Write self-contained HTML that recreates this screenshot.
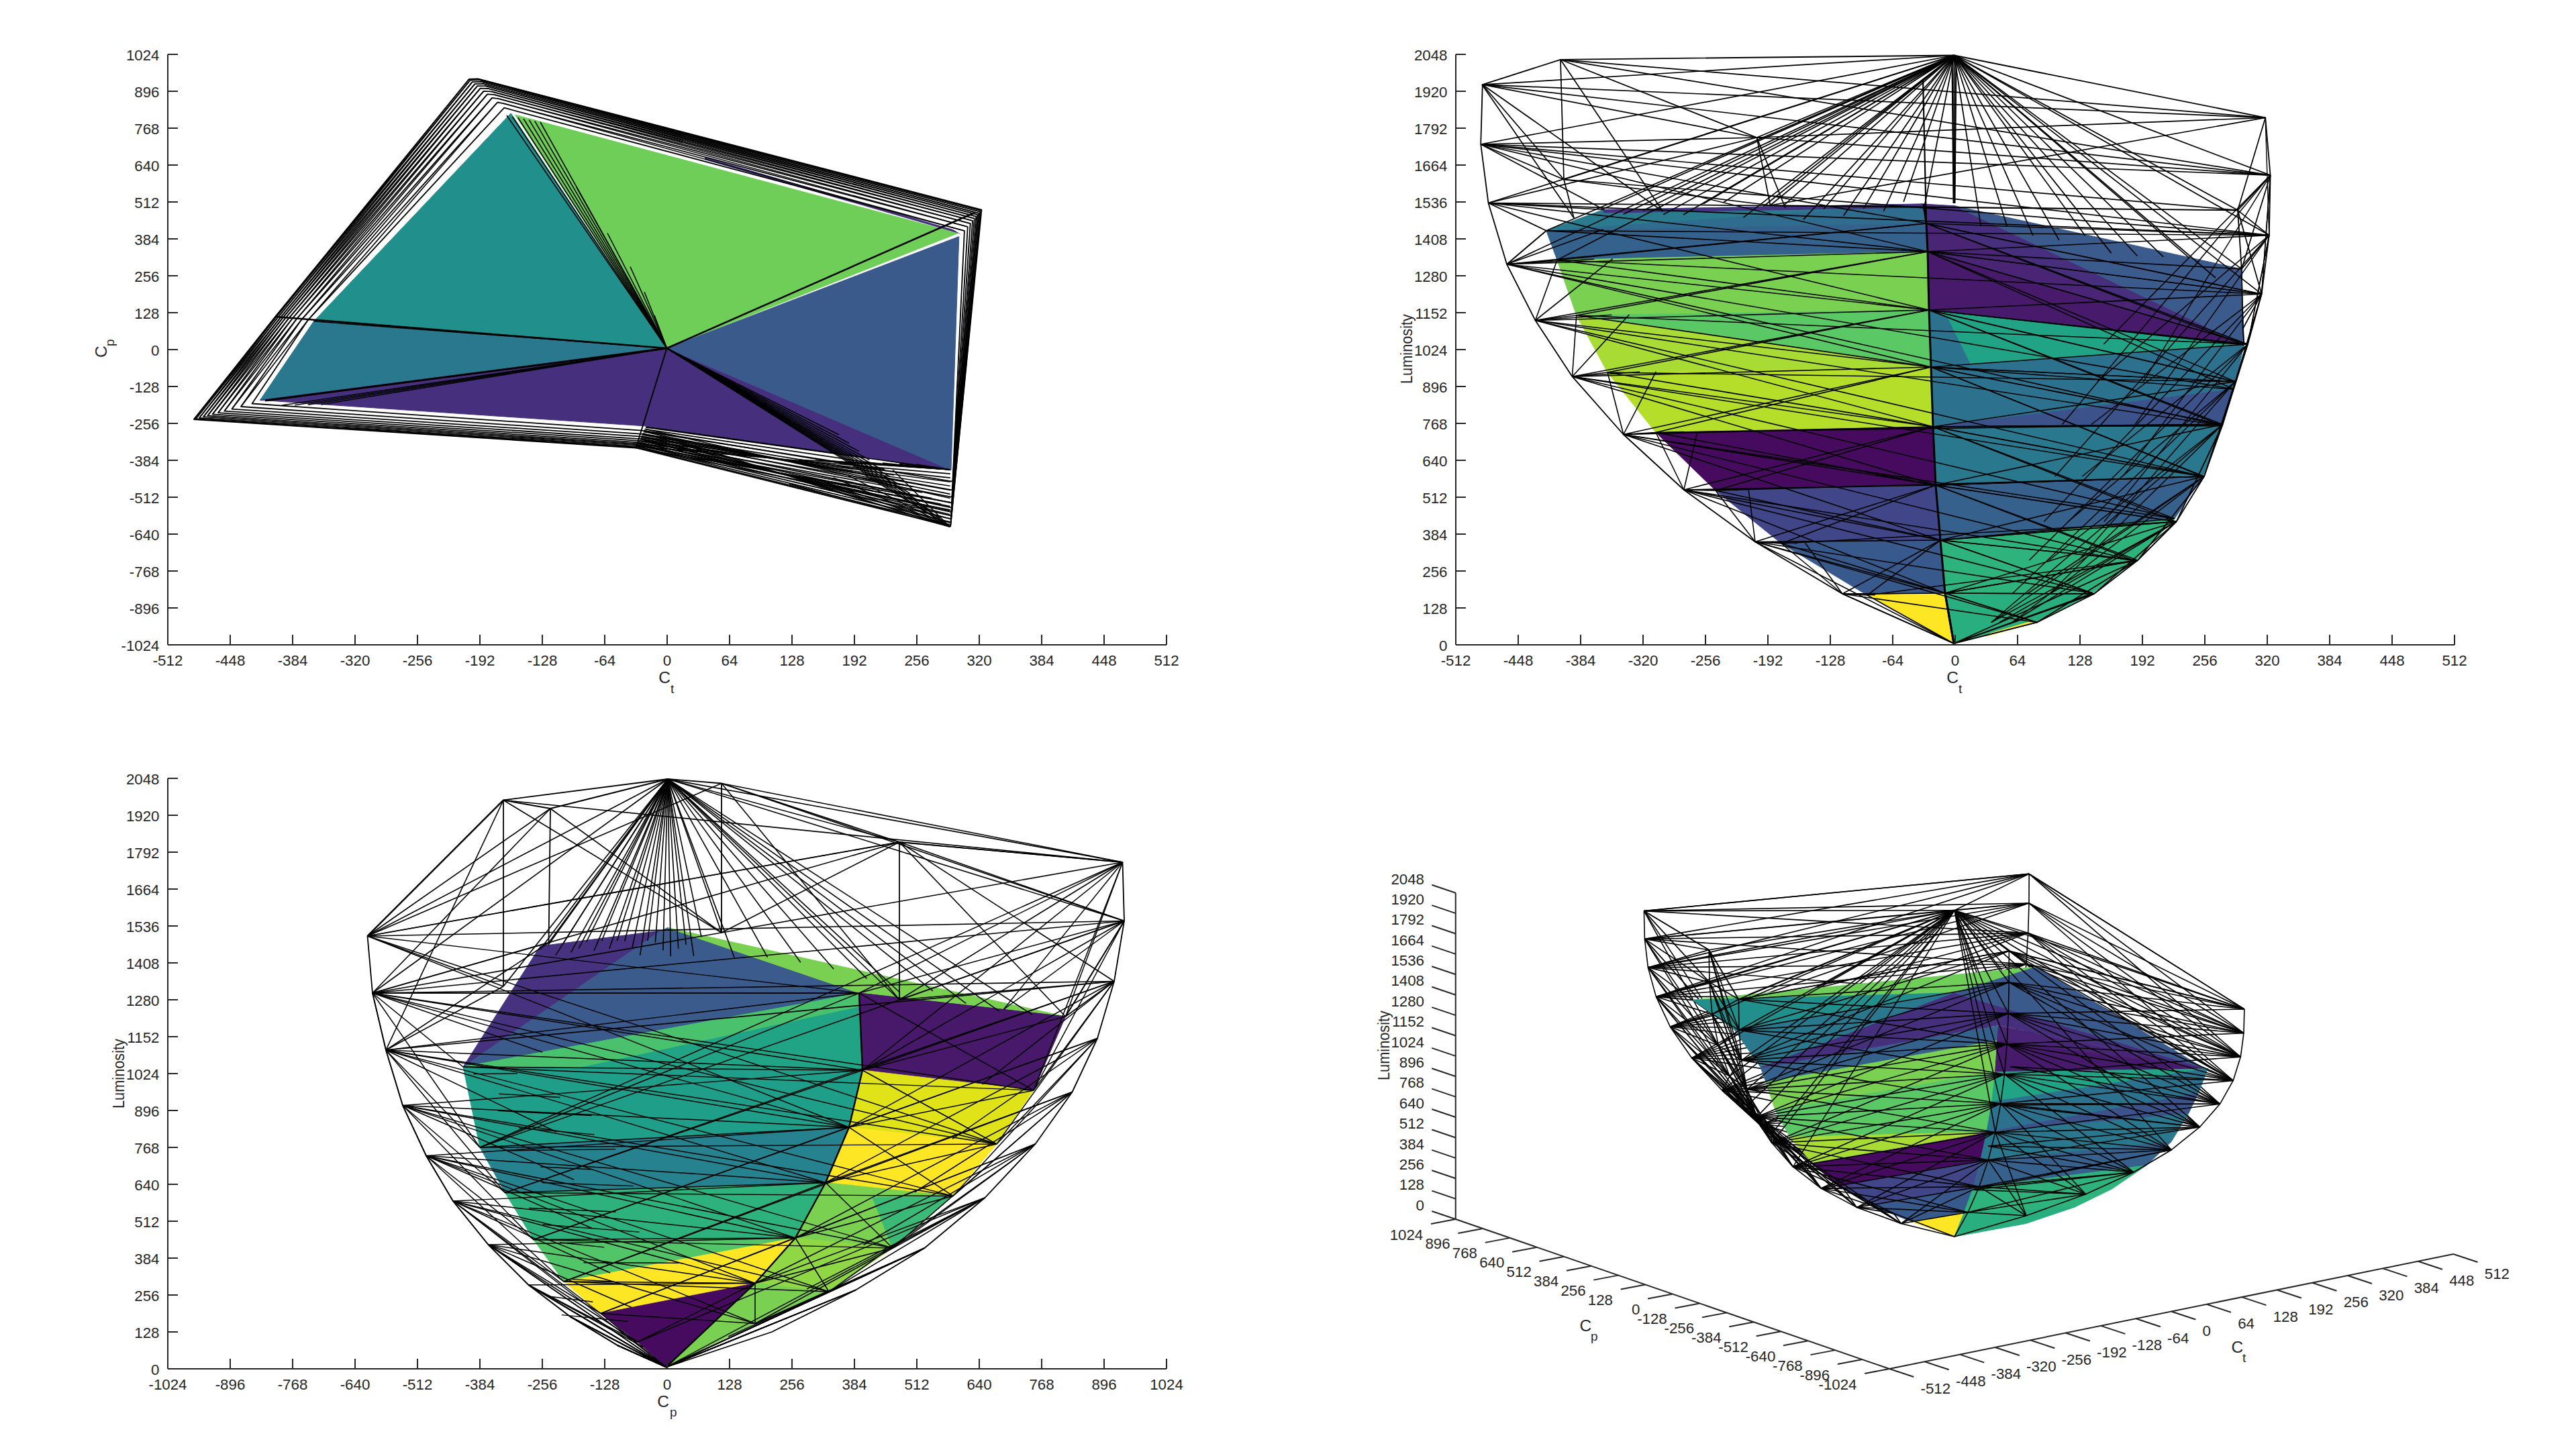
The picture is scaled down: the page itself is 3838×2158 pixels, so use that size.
<!DOCTYPE html><html><head><meta charset="utf-8"><style>html,body{margin:0;padding:0;background:#fff;overflow:hidden}svg{display:block}</style></head><body><svg xmlns="http://www.w3.org/2000/svg" width="3838" height="2158" viewBox="0 0 3838 2158" font-family="Liberation Sans, sans-serif">
<rect width="3838" height="2158" fill="#fff"/>
<polygon points="767.5,171.2 993.5,519.0 1427.5,347.5" fill="#6ece58" stroke="#6ece58" stroke-width="1" stroke-linejoin="round"/>
<polygon points="761.2,168.8 467.5,478.8 993.5,519.0" fill="#21908d" stroke="#21908d" stroke-width="1" stroke-linejoin="round"/>
<polygon points="467.5,478.8 387.5,596.2 993.5,519.0" fill="#2a788e" stroke="#2a788e" stroke-width="1" stroke-linejoin="round"/>
<polygon points="387.5,596.2 993.5,519.0 1417.0,700.5 1365.5,694.0 1288.0,681.5 1150.0,662.8 962.5,635.0 477.5,602.5" fill="#46307e" stroke="#46307e" stroke-width="1" stroke-linejoin="round"/>
<polygon points="993.5,519.0 1428.8,352.5 1417.0,700.5" fill="#3a5a8c" stroke="#3a5a8c" stroke-width="1" stroke-linejoin="round"/>
<polygon points="1050.0,238.0 1427.5,347.5 1433.0,350.0 1420.0,342.0 1050.0,234.0" fill="#46307e"/>
<polygon points="288.8,625.0 410.0,472.0 698.8,118.0 712.5,117.5 1462.5,312.5 1416.2,784.5 947.5,667.5" fill="none" stroke="#000" stroke-width="1.8" stroke-linejoin="round"/>
<polygon points="291.8,624.2 411.7,472.2 700.6,119.5 714.1,119.1 1461.6,313.6 1416.4,782.1 948.0,666.6" fill="none" stroke="#000" stroke-width="1.8" stroke-linejoin="round"/>
<polygon points="297.0,622.8 414.6,472.5 703.8,122.1 716.9,121.8 1460.1,315.5 1416.5,778.1 948.7,665.1" fill="none" stroke="#000" stroke-width="1.8" stroke-linejoin="round"/>
<polygon points="303.2,621.1 418.1,472.9 707.5,125.1 720.2,125.0 1458.2,317.8 1416.8,773.4 949.6,663.2" fill="none" stroke="#000" stroke-width="1.8" stroke-linejoin="round"/>
<polygon points="309.4,619.4 421.5,473.4 711.2,128.2 723.5,128.2 1456.4,320.0 1417.0,768.6 950.5,661.4" fill="none" stroke="#000" stroke-width="1.8" stroke-linejoin="round"/>
<polygon points="316.6,617.4 425.5,473.8 715.6,131.7 727.4,132.0 1454.3,322.6 1417.3,763.0 951.5,659.3" fill="none" stroke="#000" stroke-width="1.8" stroke-linejoin="round"/>
<polygon points="324.9,615.2 430.1,474.4 720.6,135.8 731.8,136.3 1451.8,325.6 1417.6,756.7 952.8,656.8" fill="none" stroke="#000" stroke-width="1.8" stroke-linejoin="round"/>
<polygon points="334.2,612.7 435.3,475.0 726.2,140.3 736.7,141.2 1449.1,329.0 1417.9,749.5 954.1,654.1" fill="none" stroke="#000" stroke-width="1.8" stroke-linejoin="round"/>
<polygon points="345.5,609.6 441.6,475.7 733.1,145.9 742.8,147.1 1445.7,333.1 1418.3,740.8 955.8,650.7" fill="none" stroke="#000" stroke-width="1.8" stroke-linejoin="round"/>
<polygon points="359.0,606.0 449.1,476.6 741.2,152.5 749.9,154.1 1441.8,338.0 1418.8,730.4 957.7,646.8" fill="none" stroke="#000" stroke-width="1.8" stroke-linejoin="round"/>
<polygon points="375.5,601.5 458.3,477.7 751.2,160.6 758.7,162.7 1436.9,344.0 1419.4,717.7 960.1,641.9" fill="none" stroke="#000" stroke-width="1.8" stroke-linejoin="round"/>
<line x1="698.8" y1="118.0" x2="411.7" y2="472.2" stroke="#000" stroke-width="1.6"/>
<line x1="288.8" y1="625.0" x2="411.7" y2="472.2" stroke="#000" stroke-width="1.6"/>
<line x1="712.5" y1="117.5" x2="1461.6" y2="313.6" stroke="#000" stroke-width="1.4"/>
<line x1="700.6" y1="119.5" x2="414.6" y2="472.5" stroke="#000" stroke-width="1.6"/>
<line x1="291.8" y1="624.2" x2="414.6" y2="472.5" stroke="#000" stroke-width="1.6"/>
<line x1="714.1" y1="119.1" x2="1460.1" y2="315.5" stroke="#000" stroke-width="1.4"/>
<line x1="703.8" y1="122.1" x2="418.1" y2="472.9" stroke="#000" stroke-width="1.6"/>
<line x1="297.0" y1="622.8" x2="418.1" y2="472.9" stroke="#000" stroke-width="1.6"/>
<line x1="716.9" y1="121.8" x2="1458.2" y2="317.8" stroke="#000" stroke-width="1.4"/>
<line x1="707.5" y1="125.1" x2="421.5" y2="473.4" stroke="#000" stroke-width="1.6"/>
<line x1="303.2" y1="621.1" x2="421.5" y2="473.4" stroke="#000" stroke-width="1.6"/>
<line x1="720.2" y1="125.0" x2="1456.4" y2="320.0" stroke="#000" stroke-width="1.4"/>
<line x1="711.2" y1="128.2" x2="425.5" y2="473.8" stroke="#000" stroke-width="1.6"/>
<line x1="309.4" y1="619.4" x2="425.5" y2="473.8" stroke="#000" stroke-width="1.6"/>
<line x1="723.5" y1="128.2" x2="1454.3" y2="322.6" stroke="#000" stroke-width="1.4"/>
<line x1="715.6" y1="131.7" x2="430.1" y2="474.4" stroke="#000" stroke-width="1.6"/>
<line x1="316.6" y1="617.4" x2="430.1" y2="474.4" stroke="#000" stroke-width="1.6"/>
<line x1="727.4" y1="132.0" x2="1451.8" y2="325.6" stroke="#000" stroke-width="1.4"/>
<line x1="720.6" y1="135.8" x2="435.3" y2="475.0" stroke="#000" stroke-width="1.6"/>
<line x1="324.9" y1="615.2" x2="435.3" y2="475.0" stroke="#000" stroke-width="1.6"/>
<line x1="731.8" y1="136.3" x2="1449.1" y2="329.0" stroke="#000" stroke-width="1.4"/>
<line x1="726.2" y1="140.3" x2="441.6" y2="475.7" stroke="#000" stroke-width="1.6"/>
<line x1="334.2" y1="612.7" x2="441.6" y2="475.7" stroke="#000" stroke-width="1.6"/>
<line x1="736.7" y1="141.2" x2="1445.7" y2="333.1" stroke="#000" stroke-width="1.4"/>
<line x1="733.1" y1="145.9" x2="449.1" y2="476.6" stroke="#000" stroke-width="1.6"/>
<line x1="345.5" y1="609.6" x2="449.1" y2="476.6" stroke="#000" stroke-width="1.6"/>
<line x1="742.8" y1="147.1" x2="1441.8" y2="338.0" stroke="#000" stroke-width="1.4"/>
<line x1="741.2" y1="152.5" x2="458.3" y2="477.7" stroke="#000" stroke-width="1.6"/>
<line x1="359.0" y1="606.0" x2="458.3" y2="477.7" stroke="#000" stroke-width="1.6"/>
<line x1="749.9" y1="154.1" x2="1436.9" y2="344.0" stroke="#000" stroke-width="1.4"/>
<line x1="962.0" y1="637.0" x2="1416.0" y2="700.0" stroke="#000" stroke-width="1.6"/>
<line x1="961.0" y1="639.2" x2="1415.5" y2="742.5" stroke="#000" stroke-width="1.6"/>
<line x1="959.9" y1="641.4" x2="1415.0" y2="785.0" stroke="#000" stroke-width="1.6"/>
<line x1="958.9" y1="643.5" x2="1415.6" y2="736.4" stroke="#000" stroke-width="1.6"/>
<line x1="957.9" y1="645.7" x2="1415.1" y2="778.9" stroke="#000" stroke-width="1.6"/>
<line x1="956.8" y1="647.9" x2="1415.6" y2="730.4" stroke="#000" stroke-width="1.6"/>
<line x1="955.8" y1="650.1" x2="1415.1" y2="772.9" stroke="#000" stroke-width="1.6"/>
<line x1="954.8" y1="652.2" x2="1415.7" y2="724.3" stroke="#000" stroke-width="1.6"/>
<line x1="953.7" y1="654.4" x2="1415.2" y2="766.8" stroke="#000" stroke-width="1.6"/>
<line x1="952.7" y1="656.6" x2="1415.8" y2="718.2" stroke="#000" stroke-width="1.6"/>
<line x1="951.6" y1="658.8" x2="1415.3" y2="760.7" stroke="#000" stroke-width="1.6"/>
<line x1="950.6" y1="661.0" x2="1415.9" y2="712.1" stroke="#000" stroke-width="1.6"/>
<line x1="949.6" y1="663.1" x2="1415.4" y2="754.6" stroke="#000" stroke-width="1.6"/>
<line x1="948.5" y1="665.3" x2="1415.9" y2="706.1" stroke="#000" stroke-width="1.6"/>
<line x1="947.5" y1="667.5" x2="1415.4" y2="748.6" stroke="#000" stroke-width="1.6"/>
<line x1="962.0" y1="636.0" x2="1290.0" y2="682.0" stroke="#000" stroke-width="1.7"/>
<line x1="960.4" y1="639.5" x2="1304.0" y2="690.7" stroke="#000" stroke-width="1.7"/>
<line x1="958.8" y1="643.0" x2="1318.0" y2="699.3" stroke="#000" stroke-width="1.7"/>
<line x1="957.2" y1="646.5" x2="1332.0" y2="708.0" stroke="#000" stroke-width="1.7"/>
<line x1="955.6" y1="650.0" x2="1346.0" y2="716.7" stroke="#000" stroke-width="1.7"/>
<line x1="953.9" y1="653.5" x2="1360.0" y2="725.3" stroke="#000" stroke-width="1.7"/>
<line x1="952.3" y1="657.0" x2="1374.0" y2="734.0" stroke="#000" stroke-width="1.7"/>
<line x1="950.7" y1="660.5" x2="1388.0" y2="742.7" stroke="#000" stroke-width="1.7"/>
<line x1="949.1" y1="664.0" x2="1402.0" y2="751.3" stroke="#000" stroke-width="1.7"/>
<line x1="947.5" y1="667.5" x2="1416.0" y2="760.0" stroke="#000" stroke-width="1.7"/>
<line x1="1416.0" y1="700.0" x2="1365.0" y2="692.0" stroke="#000" stroke-width="1.5"/>
<line x1="1415.0" y1="785.0" x2="1330.0" y2="700.0" stroke="#000" stroke-width="1.5"/>
<line x1="1416.0" y1="700.0" x2="1340.0" y2="691.0" stroke="#000" stroke-width="1.5"/>
<line x1="1415.0" y1="785.0" x2="1308.0" y2="703.0" stroke="#000" stroke-width="1.5"/>
<line x1="1416.0" y1="700.0" x2="1315.0" y2="690.0" stroke="#000" stroke-width="1.5"/>
<line x1="1415.0" y1="785.0" x2="1286.0" y2="706.0" stroke="#000" stroke-width="1.5"/>
<line x1="1416.0" y1="700.0" x2="1290.0" y2="689.0" stroke="#000" stroke-width="1.5"/>
<line x1="1415.0" y1="785.0" x2="1264.0" y2="709.0" stroke="#000" stroke-width="1.5"/>
<line x1="1416.0" y1="700.0" x2="1265.0" y2="688.0" stroke="#000" stroke-width="1.5"/>
<line x1="1415.0" y1="785.0" x2="1242.0" y2="712.0" stroke="#000" stroke-width="1.5"/>
<line x1="1416.0" y1="700.0" x2="1240.0" y2="687.0" stroke="#000" stroke-width="1.5"/>
<line x1="1415.0" y1="785.0" x2="1220.0" y2="715.0" stroke="#000" stroke-width="1.5"/>
<line x1="1416.0" y1="700.0" x2="1215.0" y2="686.0" stroke="#000" stroke-width="1.5"/>
<line x1="1415.0" y1="785.0" x2="1198.0" y2="718.0" stroke="#000" stroke-width="1.5"/>
<line x1="1416.0" y1="700.0" x2="1190.0" y2="685.0" stroke="#000" stroke-width="1.5"/>
<line x1="1415.0" y1="785.0" x2="1176.0" y2="721.0" stroke="#000" stroke-width="1.5"/>
<line x1="993.5" y1="519.0" x2="755.0" y2="172.0" stroke="#000" stroke-width="1.6"/>
<line x1="993.5" y1="519.0" x2="763.3" y2="173.7" stroke="#000" stroke-width="1.6"/>
<line x1="993.5" y1="519.0" x2="771.7" y2="175.3" stroke="#000" stroke-width="1.6"/>
<line x1="993.5" y1="519.0" x2="780.0" y2="177.0" stroke="#000" stroke-width="1.6"/>
<line x1="993.5" y1="519.0" x2="788.3" y2="178.7" stroke="#000" stroke-width="1.6"/>
<line x1="993.5" y1="519.0" x2="796.7" y2="180.3" stroke="#000" stroke-width="1.6"/>
<line x1="993.5" y1="519.0" x2="805.0" y2="182.0" stroke="#000" stroke-width="1.6"/>
<line x1="993.5" y1="519.0" x2="1452.0" y2="317.0" stroke="#000" stroke-width="2.6"/>
<line x1="993.5" y1="519.0" x2="395.0" y2="597.0" stroke="#000" stroke-width="3"/>
<line x1="993.5" y1="519.0" x2="410.0" y2="472.0" stroke="#000" stroke-width="2.6"/>
<line x1="993.5" y1="519.0" x2="947.5" y2="667.5" stroke="#000" stroke-width="2"/>
<line x1="993.5" y1="519.0" x2="467.5" y2="478.8" stroke="#000" stroke-width="1.5"/>
<line x1="993.5" y1="519.0" x2="1250.0" y2="648.0" stroke="#000" stroke-width="1.6"/>
<line x1="993.5" y1="519.0" x2="1265.1" y2="660.5" stroke="#000" stroke-width="1.6"/>
<line x1="993.5" y1="519.0" x2="1280.2" y2="672.9" stroke="#000" stroke-width="1.6"/>
<line x1="993.5" y1="519.0" x2="1295.3" y2="685.4" stroke="#000" stroke-width="1.6"/>
<line x1="993.5" y1="519.0" x2="1310.4" y2="697.8" stroke="#000" stroke-width="1.6"/>
<line x1="993.5" y1="519.0" x2="1325.5" y2="710.3" stroke="#000" stroke-width="1.6"/>
<line x1="993.5" y1="519.0" x2="1340.5" y2="722.7" stroke="#000" stroke-width="1.6"/>
<line x1="993.5" y1="519.0" x2="1355.6" y2="735.2" stroke="#000" stroke-width="1.6"/>
<line x1="993.5" y1="519.0" x2="1370.7" y2="747.6" stroke="#000" stroke-width="1.6"/>
<line x1="993.5" y1="519.0" x2="1385.8" y2="760.1" stroke="#000" stroke-width="1.6"/>
<line x1="993.5" y1="519.0" x2="1400.9" y2="772.5" stroke="#000" stroke-width="1.6"/>
<line x1="993.5" y1="519.0" x2="1416.0" y2="785.0" stroke="#000" stroke-width="1.6"/>
<line x1="993.5" y1="519.0" x2="478.0" y2="603.0" stroke="#000" stroke-width="1.5"/>
<line x1="993.5" y1="519.0" x2="458.7" y2="603.3" stroke="#000" stroke-width="1.5"/>
<line x1="993.5" y1="519.0" x2="439.3" y2="603.7" stroke="#000" stroke-width="1.5"/>
<line x1="993.5" y1="519.0" x2="420.0" y2="604.0" stroke="#000" stroke-width="1.5"/>
<line x1="993.5" y1="519.0" x2="859.0" y2="279.0" stroke="#000" stroke-width="1.6"/>
<line x1="993.5" y1="519.0" x2="905.0" y2="347.5" stroke="#000" stroke-width="1.6"/>
<line x1="993.5" y1="519.0" x2="939.0" y2="397.5" stroke="#000" stroke-width="1.6"/>
<line x1="993.5" y1="519.0" x2="960.0" y2="435.0" stroke="#000" stroke-width="1.6"/>
<line x1="993.5" y1="519.0" x2="975.0" y2="470.0" stroke="#000" stroke-width="1.6"/>
<text x="990.00" y="1017.50" font-size="24.5" text-anchor="middle" fill="#262626">C</text>
<text x="999.00" y="1032.60" font-size="19" text-anchor="start" fill="#262626">t</text>
<g transform="translate(158.5,521) rotate(-90)"><text x="-12" y="0" font-size="24.5" fill="#262626">C</text><text x="5" y="11" font-size="19" fill="#262626">p</text></g>
<line x1="250.00" y1="961.00" x2="1738.00" y2="961.00" stroke="#262626" stroke-width="2"/>
<line x1="250.00" y1="81.00" x2="250.00" y2="961.00" stroke="#262626" stroke-width="2"/>
<line x1="250.00" y1="961.00" x2="250.00" y2="946.00" stroke="#262626" stroke-width="2"/>
<text x="250.00" y="992.00" font-size="22.3" text-anchor="middle" fill="#262626">-512</text>
<line x1="343.00" y1="961.00" x2="343.00" y2="946.00" stroke="#262626" stroke-width="2"/>
<text x="343.00" y="992.00" font-size="22.3" text-anchor="middle" fill="#262626">-448</text>
<line x1="436.00" y1="961.00" x2="436.00" y2="946.00" stroke="#262626" stroke-width="2"/>
<text x="436.00" y="992.00" font-size="22.3" text-anchor="middle" fill="#262626">-384</text>
<line x1="529.00" y1="961.00" x2="529.00" y2="946.00" stroke="#262626" stroke-width="2"/>
<text x="529.00" y="992.00" font-size="22.3" text-anchor="middle" fill="#262626">-320</text>
<line x1="622.00" y1="961.00" x2="622.00" y2="946.00" stroke="#262626" stroke-width="2"/>
<text x="622.00" y="992.00" font-size="22.3" text-anchor="middle" fill="#262626">-256</text>
<line x1="715.00" y1="961.00" x2="715.00" y2="946.00" stroke="#262626" stroke-width="2"/>
<text x="715.00" y="992.00" font-size="22.3" text-anchor="middle" fill="#262626">-192</text>
<line x1="808.00" y1="961.00" x2="808.00" y2="946.00" stroke="#262626" stroke-width="2"/>
<text x="808.00" y="992.00" font-size="22.3" text-anchor="middle" fill="#262626">-128</text>
<line x1="901.00" y1="961.00" x2="901.00" y2="946.00" stroke="#262626" stroke-width="2"/>
<text x="901.00" y="992.00" font-size="22.3" text-anchor="middle" fill="#262626">-64</text>
<line x1="994.00" y1="961.00" x2="994.00" y2="946.00" stroke="#262626" stroke-width="2"/>
<text x="994.00" y="992.00" font-size="22.3" text-anchor="middle" fill="#262626">0</text>
<line x1="1087.00" y1="961.00" x2="1087.00" y2="946.00" stroke="#262626" stroke-width="2"/>
<text x="1087.00" y="992.00" font-size="22.3" text-anchor="middle" fill="#262626">64</text>
<line x1="1180.00" y1="961.00" x2="1180.00" y2="946.00" stroke="#262626" stroke-width="2"/>
<text x="1180.00" y="992.00" font-size="22.3" text-anchor="middle" fill="#262626">128</text>
<line x1="1273.00" y1="961.00" x2="1273.00" y2="946.00" stroke="#262626" stroke-width="2"/>
<text x="1273.00" y="992.00" font-size="22.3" text-anchor="middle" fill="#262626">192</text>
<line x1="1366.00" y1="961.00" x2="1366.00" y2="946.00" stroke="#262626" stroke-width="2"/>
<text x="1366.00" y="992.00" font-size="22.3" text-anchor="middle" fill="#262626">256</text>
<line x1="1459.00" y1="961.00" x2="1459.00" y2="946.00" stroke="#262626" stroke-width="2"/>
<text x="1459.00" y="992.00" font-size="22.3" text-anchor="middle" fill="#262626">320</text>
<line x1="1552.00" y1="961.00" x2="1552.00" y2="946.00" stroke="#262626" stroke-width="2"/>
<text x="1552.00" y="992.00" font-size="22.3" text-anchor="middle" fill="#262626">384</text>
<line x1="1645.00" y1="961.00" x2="1645.00" y2="946.00" stroke="#262626" stroke-width="2"/>
<text x="1645.00" y="992.00" font-size="22.3" text-anchor="middle" fill="#262626">448</text>
<line x1="1738.00" y1="961.00" x2="1738.00" y2="946.00" stroke="#262626" stroke-width="2"/>
<text x="1738.00" y="992.00" font-size="22.3" text-anchor="middle" fill="#262626">512</text>
<line x1="250.00" y1="961.00" x2="265.00" y2="961.00" stroke="#262626" stroke-width="2"/>
<text x="237.50" y="970.00" font-size="22.3" text-anchor="end" fill="#262626">-1024</text>
<line x1="250.00" y1="906.00" x2="265.00" y2="906.00" stroke="#262626" stroke-width="2"/>
<text x="237.50" y="915.00" font-size="22.3" text-anchor="end" fill="#262626">-896</text>
<line x1="250.00" y1="851.00" x2="265.00" y2="851.00" stroke="#262626" stroke-width="2"/>
<text x="237.50" y="860.00" font-size="22.3" text-anchor="end" fill="#262626">-768</text>
<line x1="250.00" y1="796.00" x2="265.00" y2="796.00" stroke="#262626" stroke-width="2"/>
<text x="237.50" y="805.00" font-size="22.3" text-anchor="end" fill="#262626">-640</text>
<line x1="250.00" y1="741.00" x2="265.00" y2="741.00" stroke="#262626" stroke-width="2"/>
<text x="237.50" y="750.00" font-size="22.3" text-anchor="end" fill="#262626">-512</text>
<line x1="250.00" y1="686.00" x2="265.00" y2="686.00" stroke="#262626" stroke-width="2"/>
<text x="237.50" y="695.00" font-size="22.3" text-anchor="end" fill="#262626">-384</text>
<line x1="250.00" y1="631.00" x2="265.00" y2="631.00" stroke="#262626" stroke-width="2"/>
<text x="237.50" y="640.00" font-size="22.3" text-anchor="end" fill="#262626">-256</text>
<line x1="250.00" y1="576.00" x2="265.00" y2="576.00" stroke="#262626" stroke-width="2"/>
<text x="237.50" y="585.00" font-size="22.3" text-anchor="end" fill="#262626">-128</text>
<line x1="250.00" y1="521.00" x2="265.00" y2="521.00" stroke="#262626" stroke-width="2"/>
<text x="237.50" y="530.00" font-size="22.3" text-anchor="end" fill="#262626">0</text>
<line x1="250.00" y1="466.00" x2="265.00" y2="466.00" stroke="#262626" stroke-width="2"/>
<text x="237.50" y="475.00" font-size="22.3" text-anchor="end" fill="#262626">128</text>
<line x1="250.00" y1="411.00" x2="265.00" y2="411.00" stroke="#262626" stroke-width="2"/>
<text x="237.50" y="420.00" font-size="22.3" text-anchor="end" fill="#262626">256</text>
<line x1="250.00" y1="356.00" x2="265.00" y2="356.00" stroke="#262626" stroke-width="2"/>
<text x="237.50" y="365.00" font-size="22.3" text-anchor="end" fill="#262626">384</text>
<line x1="250.00" y1="301.00" x2="265.00" y2="301.00" stroke="#262626" stroke-width="2"/>
<text x="237.50" y="310.00" font-size="22.3" text-anchor="end" fill="#262626">512</text>
<line x1="250.00" y1="246.00" x2="265.00" y2="246.00" stroke="#262626" stroke-width="2"/>
<text x="237.50" y="255.00" font-size="22.3" text-anchor="end" fill="#262626">640</text>
<line x1="250.00" y1="191.00" x2="265.00" y2="191.00" stroke="#262626" stroke-width="2"/>
<text x="237.50" y="200.00" font-size="22.3" text-anchor="end" fill="#262626">768</text>
<line x1="250.00" y1="136.00" x2="265.00" y2="136.00" stroke="#262626" stroke-width="2"/>
<text x="237.50" y="145.00" font-size="22.3" text-anchor="end" fill="#262626">896</text>
<line x1="250.00" y1="81.00" x2="265.00" y2="81.00" stroke="#262626" stroke-width="2"/>
<text x="237.50" y="90.00" font-size="22.3" text-anchor="end" fill="#262626">1024</text>
<polygon points="2388.8,312.5 2866.0,304.0 2303.8,343.8" fill="#2a7b8e" stroke="#2a7b8e" stroke-width="1" stroke-linejoin="round"/>
<polygon points="2303.8,343.8 2866.0,304.0 2870.0,333.0" fill="#2f6c8e" stroke="#2f6c8e" stroke-width="1" stroke-linejoin="round"/>
<polygon points="2388.8,312.5 2866.0,304.0 2866.0,309.0 2390.0,317.0" fill="#46327e" stroke="#46327e" stroke-width="1" stroke-linejoin="round"/>
<polygon points="2303.8,343.8 2870.0,333.0 2872.0,375.0 2320.0,387.5" fill="#34628d" stroke="#34628d" stroke-width="1" stroke-linejoin="round"/>
<polygon points="2320.0,387.5 2872.0,375.0 2874.0,462.0 2348.8,470.0" fill="#7ad151" stroke="#7ad151" stroke-width="1" stroke-linejoin="round"/>
<polygon points="2348.8,470.0 2874.0,462.0 2877.0,547.0" fill="#5ac864" stroke="#5ac864" stroke-width="1" stroke-linejoin="round"/>
<polygon points="2348.8,470.0 2877.0,547.0 2395.0,555.0" fill="#a8db34" stroke="#a8db34" stroke-width="1" stroke-linejoin="round"/>
<polygon points="2395.0,555.0 2877.0,547.0 2880.0,636.0 2467.0,644.5" fill="#b5de2b" stroke="#b5de2b" stroke-width="1" stroke-linejoin="round"/>
<polygon points="2467.0,644.5 2880.0,636.0 2884.0,723.0 2556.0,731.0" fill="#460b5e" stroke="#460b5e" stroke-width="1" stroke-linejoin="round"/>
<polygon points="2556.0,731.0 2884.0,723.0 2891.0,805.0 2654.0,810.0" fill="#404688" stroke="#404688" stroke-width="1" stroke-linejoin="round"/>
<polygon points="2654.0,810.0 2891.0,805.0 2898.0,884.0 2782.0,887.0" fill="#38598c" stroke="#38598c" stroke-width="1" stroke-linejoin="round"/>
<polygon points="2782.0,887.0 2898.0,884.0 2911.0,959.0" fill="#fde725" stroke="#fde725" stroke-width="1" stroke-linejoin="round"/>
<polygon points="2866.0,304.0 2912.5,306.8 3343.5,514.0 2870.0,333.0" fill="#472f7d" stroke="#472f7d" stroke-width="1" stroke-linejoin="round"/>
<polygon points="2912.5,306.8 3339.8,400.9 3343.5,514.0" fill="#3b5b8c" stroke="#3b5b8c" stroke-width="1" stroke-linejoin="round"/>
<polygon points="2870.0,333.0 3343.5,514.0 2872.0,375.0" fill="#4a2475" stroke="#4a2475" stroke-width="1" stroke-linejoin="round"/>
<polygon points="2872.0,375.0 3343.5,514.0 2874.0,462.0" fill="#481a6c" stroke="#481a6c" stroke-width="1" stroke-linejoin="round"/>
<polygon points="2874.0,462.0 3343.5,514.0 2877.0,547.0" fill="#21a386" stroke="#21a386" stroke-width="1" stroke-linejoin="round"/>
<polygon points="2874.0,462.0 2902.0,475.0 2936.0,544.0 2877.0,547.0" fill="#2c728e" stroke="#2c728e" stroke-width="1" stroke-linejoin="round"/>
<polygon points="2877.0,547.0 3343.5,514.0 3328.0,580.0 2880.0,636.0" fill="#2c728e" stroke="#2c728e" stroke-width="1" stroke-linejoin="round"/>
<polygon points="2880.0,636.0 3328.0,580.0 3311.4,634.6" fill="#3b528b" stroke="#3b528b" stroke-width="1" stroke-linejoin="round"/>
<polygon points="2880.0,636.0 3311.4,634.6 3282.0,710.0 2884.0,723.0" fill="#2a788e" stroke="#2a788e" stroke-width="1" stroke-linejoin="round"/>
<polygon points="2884.0,723.0 3282.0,710.0 3240.0,773.0 2891.0,805.0" fill="#37618d" stroke="#37618d" stroke-width="1" stroke-linejoin="round"/>
<polygon points="2891.0,805.0 3240.0,773.0 3181.0,836.0 3118.0,884.0 2898.0,884.0" fill="#2eb37c" stroke="#2eb37c" stroke-width="1" stroke-linejoin="round"/>
<polygon points="2898.0,884.0 3118.0,884.0 3035.0,927.5 2911.0,959.0" fill="#29af7f" stroke="#29af7f" stroke-width="1" stroke-linejoin="round"/>
<polygon points="3035.0,927.5 2960.0,948.0 2965.0,944.0 3030.0,925.0" fill="#fde725" stroke="#fde725" stroke-width="1" stroke-linejoin="round"/>
<polyline points="2911.5,82.5 2325.0,88.8 2208.8,126.2 2206.2,215.0 2217.5,302.5 2245.0,393.8 2287.5,477.5 2342.5,561.2 2418.8,647.5 2508.8,730.0 2615.0,807.5 2745.0,885.0 2911.0,959.0" fill="none" stroke="#000" stroke-width="1.8" stroke-linejoin="round"/>
<polyline points="2911.5,82.5 3375.2,175.4 3382.6,261.1 3380.8,350.6 3369.6,438.2 3349.0,513.0 3330.4,568.6 3311.5,632.5 3284.0,710.0 3242.5,777.5 3185.0,835.0 3120.0,885.0 3035.0,927.5 2911.0,959.0" fill="none" stroke="#000" stroke-width="1.8" stroke-linejoin="round"/>
<line x1="2911.5" y1="82.5" x2="2208.8" y2="126.2" stroke="#000" stroke-width="1.7"/>
<line x1="2911.5" y1="82.5" x2="2206.2" y2="215.0" stroke="#000" stroke-width="1.7"/>
<line x1="2911.5" y1="82.5" x2="2217.5" y2="302.5" stroke="#000" stroke-width="1.7"/>
<line x1="2911.5" y1="82.5" x2="2330.0" y2="267.5" stroke="#000" stroke-width="1.7"/>
<line x1="2911.5" y1="82.5" x2="2617.5" y2="205.0" stroke="#000" stroke-width="1.7"/>
<line x1="2911.5" y1="82.5" x2="2637.5" y2="306.0" stroke="#000" stroke-width="1.7"/>
<line x1="2911.5" y1="82.5" x2="3334.0" y2="313.3" stroke="#000" stroke-width="1.7"/>
<line x1="2911.5" y1="82.5" x2="3382.6" y2="261.1" stroke="#000" stroke-width="1.7"/>
<line x1="2911.5" y1="82.5" x2="3380.8" y2="350.6" stroke="#000" stroke-width="1.7"/>
<line x1="2911.5" y1="82.5" x2="3369.6" y2="438.2" stroke="#000" stroke-width="1.7"/>
<line x1="2911.5" y1="82.5" x2="3339.8" y2="400.9" stroke="#000" stroke-width="1.7"/>
<line x1="2911.5" y1="82.5" x2="2388.8" y2="311.2" stroke="#000" stroke-width="1.7"/>
<line x1="2911.5" y1="82.5" x2="2418.6" y2="319.2" stroke="#000" stroke-width="1.7"/>
<line x1="2911.5" y1="82.5" x2="2448.4" y2="313.8" stroke="#000" stroke-width="1.7"/>
<line x1="2911.5" y1="82.5" x2="2478.2" y2="319.8" stroke="#000" stroke-width="1.7"/>
<line x1="2911.5" y1="82.5" x2="2508.1" y2="319.9" stroke="#000" stroke-width="1.7"/>
<line x1="2911.5" y1="82.5" x2="2537.9" y2="303.7" stroke="#000" stroke-width="1.7"/>
<line x1="2911.5" y1="82.5" x2="2567.7" y2="301.7" stroke="#000" stroke-width="1.7"/>
<line x1="2911.5" y1="82.5" x2="2597.5" y2="324.2" stroke="#000" stroke-width="1.7"/>
<line x1="2911.5" y1="82.5" x2="2627.4" y2="307.5" stroke="#000" stroke-width="1.7"/>
<line x1="2911.5" y1="82.5" x2="2657.2" y2="306.3" stroke="#000" stroke-width="1.7"/>
<line x1="2911.5" y1="82.5" x2="2687.0" y2="327.1" stroke="#000" stroke-width="1.7"/>
<line x1="2911.5" y1="82.5" x2="2716.9" y2="311.8" stroke="#000" stroke-width="1.7"/>
<line x1="2911.5" y1="82.5" x2="2746.7" y2="321.5" stroke="#000" stroke-width="1.7"/>
<line x1="2911.5" y1="82.5" x2="2776.5" y2="310.9" stroke="#000" stroke-width="1.7"/>
<line x1="2911.5" y1="82.5" x2="2806.3" y2="315.0" stroke="#000" stroke-width="1.7"/>
<line x1="2911.5" y1="82.5" x2="2836.2" y2="300.7" stroke="#000" stroke-width="1.7"/>
<line x1="2911.5" y1="82.5" x2="2866.0" y2="313.8" stroke="#000" stroke-width="1.7"/>
<line x1="2911.5" y1="82.5" x2="2951.3" y2="337.1" stroke="#000" stroke-width="1.7"/>
<line x1="2911.5" y1="82.5" x2="2990.2" y2="337.0" stroke="#000" stroke-width="1.7"/>
<line x1="2911.5" y1="82.5" x2="3029.0" y2="351.0" stroke="#000" stroke-width="1.7"/>
<line x1="2911.5" y1="82.5" x2="3067.9" y2="357.8" stroke="#000" stroke-width="1.7"/>
<line x1="2911.5" y1="82.5" x2="3106.7" y2="351.2" stroke="#000" stroke-width="1.7"/>
<line x1="2911.5" y1="82.5" x2="3145.6" y2="377.1" stroke="#000" stroke-width="1.7"/>
<line x1="2911.5" y1="82.5" x2="3184.4" y2="381.5" stroke="#000" stroke-width="1.7"/>
<line x1="2911.5" y1="82.5" x2="3223.3" y2="382.8" stroke="#000" stroke-width="1.7"/>
<line x1="2911.5" y1="82.5" x2="3262.1" y2="384.6" stroke="#000" stroke-width="1.7"/>
<line x1="2911.5" y1="82.5" x2="3301.0" y2="414.0" stroke="#000" stroke-width="1.7"/>
<line x1="2911.5" y1="82.5" x2="2245.0" y2="393.8" stroke="#000" stroke-width="1.7"/>
<line x1="2911.5" y1="82.5" x2="2303.8" y2="343.8" stroke="#000" stroke-width="1.7"/>
<line x1="2911.5" y1="82.5" x2="2320.0" y2="387.5" stroke="#000" stroke-width="1.7"/>
<line x1="2865.0" y1="117.5" x2="2870.0" y2="333.0" stroke="#000" stroke-width="2.2"/>
<line x1="2908.5" y1="82.5" x2="2910.6" y2="303.0" stroke="#000" stroke-width="2.2"/>
<line x1="2911.5" y1="82.5" x2="2911.5" y2="303.0" stroke="#000" stroke-width="2.2"/>
<line x1="2914.5" y1="82.5" x2="2912.4" y2="303.0" stroke="#000" stroke-width="2.2"/>
<line x1="2866.0" y1="304.0" x2="2870.0" y2="333.0" stroke="#000" stroke-width="3"/>
<line x1="2870.0" y1="333.0" x2="2872.0" y2="375.0" stroke="#000" stroke-width="3"/>
<line x1="2872.0" y1="375.0" x2="2874.0" y2="462.0" stroke="#000" stroke-width="3"/>
<line x1="2874.0" y1="462.0" x2="2877.0" y2="547.0" stroke="#000" stroke-width="3"/>
<line x1="2877.0" y1="547.0" x2="2880.0" y2="636.0" stroke="#000" stroke-width="3"/>
<line x1="2880.0" y1="636.0" x2="2884.0" y2="723.0" stroke="#000" stroke-width="3"/>
<line x1="2884.0" y1="723.0" x2="2891.0" y2="805.0" stroke="#000" stroke-width="3"/>
<line x1="2891.0" y1="805.0" x2="2898.0" y2="884.0" stroke="#000" stroke-width="3"/>
<line x1="2898.0" y1="884.0" x2="2911.0" y2="959.0" stroke="#000" stroke-width="3"/>
<line x1="2898.0" y1="884.0" x2="2911.0" y2="959.0" stroke="#000" stroke-width="3"/>
<line x1="2325.0" y1="88.8" x2="3375.2" y2="175.4" stroke="#000" stroke-width="1.7"/>
<line x1="2208.8" y1="126.2" x2="3375.2" y2="175.4" stroke="#000" stroke-width="1.7"/>
<line x1="2208.8" y1="126.2" x2="2617.5" y2="205.0" stroke="#000" stroke-width="1.7"/>
<line x1="2325.0" y1="88.8" x2="2617.5" y2="205.0" stroke="#000" stroke-width="1.7"/>
<line x1="2617.5" y1="205.0" x2="3375.2" y2="175.4" stroke="#000" stroke-width="1.7"/>
<line x1="2617.5" y1="205.0" x2="3382.6" y2="261.1" stroke="#000" stroke-width="1.7"/>
<line x1="2206.2" y1="215.0" x2="2617.5" y2="205.0" stroke="#000" stroke-width="1.7"/>
<line x1="2206.2" y1="215.0" x2="3382.6" y2="261.1" stroke="#000" stroke-width="1.7"/>
<line x1="2206.2" y1="215.0" x2="2330.0" y2="267.5" stroke="#000" stroke-width="1.7"/>
<line x1="2208.8" y1="126.2" x2="2330.0" y2="267.5" stroke="#000" stroke-width="1.7"/>
<line x1="2217.5" y1="302.5" x2="3380.8" y2="350.6" stroke="#000" stroke-width="1.7"/>
<line x1="2217.5" y1="302.5" x2="2617.5" y2="205.0" stroke="#000" stroke-width="1.7"/>
<line x1="2330.0" y1="267.5" x2="3380.8" y2="350.6" stroke="#000" stroke-width="1.7"/>
<line x1="2330.0" y1="267.5" x2="2637.5" y2="306.0" stroke="#000" stroke-width="1.7"/>
<line x1="2617.5" y1="205.0" x2="2637.5" y2="306.0" stroke="#000" stroke-width="1.7"/>
<line x1="2325.0" y1="88.8" x2="2330.0" y2="267.5" stroke="#000" stroke-width="1.7"/>
<line x1="2208.8" y1="126.2" x2="2477.5" y2="315.0" stroke="#000" stroke-width="1.7"/>
<line x1="2325.0" y1="88.8" x2="2477.5" y2="315.0" stroke="#000" stroke-width="1.7"/>
<line x1="2206.2" y1="215.0" x2="3380.8" y2="350.6" stroke="#000" stroke-width="1.7"/>
<line x1="2217.5" y1="302.5" x2="3334.0" y2="313.3" stroke="#000" stroke-width="1.7"/>
<line x1="2637.5" y1="306.0" x2="3334.0" y2="313.3" stroke="#000" stroke-width="1.7"/>
<line x1="3375.2" y1="175.4" x2="3334.0" y2="313.3" stroke="#000" stroke-width="1.7"/>
<line x1="3382.6" y1="261.1" x2="3334.0" y2="313.3" stroke="#000" stroke-width="1.7"/>
<line x1="3380.8" y1="350.6" x2="3334.0" y2="313.3" stroke="#000" stroke-width="1.7"/>
<line x1="3334.0" y1="313.3" x2="3369.6" y2="438.2" stroke="#000" stroke-width="1.7"/>
<line x1="3375.2" y1="175.4" x2="2637.5" y2="306.0" stroke="#000" stroke-width="1.7"/>
<line x1="2206.2" y1="215.0" x2="3334.0" y2="313.3" stroke="#000" stroke-width="1.7"/>
<line x1="2217.5" y1="302.5" x2="2390.0" y2="312.5" stroke="#000" stroke-width="1.7"/>
<line x1="2245.0" y1="393.8" x2="2303.8" y2="343.8" stroke="#000" stroke-width="1.7"/>
<line x1="2217.5" y1="302.5" x2="2303.8" y2="343.8" stroke="#000" stroke-width="1.7"/>
<line x1="2330.0" y1="267.5" x2="2345.0" y2="325.0" stroke="#000" stroke-width="1.7"/>
<line x1="2206.2" y1="215.0" x2="2390.0" y2="312.5" stroke="#000" stroke-width="1.7"/>
<line x1="2208.0" y1="126.0" x2="2345.0" y2="325.0" stroke="#000" stroke-width="1.7"/>
<line x1="3382.6" y1="261.1" x2="3339.8" y2="400.9" stroke="#000" stroke-width="1.7"/>
<line x1="3380.8" y1="350.6" x2="3339.8" y2="400.9" stroke="#000" stroke-width="1.7"/>
<line x1="3369.6" y1="438.2" x2="3341.6" y2="490.0" stroke="#000" stroke-width="1.7"/>
<line x1="2617.5" y1="205.0" x2="2660.0" y2="310.0" stroke="#000" stroke-width="1.7"/>
<line x1="2208.8" y1="126.2" x2="3382.6" y2="261.1" stroke="#000" stroke-width="1.7"/>
<line x1="2325.0" y1="88.8" x2="3382.6" y2="261.1" stroke="#000" stroke-width="1.7"/>
<line x1="2245.0" y1="393.8" x2="2303.8" y2="343.8" stroke="#000" stroke-width="1.6"/>
<line x1="2245.0" y1="393.8" x2="2320.0" y2="387.5" stroke="#000" stroke-width="1.6"/>
<line x1="2245.0" y1="393.8" x2="2872.0" y2="375.0" stroke="#000" stroke-width="1.6"/>
<line x1="2245.0" y1="393.8" x2="2870.0" y2="333.0" stroke="#000" stroke-width="1.6"/>
<line x1="2245.0" y1="393.8" x2="3328.0" y2="580.0" stroke="#000" stroke-width="1.6"/>
<line x1="2245.0" y1="393.8" x2="3311.4" y2="634.6" stroke="#000" stroke-width="1.6"/>
<line x1="2245.0" y1="393.8" x2="2388.7" y2="342.1" stroke="#000" stroke-width="1.6"/>
<line x1="2245.0" y1="393.8" x2="2375.2" y2="386.2" stroke="#000" stroke-width="1.6"/>
<line x1="2287.5" y1="477.5" x2="2320.0" y2="387.5" stroke="#000" stroke-width="1.6"/>
<line x1="2287.5" y1="477.5" x2="2348.8" y2="470.0" stroke="#000" stroke-width="1.6"/>
<line x1="2287.5" y1="477.5" x2="2874.0" y2="462.0" stroke="#000" stroke-width="1.6"/>
<line x1="2287.5" y1="477.5" x2="2872.0" y2="375.0" stroke="#000" stroke-width="1.6"/>
<line x1="2287.5" y1="477.5" x2="3311.4" y2="634.6" stroke="#000" stroke-width="1.6"/>
<line x1="2287.5" y1="477.5" x2="3282.0" y2="710.0" stroke="#000" stroke-width="1.6"/>
<line x1="2287.5" y1="477.5" x2="2402.8" y2="385.6" stroke="#000" stroke-width="1.6"/>
<line x1="2287.5" y1="477.5" x2="2401.3" y2="469.2" stroke="#000" stroke-width="1.6"/>
<line x1="2342.5" y1="561.2" x2="2348.8" y2="470.0" stroke="#000" stroke-width="1.6"/>
<line x1="2342.5" y1="561.2" x2="2395.0" y2="555.0" stroke="#000" stroke-width="1.6"/>
<line x1="2342.5" y1="561.2" x2="2877.0" y2="547.0" stroke="#000" stroke-width="1.6"/>
<line x1="2342.5" y1="561.2" x2="2874.0" y2="462.0" stroke="#000" stroke-width="1.6"/>
<line x1="2342.5" y1="561.2" x2="3282.0" y2="710.0" stroke="#000" stroke-width="1.6"/>
<line x1="2342.5" y1="561.2" x2="3240.0" y2="773.0" stroke="#000" stroke-width="1.6"/>
<line x1="2342.5" y1="561.2" x2="2427.5" y2="468.8" stroke="#000" stroke-width="1.6"/>
<line x1="2342.5" y1="561.2" x2="2443.2" y2="554.2" stroke="#000" stroke-width="1.6"/>
<line x1="2418.8" y1="647.5" x2="2395.0" y2="555.0" stroke="#000" stroke-width="1.6"/>
<line x1="2418.8" y1="647.5" x2="2467.0" y2="644.5" stroke="#000" stroke-width="1.6"/>
<line x1="2418.8" y1="647.5" x2="2880.0" y2="636.0" stroke="#000" stroke-width="1.6"/>
<line x1="2418.8" y1="647.5" x2="2877.0" y2="547.0" stroke="#000" stroke-width="1.6"/>
<line x1="2418.8" y1="647.5" x2="3240.0" y2="773.0" stroke="#000" stroke-width="1.6"/>
<line x1="2418.8" y1="647.5" x2="3181.0" y2="836.0" stroke="#000" stroke-width="1.6"/>
<line x1="2418.8" y1="647.5" x2="2467.3" y2="553.8" stroke="#000" stroke-width="1.6"/>
<line x1="2418.8" y1="647.5" x2="2508.3" y2="643.6" stroke="#000" stroke-width="1.6"/>
<line x1="2508.8" y1="730.0" x2="2467.0" y2="644.5" stroke="#000" stroke-width="1.6"/>
<line x1="2508.8" y1="730.0" x2="2556.0" y2="731.0" stroke="#000" stroke-width="1.6"/>
<line x1="2508.8" y1="730.0" x2="2884.0" y2="723.0" stroke="#000" stroke-width="1.6"/>
<line x1="2508.8" y1="730.0" x2="2880.0" y2="636.0" stroke="#000" stroke-width="1.6"/>
<line x1="2508.8" y1="730.0" x2="3181.0" y2="836.0" stroke="#000" stroke-width="1.6"/>
<line x1="2508.8" y1="730.0" x2="3118.0" y2="884.0" stroke="#000" stroke-width="1.6"/>
<line x1="2508.8" y1="730.0" x2="2528.9" y2="643.2" stroke="#000" stroke-width="1.6"/>
<line x1="2508.8" y1="730.0" x2="2588.8" y2="730.2" stroke="#000" stroke-width="1.6"/>
<line x1="2615.0" y1="807.5" x2="2556.0" y2="731.0" stroke="#000" stroke-width="1.6"/>
<line x1="2615.0" y1="807.5" x2="2654.0" y2="810.0" stroke="#000" stroke-width="1.6"/>
<line x1="2615.0" y1="807.5" x2="2891.0" y2="805.0" stroke="#000" stroke-width="1.6"/>
<line x1="2615.0" y1="807.5" x2="2884.0" y2="723.0" stroke="#000" stroke-width="1.6"/>
<line x1="2615.0" y1="807.5" x2="3118.0" y2="884.0" stroke="#000" stroke-width="1.6"/>
<line x1="2615.0" y1="807.5" x2="3035.0" y2="927.5" stroke="#000" stroke-width="1.6"/>
<line x1="2615.0" y1="807.5" x2="2605.2" y2="729.8" stroke="#000" stroke-width="1.6"/>
<line x1="2615.0" y1="807.5" x2="2677.7" y2="809.5" stroke="#000" stroke-width="1.6"/>
<line x1="2745.0" y1="885.0" x2="2654.0" y2="810.0" stroke="#000" stroke-width="1.6"/>
<line x1="2745.0" y1="885.0" x2="2782.0" y2="887.0" stroke="#000" stroke-width="1.6"/>
<line x1="2745.0" y1="885.0" x2="2898.0" y2="884.0" stroke="#000" stroke-width="1.6"/>
<line x1="2745.0" y1="885.0" x2="2891.0" y2="805.0" stroke="#000" stroke-width="1.6"/>
<line x1="2745.0" y1="885.0" x2="3035.0" y2="927.5" stroke="#000" stroke-width="1.6"/>
<line x1="2745.0" y1="885.0" x2="2911.0" y2="959.0" stroke="#000" stroke-width="1.6"/>
<line x1="2745.0" y1="885.0" x2="2689.6" y2="809.2" stroke="#000" stroke-width="1.6"/>
<line x1="2745.0" y1="885.0" x2="2793.6" y2="886.7" stroke="#000" stroke-width="1.6"/>
<line x1="2303.8" y1="343.8" x2="2872.0" y2="375.0" stroke="#000" stroke-width="1.7"/>
<line x1="2320.0" y1="387.5" x2="2870.0" y2="333.0" stroke="#000" stroke-width="1.7"/>
<line x1="2870.0" y1="333.0" x2="3343.5" y2="514.0" stroke="#000" stroke-width="1.6"/>
<line x1="2872.0" y1="375.0" x2="3339.8" y2="400.9" stroke="#000" stroke-width="1.6"/>
<line x1="2206.2" y1="215.0" x2="2870.0" y2="333.0" stroke="#000" stroke-width="1.6"/>
<line x1="2206.2" y1="215.0" x2="2872.0" y2="375.0" stroke="#000" stroke-width="1.6"/>
<line x1="2870.0" y1="333.0" x2="3369.6" y2="438.2" stroke="#000" stroke-width="1.6"/>
<line x1="2872.0" y1="375.0" x2="3380.8" y2="350.6" stroke="#000" stroke-width="1.6"/>
<line x1="2303.8" y1="343.8" x2="3380.8" y2="350.6" stroke="#000" stroke-width="1.5"/>
<line x1="2320.0" y1="387.5" x2="2874.0" y2="462.0" stroke="#000" stroke-width="1.7"/>
<line x1="2348.8" y1="470.0" x2="2872.0" y2="375.0" stroke="#000" stroke-width="1.7"/>
<line x1="2872.0" y1="375.0" x2="3328.0" y2="580.0" stroke="#000" stroke-width="1.6"/>
<line x1="2874.0" y1="462.0" x2="3343.5" y2="514.0" stroke="#000" stroke-width="1.6"/>
<line x1="2217.5" y1="302.5" x2="2872.0" y2="375.0" stroke="#000" stroke-width="1.6"/>
<line x1="2217.5" y1="302.5" x2="2874.0" y2="462.0" stroke="#000" stroke-width="1.6"/>
<line x1="2872.0" y1="375.0" x2="3349.0" y2="513.0" stroke="#000" stroke-width="1.6"/>
<line x1="2874.0" y1="462.0" x2="3369.6" y2="438.2" stroke="#000" stroke-width="1.6"/>
<line x1="2320.0" y1="387.5" x2="3369.6" y2="438.2" stroke="#000" stroke-width="1.5"/>
<line x1="2348.8" y1="470.0" x2="2877.0" y2="547.0" stroke="#000" stroke-width="1.7"/>
<line x1="2395.0" y1="555.0" x2="2874.0" y2="462.0" stroke="#000" stroke-width="1.7"/>
<line x1="2874.0" y1="462.0" x2="3311.4" y2="634.6" stroke="#000" stroke-width="1.6"/>
<line x1="2877.0" y1="547.0" x2="3328.0" y2="580.0" stroke="#000" stroke-width="1.6"/>
<line x1="2245.0" y1="393.8" x2="2874.0" y2="462.0" stroke="#000" stroke-width="1.6"/>
<line x1="2245.0" y1="393.8" x2="2877.0" y2="547.0" stroke="#000" stroke-width="1.6"/>
<line x1="2874.0" y1="462.0" x2="3330.4" y2="568.6" stroke="#000" stroke-width="1.6"/>
<line x1="2877.0" y1="547.0" x2="3349.0" y2="513.0" stroke="#000" stroke-width="1.6"/>
<line x1="2348.8" y1="470.0" x2="3349.0" y2="513.0" stroke="#000" stroke-width="1.5"/>
<line x1="2395.0" y1="555.0" x2="2880.0" y2="636.0" stroke="#000" stroke-width="1.7"/>
<line x1="2467.0" y1="644.5" x2="2877.0" y2="547.0" stroke="#000" stroke-width="1.7"/>
<line x1="2877.0" y1="547.0" x2="3282.0" y2="710.0" stroke="#000" stroke-width="1.6"/>
<line x1="2880.0" y1="636.0" x2="3311.4" y2="634.6" stroke="#000" stroke-width="1.6"/>
<line x1="2287.5" y1="477.5" x2="2877.0" y2="547.0" stroke="#000" stroke-width="1.6"/>
<line x1="2287.5" y1="477.5" x2="2880.0" y2="636.0" stroke="#000" stroke-width="1.6"/>
<line x1="2877.0" y1="547.0" x2="3311.5" y2="632.5" stroke="#000" stroke-width="1.6"/>
<line x1="2880.0" y1="636.0" x2="3330.4" y2="568.6" stroke="#000" stroke-width="1.6"/>
<line x1="2395.0" y1="555.0" x2="3330.4" y2="568.6" stroke="#000" stroke-width="1.5"/>
<line x1="2467.0" y1="644.5" x2="2884.0" y2="723.0" stroke="#000" stroke-width="1.7"/>
<line x1="2556.0" y1="731.0" x2="2880.0" y2="636.0" stroke="#000" stroke-width="1.7"/>
<line x1="2880.0" y1="636.0" x2="3240.0" y2="773.0" stroke="#000" stroke-width="1.6"/>
<line x1="2884.0" y1="723.0" x2="3282.0" y2="710.0" stroke="#000" stroke-width="1.6"/>
<line x1="2342.5" y1="561.2" x2="2880.0" y2="636.0" stroke="#000" stroke-width="1.6"/>
<line x1="2342.5" y1="561.2" x2="2884.0" y2="723.0" stroke="#000" stroke-width="1.6"/>
<line x1="2880.0" y1="636.0" x2="3284.0" y2="710.0" stroke="#000" stroke-width="1.6"/>
<line x1="2884.0" y1="723.0" x2="3311.5" y2="632.5" stroke="#000" stroke-width="1.6"/>
<line x1="2467.0" y1="644.5" x2="3311.5" y2="632.5" stroke="#000" stroke-width="1.5"/>
<line x1="2556.0" y1="731.0" x2="2891.0" y2="805.0" stroke="#000" stroke-width="1.7"/>
<line x1="2654.0" y1="810.0" x2="2884.0" y2="723.0" stroke="#000" stroke-width="1.7"/>
<line x1="2884.0" y1="723.0" x2="3181.0" y2="836.0" stroke="#000" stroke-width="1.6"/>
<line x1="2891.0" y1="805.0" x2="3240.0" y2="773.0" stroke="#000" stroke-width="1.6"/>
<line x1="2418.8" y1="647.5" x2="2884.0" y2="723.0" stroke="#000" stroke-width="1.6"/>
<line x1="2418.8" y1="647.5" x2="2891.0" y2="805.0" stroke="#000" stroke-width="1.6"/>
<line x1="2884.0" y1="723.0" x2="3242.5" y2="777.5" stroke="#000" stroke-width="1.6"/>
<line x1="2891.0" y1="805.0" x2="3284.0" y2="710.0" stroke="#000" stroke-width="1.6"/>
<line x1="2556.0" y1="731.0" x2="3284.0" y2="710.0" stroke="#000" stroke-width="1.5"/>
<line x1="2654.0" y1="810.0" x2="2898.0" y2="884.0" stroke="#000" stroke-width="1.7"/>
<line x1="2782.0" y1="887.0" x2="2891.0" y2="805.0" stroke="#000" stroke-width="1.7"/>
<line x1="2891.0" y1="805.0" x2="3118.0" y2="884.0" stroke="#000" stroke-width="1.6"/>
<line x1="2898.0" y1="884.0" x2="3181.0" y2="836.0" stroke="#000" stroke-width="1.6"/>
<line x1="2508.8" y1="730.0" x2="2891.0" y2="805.0" stroke="#000" stroke-width="1.6"/>
<line x1="2508.8" y1="730.0" x2="2898.0" y2="884.0" stroke="#000" stroke-width="1.6"/>
<line x1="2891.0" y1="805.0" x2="3185.0" y2="835.0" stroke="#000" stroke-width="1.6"/>
<line x1="2898.0" y1="884.0" x2="3242.5" y2="777.5" stroke="#000" stroke-width="1.6"/>
<line x1="2654.0" y1="810.0" x2="3242.5" y2="777.5" stroke="#000" stroke-width="1.5"/>
<line x1="2782.0" y1="887.0" x2="2911.0" y2="959.0" stroke="#000" stroke-width="1.7"/>
<line x1="2911.0" y1="959.0" x2="2898.0" y2="884.0" stroke="#000" stroke-width="1.7"/>
<line x1="2898.0" y1="884.0" x2="3035.0" y2="927.5" stroke="#000" stroke-width="1.6"/>
<line x1="2911.0" y1="959.0" x2="3118.0" y2="884.0" stroke="#000" stroke-width="1.6"/>
<line x1="2615.0" y1="807.5" x2="2898.0" y2="884.0" stroke="#000" stroke-width="1.6"/>
<line x1="2615.0" y1="807.5" x2="2911.0" y2="959.0" stroke="#000" stroke-width="1.6"/>
<line x1="2898.0" y1="884.0" x2="3120.0" y2="885.0" stroke="#000" stroke-width="1.6"/>
<line x1="2911.0" y1="959.0" x2="3185.0" y2="835.0" stroke="#000" stroke-width="1.6"/>
<line x1="2782.0" y1="887.0" x2="3185.0" y2="835.0" stroke="#000" stroke-width="1.5"/>
<line x1="3369.6" y1="438.2" x2="2870.0" y2="333.0" stroke="#000" stroke-width="1.5"/>
<line x1="3369.6" y1="438.2" x2="2872.0" y2="375.0" stroke="#000" stroke-width="1.5"/>
<line x1="3369.6" y1="438.2" x2="3382.6" y2="261.1" stroke="#000" stroke-width="1.5"/>
<line x1="3349.0" y1="513.0" x2="2870.0" y2="333.0" stroke="#000" stroke-width="1.5"/>
<line x1="3349.0" y1="513.0" x2="2872.0" y2="375.0" stroke="#000" stroke-width="1.5"/>
<line x1="3349.0" y1="513.0" x2="2874.0" y2="462.0" stroke="#000" stroke-width="1.5"/>
<line x1="3349.0" y1="513.0" x2="3380.8" y2="350.6" stroke="#000" stroke-width="1.5"/>
<line x1="3330.4" y1="568.6" x2="2872.0" y2="375.0" stroke="#000" stroke-width="1.5"/>
<line x1="3330.4" y1="568.6" x2="2874.0" y2="462.0" stroke="#000" stroke-width="1.5"/>
<line x1="3330.4" y1="568.6" x2="2877.0" y2="547.0" stroke="#000" stroke-width="1.5"/>
<line x1="3330.4" y1="568.6" x2="3369.6" y2="438.2" stroke="#000" stroke-width="1.5"/>
<line x1="3311.5" y1="632.5" x2="2874.0" y2="462.0" stroke="#000" stroke-width="1.5"/>
<line x1="3311.5" y1="632.5" x2="2877.0" y2="547.0" stroke="#000" stroke-width="1.5"/>
<line x1="3311.5" y1="632.5" x2="2880.0" y2="636.0" stroke="#000" stroke-width="1.5"/>
<line x1="3311.5" y1="632.5" x2="3349.0" y2="513.0" stroke="#000" stroke-width="1.5"/>
<line x1="3284.0" y1="710.0" x2="2877.0" y2="547.0" stroke="#000" stroke-width="1.5"/>
<line x1="3284.0" y1="710.0" x2="2880.0" y2="636.0" stroke="#000" stroke-width="1.5"/>
<line x1="3284.0" y1="710.0" x2="2884.0" y2="723.0" stroke="#000" stroke-width="1.5"/>
<line x1="3284.0" y1="710.0" x2="3330.4" y2="568.6" stroke="#000" stroke-width="1.5"/>
<line x1="3242.5" y1="777.5" x2="2880.0" y2="636.0" stroke="#000" stroke-width="1.5"/>
<line x1="3242.5" y1="777.5" x2="2884.0" y2="723.0" stroke="#000" stroke-width="1.5"/>
<line x1="3242.5" y1="777.5" x2="2891.0" y2="805.0" stroke="#000" stroke-width="1.5"/>
<line x1="3242.5" y1="777.5" x2="3311.5" y2="632.5" stroke="#000" stroke-width="1.5"/>
<line x1="3185.0" y1="835.0" x2="2884.0" y2="723.0" stroke="#000" stroke-width="1.5"/>
<line x1="3185.0" y1="835.0" x2="2891.0" y2="805.0" stroke="#000" stroke-width="1.5"/>
<line x1="3185.0" y1="835.0" x2="2898.0" y2="884.0" stroke="#000" stroke-width="1.5"/>
<line x1="3185.0" y1="835.0" x2="3284.0" y2="710.0" stroke="#000" stroke-width="1.5"/>
<line x1="3120.0" y1="885.0" x2="2891.0" y2="805.0" stroke="#000" stroke-width="1.5"/>
<line x1="3120.0" y1="885.0" x2="2898.0" y2="884.0" stroke="#000" stroke-width="1.5"/>
<line x1="3120.0" y1="885.0" x2="2911.0" y2="959.0" stroke="#000" stroke-width="1.5"/>
<line x1="3120.0" y1="885.0" x2="3242.5" y2="777.5" stroke="#000" stroke-width="1.5"/>
<line x1="3035.0" y1="927.5" x2="2898.0" y2="884.0" stroke="#000" stroke-width="1.5"/>
<line x1="3035.0" y1="927.5" x2="2911.0" y2="959.0" stroke="#000" stroke-width="1.5"/>
<line x1="3035.0" y1="927.5" x2="3185.0" y2="835.0" stroke="#000" stroke-width="1.5"/>
<polyline points="3334.0,313.3 3339.8,400.9 3341.6,490.0 3343.5,514.0" fill="none" stroke="#000" stroke-width="1.8" stroke-linejoin="round"/>
<line x1="3375.2" y1="175.4" x2="3380.8" y2="350.6" stroke="#000" stroke-width="1.4"/>
<line x1="3382.6" y1="261.1" x2="3369.6" y2="438.2" stroke="#000" stroke-width="1.4"/>
<line x1="3380.8" y1="350.6" x2="3349.0" y2="513.0" stroke="#000" stroke-width="1.4"/>
<line x1="3369.6" y1="438.2" x2="3330.4" y2="568.6" stroke="#000" stroke-width="1.4"/>
<line x1="3349.0" y1="513.0" x2="3311.5" y2="632.5" stroke="#000" stroke-width="1.4"/>
<line x1="3330.4" y1="568.6" x2="3284.0" y2="710.0" stroke="#000" stroke-width="1.4"/>
<line x1="3311.5" y1="632.5" x2="3242.5" y2="777.5" stroke="#000" stroke-width="1.4"/>
<line x1="3284.0" y1="710.0" x2="3185.0" y2="835.0" stroke="#000" stroke-width="1.4"/>
<line x1="3242.5" y1="777.5" x2="3120.0" y2="885.0" stroke="#000" stroke-width="1.4"/>
<line x1="3185.0" y1="835.0" x2="3035.0" y2="927.5" stroke="#000" stroke-width="1.4"/>
<line x1="3120.0" y1="885.0" x2="2911.0" y2="959.0" stroke="#000" stroke-width="1.4"/>
<line x1="3382.6" y1="261.1" x2="3134.3" y2="513.0" stroke="#000" stroke-width="1.5"/>
<line x1="3382.6" y1="261.1" x2="3193.5" y2="568.6" stroke="#000" stroke-width="1.5"/>
<line x1="3382.6" y1="261.1" x2="3072.5" y2="632.5" stroke="#000" stroke-width="1.5"/>
<line x1="3380.8" y1="350.6" x2="3125.0" y2="568.6" stroke="#000" stroke-width="1.5"/>
<line x1="3380.8" y1="350.6" x2="3181.2" y2="632.5" stroke="#000" stroke-width="1.5"/>
<line x1="3380.8" y1="350.6" x2="3061.8" y2="710.0" stroke="#000" stroke-width="1.5"/>
<line x1="3369.6" y1="438.2" x2="3116.0" y2="632.5" stroke="#000" stroke-width="1.5"/>
<line x1="3369.6" y1="438.2" x2="3162.8" y2="710.0" stroke="#000" stroke-width="1.5"/>
<line x1="3369.6" y1="438.2" x2="3045.3" y2="777.5" stroke="#000" stroke-width="1.5"/>
<line x1="3349.0" y1="513.0" x2="3102.2" y2="710.0" stroke="#000" stroke-width="1.5"/>
<line x1="3349.0" y1="513.0" x2="3134.9" y2="777.5" stroke="#000" stroke-width="1.5"/>
<line x1="3349.0" y1="513.0" x2="3023.3" y2="835.0" stroke="#000" stroke-width="1.5"/>
<line x1="3330.4" y1="568.6" x2="3081.2" y2="777.5" stroke="#000" stroke-width="1.5"/>
<line x1="3330.4" y1="568.6" x2="3096.8" y2="835.0" stroke="#000" stroke-width="1.5"/>
<line x1="3330.4" y1="568.6" x2="2997.9" y2="885.0" stroke="#000" stroke-width="1.5"/>
<line x1="3311.5" y1="632.5" x2="3052.7" y2="835.0" stroke="#000" stroke-width="1.5"/>
<line x1="3311.5" y1="632.5" x2="3053.4" y2="885.0" stroke="#000" stroke-width="1.5"/>
<line x1="3311.5" y1="632.5" x2="2966.8" y2="927.5" stroke="#000" stroke-width="1.5"/>
<line x1="3284.0" y1="710.0" x2="3020.1" y2="885.0" stroke="#000" stroke-width="1.5"/>
<line x1="3284.0" y1="710.0" x2="2997.8" y2="927.5" stroke="#000" stroke-width="1.5"/>
<line x1="3284.0" y1="710.0" x2="2966.8" y2="927.5" stroke="#000" stroke-width="1.5"/>
<line x1="3242.5" y1="777.5" x2="2979.2" y2="927.5" stroke="#000" stroke-width="1.5"/>
<line x1="3242.5" y1="777.5" x2="2997.8" y2="927.5" stroke="#000" stroke-width="1.5"/>
<line x1="3242.5" y1="777.5" x2="2966.8" y2="927.5" stroke="#000" stroke-width="1.5"/>
<line x1="2870.0" y1="333.0" x2="3380.8" y2="350.6" stroke="#000" stroke-width="1.4"/>
<line x1="2872.0" y1="375.0" x2="3369.6" y2="438.2" stroke="#000" stroke-width="1.4"/>
<line x1="2874.0" y1="462.0" x2="3349.0" y2="513.0" stroke="#000" stroke-width="1.4"/>
<line x1="2877.0" y1="547.0" x2="3330.4" y2="568.6" stroke="#000" stroke-width="1.4"/>
<line x1="2880.0" y1="636.0" x2="3311.5" y2="632.5" stroke="#000" stroke-width="1.4"/>
<line x1="2884.0" y1="723.0" x2="3284.0" y2="710.0" stroke="#000" stroke-width="1.4"/>
<line x1="2891.0" y1="805.0" x2="3242.5" y2="777.5" stroke="#000" stroke-width="1.4"/>
<line x1="2898.0" y1="884.0" x2="3185.0" y2="835.0" stroke="#000" stroke-width="1.4"/>
<text x="2909.00" y="1017.50" font-size="24.5" text-anchor="middle" fill="#262626">C</text>
<text x="2918.00" y="1032.60" font-size="19" text-anchor="start" fill="#262626">t</text>
<text transform="translate(2103.7,520) rotate(-90)" font-size="23" text-anchor="middle" fill="#262626" textLength="104" lengthAdjust="spacingAndGlyphs">Luminosity</text>
<line x1="2169.00" y1="961.00" x2="3657.00" y2="961.00" stroke="#262626" stroke-width="2"/>
<line x1="2169.00" y1="81.00" x2="2169.00" y2="961.00" stroke="#262626" stroke-width="2"/>
<line x1="2169.00" y1="961.00" x2="2169.00" y2="946.00" stroke="#262626" stroke-width="2"/>
<text x="2169.00" y="992.00" font-size="22.3" text-anchor="middle" fill="#262626">-512</text>
<line x1="2262.00" y1="961.00" x2="2262.00" y2="946.00" stroke="#262626" stroke-width="2"/>
<text x="2262.00" y="992.00" font-size="22.3" text-anchor="middle" fill="#262626">-448</text>
<line x1="2355.00" y1="961.00" x2="2355.00" y2="946.00" stroke="#262626" stroke-width="2"/>
<text x="2355.00" y="992.00" font-size="22.3" text-anchor="middle" fill="#262626">-384</text>
<line x1="2448.00" y1="961.00" x2="2448.00" y2="946.00" stroke="#262626" stroke-width="2"/>
<text x="2448.00" y="992.00" font-size="22.3" text-anchor="middle" fill="#262626">-320</text>
<line x1="2541.00" y1="961.00" x2="2541.00" y2="946.00" stroke="#262626" stroke-width="2"/>
<text x="2541.00" y="992.00" font-size="22.3" text-anchor="middle" fill="#262626">-256</text>
<line x1="2634.00" y1="961.00" x2="2634.00" y2="946.00" stroke="#262626" stroke-width="2"/>
<text x="2634.00" y="992.00" font-size="22.3" text-anchor="middle" fill="#262626">-192</text>
<line x1="2727.00" y1="961.00" x2="2727.00" y2="946.00" stroke="#262626" stroke-width="2"/>
<text x="2727.00" y="992.00" font-size="22.3" text-anchor="middle" fill="#262626">-128</text>
<line x1="2820.00" y1="961.00" x2="2820.00" y2="946.00" stroke="#262626" stroke-width="2"/>
<text x="2820.00" y="992.00" font-size="22.3" text-anchor="middle" fill="#262626">-64</text>
<line x1="2913.00" y1="961.00" x2="2913.00" y2="946.00" stroke="#262626" stroke-width="2"/>
<text x="2913.00" y="992.00" font-size="22.3" text-anchor="middle" fill="#262626">0</text>
<line x1="3006.00" y1="961.00" x2="3006.00" y2="946.00" stroke="#262626" stroke-width="2"/>
<text x="3006.00" y="992.00" font-size="22.3" text-anchor="middle" fill="#262626">64</text>
<line x1="3099.00" y1="961.00" x2="3099.00" y2="946.00" stroke="#262626" stroke-width="2"/>
<text x="3099.00" y="992.00" font-size="22.3" text-anchor="middle" fill="#262626">128</text>
<line x1="3192.00" y1="961.00" x2="3192.00" y2="946.00" stroke="#262626" stroke-width="2"/>
<text x="3192.00" y="992.00" font-size="22.3" text-anchor="middle" fill="#262626">192</text>
<line x1="3285.00" y1="961.00" x2="3285.00" y2="946.00" stroke="#262626" stroke-width="2"/>
<text x="3285.00" y="992.00" font-size="22.3" text-anchor="middle" fill="#262626">256</text>
<line x1="3378.00" y1="961.00" x2="3378.00" y2="946.00" stroke="#262626" stroke-width="2"/>
<text x="3378.00" y="992.00" font-size="22.3" text-anchor="middle" fill="#262626">320</text>
<line x1="3471.00" y1="961.00" x2="3471.00" y2="946.00" stroke="#262626" stroke-width="2"/>
<text x="3471.00" y="992.00" font-size="22.3" text-anchor="middle" fill="#262626">384</text>
<line x1="3564.00" y1="961.00" x2="3564.00" y2="946.00" stroke="#262626" stroke-width="2"/>
<text x="3564.00" y="992.00" font-size="22.3" text-anchor="middle" fill="#262626">448</text>
<line x1="3657.00" y1="961.00" x2="3657.00" y2="946.00" stroke="#262626" stroke-width="2"/>
<text x="3657.00" y="992.00" font-size="22.3" text-anchor="middle" fill="#262626">512</text>
<line x1="2169.00" y1="961.00" x2="2184.00" y2="961.00" stroke="#262626" stroke-width="2"/>
<text x="2156.50" y="970.00" font-size="22.3" text-anchor="end" fill="#262626">0</text>
<line x1="2169.00" y1="906.00" x2="2184.00" y2="906.00" stroke="#262626" stroke-width="2"/>
<text x="2156.50" y="915.00" font-size="22.3" text-anchor="end" fill="#262626">128</text>
<line x1="2169.00" y1="851.00" x2="2184.00" y2="851.00" stroke="#262626" stroke-width="2"/>
<text x="2156.50" y="860.00" font-size="22.3" text-anchor="end" fill="#262626">256</text>
<line x1="2169.00" y1="796.00" x2="2184.00" y2="796.00" stroke="#262626" stroke-width="2"/>
<text x="2156.50" y="805.00" font-size="22.3" text-anchor="end" fill="#262626">384</text>
<line x1="2169.00" y1="741.00" x2="2184.00" y2="741.00" stroke="#262626" stroke-width="2"/>
<text x="2156.50" y="750.00" font-size="22.3" text-anchor="end" fill="#262626">512</text>
<line x1="2169.00" y1="686.00" x2="2184.00" y2="686.00" stroke="#262626" stroke-width="2"/>
<text x="2156.50" y="695.00" font-size="22.3" text-anchor="end" fill="#262626">640</text>
<line x1="2169.00" y1="631.00" x2="2184.00" y2="631.00" stroke="#262626" stroke-width="2"/>
<text x="2156.50" y="640.00" font-size="22.3" text-anchor="end" fill="#262626">768</text>
<line x1="2169.00" y1="576.00" x2="2184.00" y2="576.00" stroke="#262626" stroke-width="2"/>
<text x="2156.50" y="585.00" font-size="22.3" text-anchor="end" fill="#262626">896</text>
<line x1="2169.00" y1="521.00" x2="2184.00" y2="521.00" stroke="#262626" stroke-width="2"/>
<text x="2156.50" y="530.00" font-size="22.3" text-anchor="end" fill="#262626">1024</text>
<line x1="2169.00" y1="466.00" x2="2184.00" y2="466.00" stroke="#262626" stroke-width="2"/>
<text x="2156.50" y="475.00" font-size="22.3" text-anchor="end" fill="#262626">1152</text>
<line x1="2169.00" y1="411.00" x2="2184.00" y2="411.00" stroke="#262626" stroke-width="2"/>
<text x="2156.50" y="420.00" font-size="22.3" text-anchor="end" fill="#262626">1280</text>
<line x1="2169.00" y1="356.00" x2="2184.00" y2="356.00" stroke="#262626" stroke-width="2"/>
<text x="2156.50" y="365.00" font-size="22.3" text-anchor="end" fill="#262626">1408</text>
<line x1="2169.00" y1="301.00" x2="2184.00" y2="301.00" stroke="#262626" stroke-width="2"/>
<text x="2156.50" y="310.00" font-size="22.3" text-anchor="end" fill="#262626">1536</text>
<line x1="2169.00" y1="246.00" x2="2184.00" y2="246.00" stroke="#262626" stroke-width="2"/>
<text x="2156.50" y="255.00" font-size="22.3" text-anchor="end" fill="#262626">1664</text>
<line x1="2169.00" y1="191.00" x2="2184.00" y2="191.00" stroke="#262626" stroke-width="2"/>
<text x="2156.50" y="200.00" font-size="22.3" text-anchor="end" fill="#262626">1792</text>
<line x1="2169.00" y1="136.00" x2="2184.00" y2="136.00" stroke="#262626" stroke-width="2"/>
<text x="2156.50" y="145.00" font-size="22.3" text-anchor="end" fill="#262626">1920</text>
<line x1="2169.00" y1="81.00" x2="2184.00" y2="81.00" stroke="#262626" stroke-width="2"/>
<text x="2156.50" y="90.00" font-size="22.3" text-anchor="end" fill="#262626">2048</text>
<polygon points="805.0,1410.0 985.0,1387.0 690.0,1590.0" fill="#46327e" stroke="#46327e" stroke-width="1" stroke-linejoin="round"/>
<polygon points="985.0,1387.0 995.0,1382.5 1045.0,1400.0 1280.0,1480.0 690.0,1590.0" fill="#3b5b8c" stroke="#3b5b8c" stroke-width="1" stroke-linejoin="round"/>
<polygon points="995.0,1382.5 1587.5,1515.0 1280.0,1480.0 1045.0,1400.0" fill="#7ad151" stroke="#7ad151" stroke-width="1" stroke-linejoin="round"/>
<polygon points="1280.0,1480.0 1587.5,1515.0 1330.0,1522.0" fill="#46327e" stroke="#46327e" stroke-width="1" stroke-linejoin="round"/>
<polygon points="690.0,1590.0 1280.0,1480.0 1285.0,1595.0" fill="#21a386" stroke="#21a386" stroke-width="1" stroke-linejoin="round"/>
<polygon points="690.0,1590.0 1280.0,1480.0 1280.0,1500.0 705.0,1625.0" fill="#4ac16d" stroke="#4ac16d" stroke-width="1" stroke-linejoin="round"/>
<polygon points="690.0,1590.0 1285.0,1595.0 1265.0,1680.0 715.0,1710.0" fill="#1f9e89" stroke="#1f9e89" stroke-width="1" stroke-linejoin="round"/>
<polygon points="715.0,1710.0 1265.0,1680.0 1230.0,1762.5 752.5,1777.5" fill="#26828e" stroke="#26828e" stroke-width="1" stroke-linejoin="round"/>
<polygon points="752.5,1777.5 1230.0,1762.5 1185.0,1845.0 795.0,1847.5" fill="#2db27d" stroke="#2db27d" stroke-width="1" stroke-linejoin="round"/>
<polygon points="795.0,1847.5 1185.0,1845.0 840.0,1910.0" fill="#52c569" stroke="#52c569" stroke-width="1" stroke-linejoin="round"/>
<polygon points="840.0,1910.0 1185.0,1845.0 1125.0,1912.5" fill="#fde725" stroke="#fde725" stroke-width="1" stroke-linejoin="round"/>
<polygon points="840.0,1910.0 1125.0,1912.5 895.0,1957.5" fill="#fde725" stroke="#fde725" stroke-width="1" stroke-linejoin="round"/>
<polygon points="895.0,1957.5 1125.0,1912.5 992.5,2037.5 950.0,2000.0" fill="#460b5e" stroke="#460b5e" stroke-width="1" stroke-linejoin="round"/>
<polygon points="1280.0,1480.0 1587.5,1515.0 1540.0,1625.0 1285.0,1595.0" fill="#48186a" stroke="#48186a" stroke-width="1" stroke-linejoin="round"/>
<polygon points="1285.0,1595.0 1540.0,1625.0 1485.0,1705.0 1265.0,1680.0" fill="#dfe318" stroke="#dfe318" stroke-width="1" stroke-linejoin="round"/>
<polygon points="1265.0,1680.0 1485.0,1705.0 1420.0,1782.5 1230.0,1762.5" fill="#fde725" stroke="#fde725" stroke-width="1" stroke-linejoin="round"/>
<polygon points="1230.0,1762.5 1420.0,1782.5 1330.0,1860.0 1185.0,1845.0" fill="#7ad151" stroke="#7ad151" stroke-width="1" stroke-linejoin="round"/>
<polygon points="1300.0,1785.0 1420.0,1782.5 1330.0,1860.0" fill="#3aba76" stroke="#3aba76" stroke-width="1" stroke-linejoin="round"/>
<polygon points="1185.0,1845.0 1330.0,1860.0 1235.0,1925.0 1125.0,1912.5" fill="#8fd744" stroke="#8fd744" stroke-width="1" stroke-linejoin="round"/>
<polygon points="1125.0,1912.5 1235.0,1925.0 1125.0,1972.5 992.5,2037.5" fill="#7ad151" stroke="#7ad151" stroke-width="1" stroke-linejoin="round"/>
<polyline points="995.0,1161.0 750.0,1192.5 547.5,1395.0 555.0,1480.0 575.0,1565.0 600.0,1647.5 635.0,1722.5 675.0,1790.0 727.5,1855.0 787.5,1915.0 850.0,1962.5 920.0,2005.0 992.5,2037.5" fill="none" stroke="#000" stroke-width="1.8" stroke-linejoin="round"/>
<polyline points="995.0,1161.0 1075.0,1167.5 1340.0,1255.0 1672.5,1285.0 1675.0,1372.5 1660.0,1462.5 1635.0,1547.5 1597.5,1627.5 1542.5,1705.0 1467.5,1785.0 1377.5,1860.0 1275.0,1922.5 1150.0,1985.0 992.5,2037.5" fill="none" stroke="#000" stroke-width="1.8" stroke-linejoin="round"/>
<line x1="750.0" y1="1192.5" x2="750.0" y2="1470.0" stroke="#000" stroke-width="1.8"/>
<line x1="820.0" y1="1205.0" x2="817.5" y2="1405.0" stroke="#000" stroke-width="1.8"/>
<line x1="1075.0" y1="1167.5" x2="1075.0" y2="1390.0" stroke="#000" stroke-width="1.8"/>
<line x1="1340.0" y1="1255.0" x2="1340.0" y2="1490.0" stroke="#000" stroke-width="1.8"/>
<line x1="750.0" y1="1192.5" x2="820.0" y2="1205.0" stroke="#000" stroke-width="2"/>
<line x1="820.0" y1="1205.0" x2="995.0" y2="1161.0" stroke="#000" stroke-width="2"/>
<line x1="750.0" y1="1192.5" x2="547.5" y2="1395.0" stroke="#000" stroke-width="2"/>
<line x1="995.0" y1="1161.0" x2="547.5" y2="1395.0" stroke="#000" stroke-width="1.6"/>
<line x1="995.0" y1="1161.0" x2="555.0" y2="1480.0" stroke="#000" stroke-width="1.6"/>
<line x1="995.0" y1="1161.0" x2="750.0" y2="1470.0" stroke="#000" stroke-width="1.6"/>
<line x1="995.0" y1="1161.0" x2="817.5" y2="1405.0" stroke="#000" stroke-width="1.6"/>
<line x1="995.0" y1="1161.0" x2="1075.0" y2="1390.0" stroke="#000" stroke-width="1.6"/>
<line x1="995.0" y1="1161.0" x2="1340.0" y2="1255.0" stroke="#000" stroke-width="1.6"/>
<line x1="995.0" y1="1161.0" x2="1672.5" y2="1285.0" stroke="#000" stroke-width="1.6"/>
<line x1="995.0" y1="1161.0" x2="1675.0" y2="1372.5" stroke="#000" stroke-width="1.6"/>
<line x1="995.0" y1="1161.0" x2="1340.0" y2="1490.0" stroke="#000" stroke-width="1.6"/>
<line x1="995.0" y1="1161.0" x2="805.0" y2="1414.7" stroke="#000" stroke-width="1.6"/>
<line x1="995.0" y1="1161.0" x2="816.4" y2="1409.0" stroke="#000" stroke-width="1.6"/>
<line x1="995.0" y1="1161.0" x2="827.9" y2="1423.6" stroke="#000" stroke-width="1.6"/>
<line x1="995.0" y1="1161.0" x2="839.3" y2="1405.7" stroke="#000" stroke-width="1.6"/>
<line x1="995.0" y1="1161.0" x2="850.7" y2="1419.2" stroke="#000" stroke-width="1.6"/>
<line x1="995.0" y1="1161.0" x2="862.1" y2="1413.6" stroke="#000" stroke-width="1.6"/>
<line x1="995.0" y1="1161.0" x2="873.6" y2="1403.9" stroke="#000" stroke-width="1.6"/>
<line x1="995.0" y1="1161.0" x2="885.0" y2="1416.9" stroke="#000" stroke-width="1.6"/>
<line x1="995.0" y1="1161.0" x2="896.4" y2="1402.3" stroke="#000" stroke-width="1.6"/>
<line x1="995.0" y1="1161.0" x2="907.9" y2="1413.7" stroke="#000" stroke-width="1.6"/>
<line x1="995.0" y1="1161.0" x2="919.3" y2="1402.3" stroke="#000" stroke-width="1.6"/>
<line x1="995.0" y1="1161.0" x2="930.7" y2="1402.5" stroke="#000" stroke-width="1.6"/>
<line x1="995.0" y1="1161.0" x2="942.1" y2="1412.0" stroke="#000" stroke-width="1.6"/>
<line x1="995.0" y1="1161.0" x2="953.6" y2="1423.6" stroke="#000" stroke-width="1.6"/>
<line x1="995.0" y1="1161.0" x2="965.0" y2="1402.0" stroke="#000" stroke-width="1.6"/>
<line x1="995.0" y1="1161.0" x2="976.4" y2="1404.6" stroke="#000" stroke-width="1.6"/>
<line x1="995.0" y1="1161.0" x2="987.9" y2="1416.2" stroke="#000" stroke-width="1.6"/>
<line x1="995.0" y1="1161.0" x2="999.3" y2="1425.3" stroke="#000" stroke-width="1.6"/>
<line x1="995.0" y1="1161.0" x2="1010.7" y2="1413.7" stroke="#000" stroke-width="1.6"/>
<line x1="995.0" y1="1161.0" x2="1022.1" y2="1407.9" stroke="#000" stroke-width="1.6"/>
<line x1="995.0" y1="1161.0" x2="1033.6" y2="1424.8" stroke="#000" stroke-width="1.6"/>
<line x1="995.0" y1="1161.0" x2="1045.0" y2="1396.4" stroke="#000" stroke-width="1.6"/>
<line x1="995.0" y1="1161.0" x2="1094.3" y2="1427.6" stroke="#000" stroke-width="1.6"/>
<line x1="995.0" y1="1161.0" x2="1143.5" y2="1426.7" stroke="#000" stroke-width="1.6"/>
<line x1="995.0" y1="1161.0" x2="1192.8" y2="1434.2" stroke="#000" stroke-width="1.6"/>
<line x1="995.0" y1="1161.0" x2="1242.1" y2="1444.2" stroke="#000" stroke-width="1.6"/>
<line x1="995.0" y1="1161.0" x2="1291.4" y2="1458.4" stroke="#000" stroke-width="1.6"/>
<line x1="995.0" y1="1161.0" x2="1340.6" y2="1479.0" stroke="#000" stroke-width="1.6"/>
<line x1="995.0" y1="1161.0" x2="1389.9" y2="1476.8" stroke="#000" stroke-width="1.6"/>
<line x1="995.0" y1="1161.0" x2="1439.2" y2="1495.3" stroke="#000" stroke-width="1.6"/>
<line x1="995.0" y1="1161.0" x2="1488.5" y2="1506.9" stroke="#000" stroke-width="1.6"/>
<line x1="995.0" y1="1161.0" x2="1537.7" y2="1512.0" stroke="#000" stroke-width="1.6"/>
<line x1="547.5" y1="1395.0" x2="1075.0" y2="1167.5" stroke="#000" stroke-width="1.6"/>
<line x1="547.5" y1="1395.0" x2="1340.0" y2="1255.0" stroke="#000" stroke-width="1.6"/>
<line x1="547.5" y1="1395.0" x2="820.0" y2="1205.0" stroke="#000" stroke-width="1.6"/>
<line x1="750.0" y1="1192.5" x2="1672.5" y2="1285.0" stroke="#000" stroke-width="1.6"/>
<line x1="1075.0" y1="1167.5" x2="1672.5" y2="1285.0" stroke="#000" stroke-width="1.6"/>
<line x1="1340.0" y1="1255.0" x2="1672.5" y2="1285.0" stroke="#000" stroke-width="1.6"/>
<line x1="1340.0" y1="1255.0" x2="1675.0" y2="1372.5" stroke="#000" stroke-width="1.6"/>
<line x1="547.5" y1="1395.0" x2="1340.0" y2="1255.0" stroke="#000" stroke-width="1.6"/>
<line x1="555.0" y1="1480.0" x2="1675.0" y2="1372.5" stroke="#000" stroke-width="1.6"/>
<line x1="555.0" y1="1480.0" x2="1340.0" y2="1255.0" stroke="#000" stroke-width="1.6"/>
<line x1="555.0" y1="1480.0" x2="1075.0" y2="1390.0" stroke="#000" stroke-width="1.6"/>
<line x1="547.5" y1="1395.0" x2="750.0" y2="1470.0" stroke="#000" stroke-width="1.6"/>
<line x1="750.0" y1="1192.5" x2="547.5" y2="1395.0" stroke="#000" stroke-width="1.6"/>
<line x1="820.0" y1="1205.0" x2="555.0" y2="1480.0" stroke="#000" stroke-width="1.6"/>
<line x1="1075.0" y1="1167.5" x2="1675.0" y2="1372.5" stroke="#000" stroke-width="1.6"/>
<line x1="1340.0" y1="1255.0" x2="1660.0" y2="1462.5" stroke="#000" stroke-width="1.6"/>
<line x1="1672.5" y1="1285.0" x2="1340.0" y2="1490.0" stroke="#000" stroke-width="1.6"/>
<line x1="1675.0" y1="1372.5" x2="1340.0" y2="1490.0" stroke="#000" stroke-width="1.6"/>
<line x1="1660.0" y1="1462.5" x2="1340.0" y2="1490.0" stroke="#000" stroke-width="1.6"/>
<line x1="575.0" y1="1565.0" x2="817.5" y2="1405.0" stroke="#000" stroke-width="1.6"/>
<line x1="555.0" y1="1480.0" x2="817.5" y2="1405.0" stroke="#000" stroke-width="1.6"/>
<line x1="750.0" y1="1192.5" x2="575.0" y2="1565.0" stroke="#000" stroke-width="1.6"/>
<line x1="1075.0" y1="1167.5" x2="1340.0" y2="1490.0" stroke="#000" stroke-width="1.6"/>
<line x1="820.0" y1="1205.0" x2="1075.0" y2="1390.0" stroke="#000" stroke-width="1.6"/>
<line x1="1340.0" y1="1255.0" x2="1075.0" y2="1390.0" stroke="#000" stroke-width="1.6"/>
<line x1="575.0" y1="1565.0" x2="1660.0" y2="1462.5" stroke="#000" stroke-width="1.6"/>
<line x1="555.0" y1="1480.0" x2="1660.0" y2="1462.5" stroke="#000" stroke-width="1.6"/>
<line x1="547.5" y1="1395.0" x2="1675.0" y2="1372.5" stroke="#000" stroke-width="1.6"/>
<line x1="750.0" y1="1192.5" x2="1075.0" y2="1390.0" stroke="#000" stroke-width="1.6"/>
<line x1="1672.5" y1="1285.0" x2="1075.0" y2="1390.0" stroke="#000" stroke-width="1.6"/>
<line x1="575.0" y1="1565.0" x2="750.0" y2="1470.0" stroke="#000" stroke-width="1.6"/>
<line x1="1340.0" y1="1255.0" x2="1587.5" y2="1515.0" stroke="#000" stroke-width="1.6"/>
<line x1="1675.0" y1="1372.5" x2="1587.5" y2="1515.0" stroke="#000" stroke-width="1.6"/>
<line x1="1660.0" y1="1462.5" x2="1587.5" y2="1515.0" stroke="#000" stroke-width="1.6"/>
<line x1="555.0" y1="1480.0" x2="690.0" y2="1590.0" stroke="#000" stroke-width="1.5"/>
<line x1="555.0" y1="1480.0" x2="715.0" y2="1710.0" stroke="#000" stroke-width="1.5"/>
<line x1="555.0" y1="1480.0" x2="1280.0" y2="1480.0" stroke="#000" stroke-width="1.5"/>
<line x1="555.0" y1="1480.0" x2="1285.0" y2="1595.0" stroke="#000" stroke-width="1.5"/>
<line x1="555.0" y1="1480.0" x2="1540.0" y2="1625.0" stroke="#000" stroke-width="1.5"/>
<line x1="555.0" y1="1480.0" x2="808.0" y2="1568.0" stroke="#000" stroke-width="1.5"/>
<line x1="555.0" y1="1480.0" x2="575.0" y2="1565.0" stroke="#000" stroke-width="1.5"/>
<line x1="575.0" y1="1565.0" x2="715.0" y2="1710.0" stroke="#000" stroke-width="1.5"/>
<line x1="575.0" y1="1565.0" x2="752.5" y2="1777.5" stroke="#000" stroke-width="1.5"/>
<line x1="575.0" y1="1565.0" x2="1285.0" y2="1595.0" stroke="#000" stroke-width="1.5"/>
<line x1="575.0" y1="1565.0" x2="1265.0" y2="1680.0" stroke="#000" stroke-width="1.5"/>
<line x1="575.0" y1="1565.0" x2="1485.0" y2="1705.0" stroke="#000" stroke-width="1.5"/>
<line x1="575.0" y1="1565.0" x2="829.0" y2="1687.0" stroke="#000" stroke-width="1.5"/>
<line x1="575.0" y1="1565.0" x2="600.0" y2="1647.5" stroke="#000" stroke-width="1.5"/>
<line x1="600.0" y1="1647.5" x2="752.5" y2="1777.5" stroke="#000" stroke-width="1.5"/>
<line x1="600.0" y1="1647.5" x2="795.0" y2="1847.5" stroke="#000" stroke-width="1.5"/>
<line x1="600.0" y1="1647.5" x2="1265.0" y2="1680.0" stroke="#000" stroke-width="1.5"/>
<line x1="600.0" y1="1647.5" x2="1230.0" y2="1762.5" stroke="#000" stroke-width="1.5"/>
<line x1="600.0" y1="1647.5" x2="1420.0" y2="1782.5" stroke="#000" stroke-width="1.5"/>
<line x1="600.0" y1="1647.5" x2="855.0" y2="1758.0" stroke="#000" stroke-width="1.5"/>
<line x1="600.0" y1="1647.5" x2="635.0" y2="1722.5" stroke="#000" stroke-width="1.5"/>
<line x1="635.0" y1="1722.5" x2="795.0" y2="1847.5" stroke="#000" stroke-width="1.5"/>
<line x1="635.0" y1="1722.5" x2="840.0" y2="1910.0" stroke="#000" stroke-width="1.5"/>
<line x1="635.0" y1="1722.5" x2="1230.0" y2="1762.5" stroke="#000" stroke-width="1.5"/>
<line x1="635.0" y1="1722.5" x2="1185.0" y2="1845.0" stroke="#000" stroke-width="1.5"/>
<line x1="635.0" y1="1722.5" x2="1330.0" y2="1860.0" stroke="#000" stroke-width="1.5"/>
<line x1="635.0" y1="1722.5" x2="882.0" y2="1830.5" stroke="#000" stroke-width="1.5"/>
<line x1="635.0" y1="1722.5" x2="675.0" y2="1790.0" stroke="#000" stroke-width="1.5"/>
<line x1="675.0" y1="1790.0" x2="840.0" y2="1910.0" stroke="#000" stroke-width="1.5"/>
<line x1="675.0" y1="1790.0" x2="895.0" y2="1957.5" stroke="#000" stroke-width="1.5"/>
<line x1="675.0" y1="1790.0" x2="1185.0" y2="1845.0" stroke="#000" stroke-width="1.5"/>
<line x1="675.0" y1="1790.0" x2="1125.0" y2="1912.5" stroke="#000" stroke-width="1.5"/>
<line x1="675.0" y1="1790.0" x2="1235.0" y2="1925.0" stroke="#000" stroke-width="1.5"/>
<line x1="675.0" y1="1790.0" x2="909.0" y2="1897.0" stroke="#000" stroke-width="1.5"/>
<line x1="675.0" y1="1790.0" x2="727.5" y2="1855.0" stroke="#000" stroke-width="1.5"/>
<line x1="727.5" y1="1855.0" x2="895.0" y2="1957.5" stroke="#000" stroke-width="1.5"/>
<line x1="727.5" y1="1855.0" x2="950.0" y2="2000.0" stroke="#000" stroke-width="1.5"/>
<line x1="727.5" y1="1855.0" x2="1125.0" y2="1912.5" stroke="#000" stroke-width="1.5"/>
<line x1="727.5" y1="1855.0" x2="992.5" y2="2037.5" stroke="#000" stroke-width="1.5"/>
<line x1="727.5" y1="1855.0" x2="1125.0" y2="1972.5" stroke="#000" stroke-width="1.5"/>
<line x1="727.5" y1="1855.0" x2="941.0" y2="1948.5" stroke="#000" stroke-width="1.5"/>
<line x1="727.5" y1="1855.0" x2="787.5" y2="1915.0" stroke="#000" stroke-width="1.5"/>
<line x1="787.5" y1="1915.0" x2="950.0" y2="2000.0" stroke="#000" stroke-width="1.5"/>
<line x1="787.5" y1="1915.0" x2="992.5" y2="2037.5" stroke="#000" stroke-width="1.5"/>
<line x1="787.5" y1="1915.0" x2="992.5" y2="2037.5" stroke="#000" stroke-width="1.5"/>
<line x1="787.5" y1="1915.0" x2="992.5" y2="2037.5" stroke="#000" stroke-width="1.5"/>
<line x1="787.5" y1="1915.0" x2="992.5" y2="2037.5" stroke="#000" stroke-width="1.5"/>
<line x1="787.5" y1="1915.0" x2="958.5" y2="2007.5" stroke="#000" stroke-width="1.5"/>
<line x1="787.5" y1="1915.0" x2="850.0" y2="1962.5" stroke="#000" stroke-width="1.5"/>
<line x1="850.0" y1="1962.5" x2="992.5" y2="2037.5" stroke="#000" stroke-width="1.5"/>
<line x1="850.0" y1="1962.5" x2="992.5" y2="2037.5" stroke="#000" stroke-width="1.5"/>
<line x1="850.0" y1="1962.5" x2="992.5" y2="2037.5" stroke="#000" stroke-width="1.5"/>
<line x1="850.0" y1="1962.5" x2="992.5" y2="2037.5" stroke="#000" stroke-width="1.5"/>
<line x1="850.0" y1="1962.5" x2="992.5" y2="2037.5" stroke="#000" stroke-width="1.5"/>
<line x1="850.0" y1="1962.5" x2="992.5" y2="2037.5" stroke="#000" stroke-width="1.5"/>
<line x1="850.0" y1="1962.5" x2="920.0" y2="2005.0" stroke="#000" stroke-width="1.5"/>
<line x1="920.0" y1="2005.0" x2="992.5" y2="2037.5" stroke="#000" stroke-width="1.5"/>
<line x1="920.0" y1="2005.0" x2="992.5" y2="2037.5" stroke="#000" stroke-width="1.5"/>
<line x1="920.0" y1="2005.0" x2="992.5" y2="2037.5" stroke="#000" stroke-width="1.5"/>
<line x1="920.0" y1="2005.0" x2="992.5" y2="2037.5" stroke="#000" stroke-width="1.5"/>
<line x1="920.0" y1="2005.0" x2="992.5" y2="2037.5" stroke="#000" stroke-width="1.5"/>
<line x1="920.0" y1="2005.0" x2="992.5" y2="2037.5" stroke="#000" stroke-width="1.5"/>
<line x1="920.0" y1="2005.0" x2="992.5" y2="2037.5" stroke="#000" stroke-width="1.5"/>
<line x1="547.5" y1="1395.0" x2="1280.0" y2="1480.0" stroke="#000" stroke-width="1.4"/>
<line x1="547.5" y1="1395.0" x2="1265.0" y2="1680.0" stroke="#000" stroke-width="1.4"/>
<line x1="547.5" y1="1395.0" x2="1485.0" y2="1705.0" stroke="#000" stroke-width="1.4"/>
<line x1="555.0" y1="1480.0" x2="1280.0" y2="1480.0" stroke="#000" stroke-width="1.4"/>
<line x1="555.0" y1="1480.0" x2="1265.0" y2="1680.0" stroke="#000" stroke-width="1.4"/>
<line x1="555.0" y1="1480.0" x2="1485.0" y2="1705.0" stroke="#000" stroke-width="1.4"/>
<line x1="575.0" y1="1565.0" x2="1280.0" y2="1480.0" stroke="#000" stroke-width="1.4"/>
<line x1="575.0" y1="1565.0" x2="1230.0" y2="1762.5" stroke="#000" stroke-width="1.4"/>
<line x1="575.0" y1="1565.0" x2="1420.0" y2="1782.5" stroke="#000" stroke-width="1.4"/>
<line x1="600.0" y1="1647.5" x2="1285.0" y2="1595.0" stroke="#000" stroke-width="1.4"/>
<line x1="600.0" y1="1647.5" x2="1185.0" y2="1845.0" stroke="#000" stroke-width="1.4"/>
<line x1="600.0" y1="1647.5" x2="1330.0" y2="1860.0" stroke="#000" stroke-width="1.4"/>
<line x1="635.0" y1="1722.5" x2="1265.0" y2="1680.0" stroke="#000" stroke-width="1.4"/>
<line x1="635.0" y1="1722.5" x2="1125.0" y2="1912.5" stroke="#000" stroke-width="1.4"/>
<line x1="635.0" y1="1722.5" x2="1235.0" y2="1925.0" stroke="#000" stroke-width="1.4"/>
<line x1="675.0" y1="1790.0" x2="1230.0" y2="1762.5" stroke="#000" stroke-width="1.4"/>
<line x1="675.0" y1="1790.0" x2="992.5" y2="2037.5" stroke="#000" stroke-width="1.4"/>
<line x1="675.0" y1="1790.0" x2="1125.0" y2="1972.5" stroke="#000" stroke-width="1.4"/>
<line x1="727.5" y1="1855.0" x2="1185.0" y2="1845.0" stroke="#000" stroke-width="1.4"/>
<line x1="727.5" y1="1855.0" x2="992.5" y2="2037.5" stroke="#000" stroke-width="1.4"/>
<line x1="727.5" y1="1855.0" x2="992.5" y2="2037.5" stroke="#000" stroke-width="1.4"/>
<line x1="787.5" y1="1915.0" x2="1125.0" y2="1912.5" stroke="#000" stroke-width="1.4"/>
<line x1="787.5" y1="1915.0" x2="992.5" y2="2037.5" stroke="#000" stroke-width="1.4"/>
<line x1="787.5" y1="1915.0" x2="992.5" y2="2037.5" stroke="#000" stroke-width="1.4"/>
<line x1="850.0" y1="1962.5" x2="992.5" y2="2037.5" stroke="#000" stroke-width="1.4"/>
<line x1="850.0" y1="1962.5" x2="992.5" y2="2037.5" stroke="#000" stroke-width="1.4"/>
<line x1="850.0" y1="1962.5" x2="992.5" y2="2037.5" stroke="#000" stroke-width="1.4"/>
<line x1="920.0" y1="2005.0" x2="992.5" y2="2037.5" stroke="#000" stroke-width="1.4"/>
<line x1="920.0" y1="2005.0" x2="992.5" y2="2037.5" stroke="#000" stroke-width="1.4"/>
<line x1="920.0" y1="2005.0" x2="992.5" y2="2037.5" stroke="#000" stroke-width="1.4"/>
<line x1="1672.5" y1="1285.0" x2="1587.5" y2="1515.0" stroke="#000" stroke-width="1.5"/>
<line x1="1672.5" y1="1285.0" x2="1540.0" y2="1625.0" stroke="#000" stroke-width="1.5"/>
<line x1="1672.5" y1="1285.0" x2="1280.0" y2="1480.0" stroke="#000" stroke-width="1.5"/>
<line x1="1672.5" y1="1285.0" x2="1285.0" y2="1595.0" stroke="#000" stroke-width="1.5"/>
<line x1="1672.5" y1="1285.0" x2="715.0" y2="1710.0" stroke="#000" stroke-width="1.5"/>
<line x1="1672.5" y1="1285.0" x2="1495.2" y2="1504.5" stroke="#000" stroke-width="1.5"/>
<line x1="1675.0" y1="1372.5" x2="1587.5" y2="1515.0" stroke="#000" stroke-width="1.5"/>
<line x1="1675.0" y1="1372.5" x2="1540.0" y2="1625.0" stroke="#000" stroke-width="1.5"/>
<line x1="1675.0" y1="1372.5" x2="1280.0" y2="1480.0" stroke="#000" stroke-width="1.5"/>
<line x1="1675.0" y1="1372.5" x2="1285.0" y2="1595.0" stroke="#000" stroke-width="1.5"/>
<line x1="1675.0" y1="1372.5" x2="715.0" y2="1710.0" stroke="#000" stroke-width="1.5"/>
<line x1="1675.0" y1="1372.5" x2="1495.2" y2="1504.5" stroke="#000" stroke-width="1.5"/>
<line x1="1660.0" y1="1462.5" x2="1540.0" y2="1625.0" stroke="#000" stroke-width="1.5"/>
<line x1="1660.0" y1="1462.5" x2="1485.0" y2="1705.0" stroke="#000" stroke-width="1.5"/>
<line x1="1660.0" y1="1462.5" x2="1285.0" y2="1595.0" stroke="#000" stroke-width="1.5"/>
<line x1="1660.0" y1="1462.5" x2="1265.0" y2="1680.0" stroke="#000" stroke-width="1.5"/>
<line x1="1660.0" y1="1462.5" x2="752.5" y2="1777.5" stroke="#000" stroke-width="1.5"/>
<line x1="1660.0" y1="1462.5" x2="1463.5" y2="1616.0" stroke="#000" stroke-width="1.5"/>
<line x1="1635.0" y1="1547.5" x2="1485.0" y2="1705.0" stroke="#000" stroke-width="1.5"/>
<line x1="1635.0" y1="1547.5" x2="1420.0" y2="1782.5" stroke="#000" stroke-width="1.5"/>
<line x1="1635.0" y1="1547.5" x2="1265.0" y2="1680.0" stroke="#000" stroke-width="1.5"/>
<line x1="1635.0" y1="1547.5" x2="1230.0" y2="1762.5" stroke="#000" stroke-width="1.5"/>
<line x1="1635.0" y1="1547.5" x2="795.0" y2="1847.5" stroke="#000" stroke-width="1.5"/>
<line x1="1635.0" y1="1547.5" x2="1419.0" y2="1697.5" stroke="#000" stroke-width="1.5"/>
<line x1="1597.5" y1="1627.5" x2="1420.0" y2="1782.5" stroke="#000" stroke-width="1.5"/>
<line x1="1597.5" y1="1627.5" x2="1330.0" y2="1860.0" stroke="#000" stroke-width="1.5"/>
<line x1="1597.5" y1="1627.5" x2="1230.0" y2="1762.5" stroke="#000" stroke-width="1.5"/>
<line x1="1597.5" y1="1627.5" x2="1185.0" y2="1845.0" stroke="#000" stroke-width="1.5"/>
<line x1="1597.5" y1="1627.5" x2="840.0" y2="1910.0" stroke="#000" stroke-width="1.5"/>
<line x1="1597.5" y1="1627.5" x2="1363.0" y2="1776.5" stroke="#000" stroke-width="1.5"/>
<line x1="1542.5" y1="1705.0" x2="1330.0" y2="1860.0" stroke="#000" stroke-width="1.5"/>
<line x1="1542.5" y1="1705.0" x2="1235.0" y2="1925.0" stroke="#000" stroke-width="1.5"/>
<line x1="1542.5" y1="1705.0" x2="1185.0" y2="1845.0" stroke="#000" stroke-width="1.5"/>
<line x1="1542.5" y1="1705.0" x2="1125.0" y2="1912.5" stroke="#000" stroke-width="1.5"/>
<line x1="1542.5" y1="1705.0" x2="895.0" y2="1957.5" stroke="#000" stroke-width="1.5"/>
<line x1="1542.5" y1="1705.0" x2="1286.5" y2="1855.5" stroke="#000" stroke-width="1.5"/>
<line x1="1467.5" y1="1785.0" x2="1235.0" y2="1925.0" stroke="#000" stroke-width="1.5"/>
<line x1="1467.5" y1="1785.0" x2="1125.0" y2="1972.5" stroke="#000" stroke-width="1.5"/>
<line x1="1467.5" y1="1785.0" x2="1125.0" y2="1912.5" stroke="#000" stroke-width="1.5"/>
<line x1="1467.5" y1="1785.0" x2="992.5" y2="2037.5" stroke="#000" stroke-width="1.5"/>
<line x1="1467.5" y1="1785.0" x2="950.0" y2="2000.0" stroke="#000" stroke-width="1.5"/>
<line x1="1467.5" y1="1785.0" x2="1202.0" y2="1921.2" stroke="#000" stroke-width="1.5"/>
<line x1="1377.5" y1="1860.0" x2="1125.0" y2="1972.5" stroke="#000" stroke-width="1.5"/>
<line x1="1377.5" y1="1860.0" x2="992.5" y2="2037.5" stroke="#000" stroke-width="1.5"/>
<line x1="1377.5" y1="1860.0" x2="992.5" y2="2037.5" stroke="#000" stroke-width="1.5"/>
<line x1="1377.5" y1="1860.0" x2="992.5" y2="2037.5" stroke="#000" stroke-width="1.5"/>
<line x1="1377.5" y1="1860.0" x2="992.5" y2="2037.5" stroke="#000" stroke-width="1.5"/>
<line x1="1377.5" y1="1860.0" x2="1085.2" y2="1992.0" stroke="#000" stroke-width="1.5"/>
<line x1="1275.0" y1="1922.5" x2="992.5" y2="2037.5" stroke="#000" stroke-width="1.5"/>
<line x1="1275.0" y1="1922.5" x2="992.5" y2="2037.5" stroke="#000" stroke-width="1.5"/>
<line x1="1275.0" y1="1922.5" x2="992.5" y2="2037.5" stroke="#000" stroke-width="1.5"/>
<line x1="1275.0" y1="1922.5" x2="992.5" y2="2037.5" stroke="#000" stroke-width="1.5"/>
<line x1="1275.0" y1="1922.5" x2="992.5" y2="2037.5" stroke="#000" stroke-width="1.5"/>
<line x1="1275.0" y1="1922.5" x2="992.5" y2="2037.5" stroke="#000" stroke-width="1.5"/>
<line x1="1280.0" y1="1480.0" x2="1285.0" y2="1595.0" stroke="#000" stroke-width="2.4"/>
<line x1="690.0" y1="1590.0" x2="1285.0" y2="1595.0" stroke="#000" stroke-width="1.5"/>
<line x1="715.0" y1="1710.0" x2="1280.0" y2="1480.0" stroke="#000" stroke-width="1.5"/>
<line x1="1587.5" y1="1515.0" x2="1285.0" y2="1595.0" stroke="#000" stroke-width="1.5"/>
<line x1="1540.0" y1="1625.0" x2="1280.0" y2="1480.0" stroke="#000" stroke-width="1.5"/>
<line x1="690.0" y1="1590.0" x2="1540.0" y2="1625.0" stroke="#000" stroke-width="1.4"/>
<line x1="1285.0" y1="1595.0" x2="1265.0" y2="1680.0" stroke="#000" stroke-width="2.4"/>
<line x1="715.0" y1="1710.0" x2="1265.0" y2="1680.0" stroke="#000" stroke-width="1.5"/>
<line x1="752.5" y1="1777.5" x2="1285.0" y2="1595.0" stroke="#000" stroke-width="1.5"/>
<line x1="1540.0" y1="1625.0" x2="1265.0" y2="1680.0" stroke="#000" stroke-width="1.5"/>
<line x1="1485.0" y1="1705.0" x2="1285.0" y2="1595.0" stroke="#000" stroke-width="1.5"/>
<line x1="715.0" y1="1710.0" x2="1485.0" y2="1705.0" stroke="#000" stroke-width="1.4"/>
<line x1="1265.0" y1="1680.0" x2="1230.0" y2="1762.5" stroke="#000" stroke-width="2.4"/>
<line x1="752.5" y1="1777.5" x2="1230.0" y2="1762.5" stroke="#000" stroke-width="1.5"/>
<line x1="795.0" y1="1847.5" x2="1265.0" y2="1680.0" stroke="#000" stroke-width="1.5"/>
<line x1="1485.0" y1="1705.0" x2="1230.0" y2="1762.5" stroke="#000" stroke-width="1.5"/>
<line x1="1420.0" y1="1782.5" x2="1265.0" y2="1680.0" stroke="#000" stroke-width="1.5"/>
<line x1="752.5" y1="1777.5" x2="1420.0" y2="1782.5" stroke="#000" stroke-width="1.4"/>
<line x1="1230.0" y1="1762.5" x2="1185.0" y2="1845.0" stroke="#000" stroke-width="2.4"/>
<line x1="795.0" y1="1847.5" x2="1185.0" y2="1845.0" stroke="#000" stroke-width="1.5"/>
<line x1="840.0" y1="1910.0" x2="1230.0" y2="1762.5" stroke="#000" stroke-width="1.5"/>
<line x1="1420.0" y1="1782.5" x2="1185.0" y2="1845.0" stroke="#000" stroke-width="1.5"/>
<line x1="1330.0" y1="1860.0" x2="1230.0" y2="1762.5" stroke="#000" stroke-width="1.5"/>
<line x1="795.0" y1="1847.5" x2="1330.0" y2="1860.0" stroke="#000" stroke-width="1.4"/>
<line x1="1185.0" y1="1845.0" x2="1125.0" y2="1912.5" stroke="#000" stroke-width="2.4"/>
<line x1="840.0" y1="1910.0" x2="1125.0" y2="1912.5" stroke="#000" stroke-width="1.5"/>
<line x1="895.0" y1="1957.5" x2="1185.0" y2="1845.0" stroke="#000" stroke-width="1.5"/>
<line x1="1330.0" y1="1860.0" x2="1125.0" y2="1912.5" stroke="#000" stroke-width="1.5"/>
<line x1="1235.0" y1="1925.0" x2="1185.0" y2="1845.0" stroke="#000" stroke-width="1.5"/>
<line x1="840.0" y1="1910.0" x2="1235.0" y2="1925.0" stroke="#000" stroke-width="1.4"/>
<line x1="1125.0" y1="1912.5" x2="992.5" y2="2037.5" stroke="#000" stroke-width="2.4"/>
<line x1="895.0" y1="1957.5" x2="992.5" y2="2037.5" stroke="#000" stroke-width="1.5"/>
<line x1="950.0" y1="2000.0" x2="1125.0" y2="1912.5" stroke="#000" stroke-width="1.5"/>
<line x1="1235.0" y1="1925.0" x2="992.5" y2="2037.5" stroke="#000" stroke-width="1.5"/>
<line x1="1125.0" y1="1972.5" x2="1125.0" y2="1912.5" stroke="#000" stroke-width="1.5"/>
<line x1="895.0" y1="1957.5" x2="1125.0" y2="1972.5" stroke="#000" stroke-width="1.4"/>
<line x1="705.0" y1="1600.6" x2="771.0" y2="1599.9" stroke="#000" stroke-width="1.4"/>
<line x1="743.2" y1="1630.2" x2="834.6" y2="1635.5" stroke="#000" stroke-width="1.4"/>
<line x1="742.0" y1="1655.4" x2="881.4" y2="1662.6" stroke="#000" stroke-width="1.4"/>
<line x1="773.0" y1="1680.9" x2="885.5" y2="1690.9" stroke="#000" stroke-width="1.4"/>
<line x1="759.0" y1="1714.8" x2="917.1" y2="1712.6" stroke="#000" stroke-width="1.4"/>
<line x1="805.6" y1="1739.0" x2="880.8" y2="1742.8" stroke="#000" stroke-width="1.4"/>
<line x1="807.5" y1="1762.5" x2="943.9" y2="1767.6" stroke="#000" stroke-width="1.4"/>
<line x1="788.1" y1="1800.5" x2="917.6" y2="1806.0" stroke="#000" stroke-width="1.4"/>
<line x1="808.5" y1="1825.0" x2="952.5" y2="1836.1" stroke="#000" stroke-width="1.4"/>
<line x1="834.1" y1="1851.7" x2="900.2" y2="1858.9" stroke="#000" stroke-width="1.4"/>
<line x1="869.4" y1="1881.8" x2="1011.6" y2="1882.3" stroke="#000" stroke-width="1.4"/>
<line x1="852.5" y1="1906.6" x2="914.7" y2="1910.0" stroke="#000" stroke-width="1.4"/>
<line x1="817.4" y1="1932.0" x2="883.3" y2="1940.3" stroke="#000" stroke-width="1.4"/>
<line x1="836.8" y1="1959.6" x2="935.9" y2="1969.5" stroke="#000" stroke-width="1.4"/>
<text x="988.00" y="2096.60" font-size="24.5" text-anchor="middle" fill="#262626">C</text>
<text x="998.00" y="2110.50" font-size="19" text-anchor="start" fill="#262626">p</text>
<text transform="translate(184.8,1600) rotate(-90)" font-size="23" text-anchor="middle" fill="#262626" textLength="104" lengthAdjust="spacingAndGlyphs">Luminosity</text>
<line x1="250.00" y1="2040.00" x2="1738.00" y2="2040.00" stroke="#262626" stroke-width="2"/>
<line x1="250.00" y1="1160.00" x2="250.00" y2="2040.00" stroke="#262626" stroke-width="2"/>
<line x1="250.00" y1="2040.00" x2="250.00" y2="2025.00" stroke="#262626" stroke-width="2"/>
<text x="250.00" y="2071.00" font-size="22.3" text-anchor="middle" fill="#262626">-1024</text>
<line x1="343.00" y1="2040.00" x2="343.00" y2="2025.00" stroke="#262626" stroke-width="2"/>
<text x="343.00" y="2071.00" font-size="22.3" text-anchor="middle" fill="#262626">-896</text>
<line x1="436.00" y1="2040.00" x2="436.00" y2="2025.00" stroke="#262626" stroke-width="2"/>
<text x="436.00" y="2071.00" font-size="22.3" text-anchor="middle" fill="#262626">-768</text>
<line x1="529.00" y1="2040.00" x2="529.00" y2="2025.00" stroke="#262626" stroke-width="2"/>
<text x="529.00" y="2071.00" font-size="22.3" text-anchor="middle" fill="#262626">-640</text>
<line x1="622.00" y1="2040.00" x2="622.00" y2="2025.00" stroke="#262626" stroke-width="2"/>
<text x="622.00" y="2071.00" font-size="22.3" text-anchor="middle" fill="#262626">-512</text>
<line x1="715.00" y1="2040.00" x2="715.00" y2="2025.00" stroke="#262626" stroke-width="2"/>
<text x="715.00" y="2071.00" font-size="22.3" text-anchor="middle" fill="#262626">-384</text>
<line x1="808.00" y1="2040.00" x2="808.00" y2="2025.00" stroke="#262626" stroke-width="2"/>
<text x="808.00" y="2071.00" font-size="22.3" text-anchor="middle" fill="#262626">-256</text>
<line x1="901.00" y1="2040.00" x2="901.00" y2="2025.00" stroke="#262626" stroke-width="2"/>
<text x="901.00" y="2071.00" font-size="22.3" text-anchor="middle" fill="#262626">-128</text>
<line x1="994.00" y1="2040.00" x2="994.00" y2="2025.00" stroke="#262626" stroke-width="2"/>
<text x="994.00" y="2071.00" font-size="22.3" text-anchor="middle" fill="#262626">0</text>
<line x1="1087.00" y1="2040.00" x2="1087.00" y2="2025.00" stroke="#262626" stroke-width="2"/>
<text x="1087.00" y="2071.00" font-size="22.3" text-anchor="middle" fill="#262626">128</text>
<line x1="1180.00" y1="2040.00" x2="1180.00" y2="2025.00" stroke="#262626" stroke-width="2"/>
<text x="1180.00" y="2071.00" font-size="22.3" text-anchor="middle" fill="#262626">256</text>
<line x1="1273.00" y1="2040.00" x2="1273.00" y2="2025.00" stroke="#262626" stroke-width="2"/>
<text x="1273.00" y="2071.00" font-size="22.3" text-anchor="middle" fill="#262626">384</text>
<line x1="1366.00" y1="2040.00" x2="1366.00" y2="2025.00" stroke="#262626" stroke-width="2"/>
<text x="1366.00" y="2071.00" font-size="22.3" text-anchor="middle" fill="#262626">512</text>
<line x1="1459.00" y1="2040.00" x2="1459.00" y2="2025.00" stroke="#262626" stroke-width="2"/>
<text x="1459.00" y="2071.00" font-size="22.3" text-anchor="middle" fill="#262626">640</text>
<line x1="1552.00" y1="2040.00" x2="1552.00" y2="2025.00" stroke="#262626" stroke-width="2"/>
<text x="1552.00" y="2071.00" font-size="22.3" text-anchor="middle" fill="#262626">768</text>
<line x1="1645.00" y1="2040.00" x2="1645.00" y2="2025.00" stroke="#262626" stroke-width="2"/>
<text x="1645.00" y="2071.00" font-size="22.3" text-anchor="middle" fill="#262626">896</text>
<line x1="1738.00" y1="2040.00" x2="1738.00" y2="2025.00" stroke="#262626" stroke-width="2"/>
<text x="1738.00" y="2071.00" font-size="22.3" text-anchor="middle" fill="#262626">1024</text>
<line x1="250.00" y1="2040.00" x2="265.00" y2="2040.00" stroke="#262626" stroke-width="2"/>
<text x="237.50" y="2049.00" font-size="22.3" text-anchor="end" fill="#262626">0</text>
<line x1="250.00" y1="1985.00" x2="265.00" y2="1985.00" stroke="#262626" stroke-width="2"/>
<text x="237.50" y="1994.00" font-size="22.3" text-anchor="end" fill="#262626">128</text>
<line x1="250.00" y1="1930.00" x2="265.00" y2="1930.00" stroke="#262626" stroke-width="2"/>
<text x="237.50" y="1939.00" font-size="22.3" text-anchor="end" fill="#262626">256</text>
<line x1="250.00" y1="1875.00" x2="265.00" y2="1875.00" stroke="#262626" stroke-width="2"/>
<text x="237.50" y="1884.00" font-size="22.3" text-anchor="end" fill="#262626">384</text>
<line x1="250.00" y1="1820.00" x2="265.00" y2="1820.00" stroke="#262626" stroke-width="2"/>
<text x="237.50" y="1829.00" font-size="22.3" text-anchor="end" fill="#262626">512</text>
<line x1="250.00" y1="1765.00" x2="265.00" y2="1765.00" stroke="#262626" stroke-width="2"/>
<text x="237.50" y="1774.00" font-size="22.3" text-anchor="end" fill="#262626">640</text>
<line x1="250.00" y1="1710.00" x2="265.00" y2="1710.00" stroke="#262626" stroke-width="2"/>
<text x="237.50" y="1719.00" font-size="22.3" text-anchor="end" fill="#262626">768</text>
<line x1="250.00" y1="1655.00" x2="265.00" y2="1655.00" stroke="#262626" stroke-width="2"/>
<text x="237.50" y="1664.00" font-size="22.3" text-anchor="end" fill="#262626">896</text>
<line x1="250.00" y1="1600.00" x2="265.00" y2="1600.00" stroke="#262626" stroke-width="2"/>
<text x="237.50" y="1609.00" font-size="22.3" text-anchor="end" fill="#262626">1024</text>
<line x1="250.00" y1="1545.00" x2="265.00" y2="1545.00" stroke="#262626" stroke-width="2"/>
<text x="237.50" y="1554.00" font-size="22.3" text-anchor="end" fill="#262626">1152</text>
<line x1="250.00" y1="1490.00" x2="265.00" y2="1490.00" stroke="#262626" stroke-width="2"/>
<text x="237.50" y="1499.00" font-size="22.3" text-anchor="end" fill="#262626">1280</text>
<line x1="250.00" y1="1435.00" x2="265.00" y2="1435.00" stroke="#262626" stroke-width="2"/>
<text x="237.50" y="1444.00" font-size="22.3" text-anchor="end" fill="#262626">1408</text>
<line x1="250.00" y1="1380.00" x2="265.00" y2="1380.00" stroke="#262626" stroke-width="2"/>
<text x="237.50" y="1389.00" font-size="22.3" text-anchor="end" fill="#262626">1536</text>
<line x1="250.00" y1="1325.00" x2="265.00" y2="1325.00" stroke="#262626" stroke-width="2"/>
<text x="237.50" y="1334.00" font-size="22.3" text-anchor="end" fill="#262626">1664</text>
<line x1="250.00" y1="1270.00" x2="265.00" y2="1270.00" stroke="#262626" stroke-width="2"/>
<text x="237.50" y="1279.00" font-size="22.3" text-anchor="end" fill="#262626">1792</text>
<line x1="250.00" y1="1215.00" x2="265.00" y2="1215.00" stroke="#262626" stroke-width="2"/>
<text x="237.50" y="1224.00" font-size="22.3" text-anchor="end" fill="#262626">1920</text>
<line x1="250.00" y1="1160.00" x2="265.00" y2="1160.00" stroke="#262626" stroke-width="2"/>
<text x="237.50" y="1169.00" font-size="22.3" text-anchor="end" fill="#262626">2048</text>
<line x1="2912.0" y1="1843.0" x2="2797.5" y2="1784.4" stroke="#000" stroke-width="1.6"/>
<line x1="2797.5" y1="1784.4" x2="2702.7" y2="1728.7" stroke="#000" stroke-width="1.6"/>
<line x1="2702.7" y1="1728.7" x2="2626.0" y2="1675.7" stroke="#000" stroke-width="1.6"/>
<line x1="2626.0" y1="1675.7" x2="2565.9" y2="1625.1" stroke="#000" stroke-width="1.6"/>
<line x1="2565.9" y1="1625.1" x2="2520.6" y2="1576.7" stroke="#000" stroke-width="1.6"/>
<line x1="2520.6" y1="1576.7" x2="2488.4" y2="1530.2" stroke="#000" stroke-width="1.6"/>
<line x1="2488.4" y1="1530.2" x2="2467.4" y2="1485.4" stroke="#000" stroke-width="1.6"/>
<line x1="2467.4" y1="1485.4" x2="2455.4" y2="1441.9" stroke="#000" stroke-width="1.6"/>
<line x1="2455.4" y1="1441.9" x2="2450.4" y2="1399.4" stroke="#000" stroke-width="1.6"/>
<line x1="2450.4" y1="1399.4" x2="2449.4" y2="1357.6" stroke="#000" stroke-width="1.6"/>
<line x1="2912.0" y1="1843.0" x2="2939.5" y2="1773.2" stroke="#000" stroke-width="1.6"/>
<line x1="2939.5" y1="1773.2" x2="2962.3" y2="1708.0" stroke="#000" stroke-width="1.6"/>
<line x1="2962.3" y1="1708.0" x2="2980.7" y2="1646.9" stroke="#000" stroke-width="1.6"/>
<line x1="2980.7" y1="1646.9" x2="2995.2" y2="1589.6" stroke="#000" stroke-width="1.6"/>
<line x1="2995.2" y1="1589.6" x2="3006.1" y2="1535.8" stroke="#000" stroke-width="1.6"/>
<line x1="3006.1" y1="1535.8" x2="3013.8" y2="1485.0" stroke="#000" stroke-width="1.6"/>
<line x1="3013.8" y1="1485.0" x2="3018.9" y2="1436.7" stroke="#000" stroke-width="1.6"/>
<line x1="3018.9" y1="1436.7" x2="3021.7" y2="1390.6" stroke="#000" stroke-width="1.6"/>
<line x1="3021.7" y1="1390.6" x2="3023.0" y2="1346.0" stroke="#000" stroke-width="1.6"/>
<line x1="3023.0" y1="1346.0" x2="3023.2" y2="1302.4" stroke="#000" stroke-width="1.6"/>
<line x1="2821.4" y1="1808.3" x2="2797.5" y2="1784.4" stroke="#000" stroke-width="1.6"/>
<line x1="2821.4" y1="1808.3" x2="2702.7" y2="1728.7" stroke="#000" stroke-width="1.6"/>
<line x1="2746.4" y1="1771.4" x2="2797.5" y2="1784.4" stroke="#000" stroke-width="1.6"/>
<line x1="2821.4" y1="1808.3" x2="2626.0" y2="1675.7" stroke="#000" stroke-width="1.6"/>
<line x1="2685.8" y1="1732.2" x2="2797.5" y2="1784.4" stroke="#000" stroke-width="1.6"/>
<line x1="2821.4" y1="1808.3" x2="2565.9" y2="1625.1" stroke="#000" stroke-width="1.6"/>
<line x1="2746.4" y1="1771.4" x2="2702.7" y2="1728.7" stroke="#000" stroke-width="1.6"/>
<line x1="2746.4" y1="1771.4" x2="2626.0" y2="1675.7" stroke="#000" stroke-width="1.6"/>
<line x1="2685.8" y1="1732.2" x2="2702.7" y2="1728.7" stroke="#000" stroke-width="1.6"/>
<line x1="2746.4" y1="1771.4" x2="2565.9" y2="1625.1" stroke="#000" stroke-width="1.6"/>
<line x1="2638.3" y1="1691.1" x2="2702.7" y2="1728.7" stroke="#000" stroke-width="1.6"/>
<line x1="2746.4" y1="1771.4" x2="2520.6" y2="1576.7" stroke="#000" stroke-width="1.6"/>
<line x1="2685.8" y1="1732.2" x2="2626.0" y2="1675.7" stroke="#000" stroke-width="1.6"/>
<line x1="2685.8" y1="1732.2" x2="2565.9" y2="1625.1" stroke="#000" stroke-width="1.6"/>
<line x1="2638.3" y1="1691.1" x2="2626.0" y2="1675.7" stroke="#000" stroke-width="1.6"/>
<line x1="2685.8" y1="1732.2" x2="2520.6" y2="1576.7" stroke="#000" stroke-width="1.6"/>
<line x1="2602.5" y1="1648.3" x2="2626.0" y2="1675.7" stroke="#000" stroke-width="1.6"/>
<line x1="2685.8" y1="1732.2" x2="2488.4" y2="1530.2" stroke="#000" stroke-width="1.6"/>
<line x1="2638.3" y1="1691.1" x2="2565.9" y2="1625.1" stroke="#000" stroke-width="1.6"/>
<line x1="2638.3" y1="1691.1" x2="2520.6" y2="1576.7" stroke="#000" stroke-width="1.6"/>
<line x1="2602.5" y1="1648.3" x2="2565.9" y2="1625.1" stroke="#000" stroke-width="1.6"/>
<line x1="2638.3" y1="1691.1" x2="2488.4" y2="1530.2" stroke="#000" stroke-width="1.6"/>
<line x1="2577.0" y1="1603.9" x2="2565.9" y2="1625.1" stroke="#000" stroke-width="1.6"/>
<line x1="2638.3" y1="1691.1" x2="2467.4" y2="1485.4" stroke="#000" stroke-width="1.6"/>
<line x1="2602.5" y1="1648.3" x2="2520.6" y2="1576.7" stroke="#000" stroke-width="1.6"/>
<line x1="2602.5" y1="1648.3" x2="2488.4" y2="1530.2" stroke="#000" stroke-width="1.6"/>
<line x1="2577.0" y1="1603.9" x2="2520.6" y2="1576.7" stroke="#000" stroke-width="1.6"/>
<line x1="2602.5" y1="1648.3" x2="2467.4" y2="1485.4" stroke="#000" stroke-width="1.6"/>
<line x1="2560.3" y1="1558.2" x2="2520.6" y2="1576.7" stroke="#000" stroke-width="1.6"/>
<line x1="2602.5" y1="1648.3" x2="2455.4" y2="1441.9" stroke="#000" stroke-width="1.6"/>
<line x1="2577.0" y1="1603.9" x2="2488.4" y2="1530.2" stroke="#000" stroke-width="1.6"/>
<line x1="2577.0" y1="1603.9" x2="2467.4" y2="1485.4" stroke="#000" stroke-width="1.6"/>
<line x1="2560.3" y1="1558.2" x2="2488.4" y2="1530.2" stroke="#000" stroke-width="1.6"/>
<line x1="2577.0" y1="1603.9" x2="2455.4" y2="1441.9" stroke="#000" stroke-width="1.6"/>
<line x1="2550.9" y1="1511.4" x2="2488.4" y2="1530.2" stroke="#000" stroke-width="1.6"/>
<line x1="2577.0" y1="1603.9" x2="2450.4" y2="1399.4" stroke="#000" stroke-width="1.6"/>
<line x1="2560.3" y1="1558.2" x2="2467.4" y2="1485.4" stroke="#000" stroke-width="1.6"/>
<line x1="2560.3" y1="1558.2" x2="2455.4" y2="1441.9" stroke="#000" stroke-width="1.6"/>
<line x1="2550.9" y1="1511.4" x2="2467.4" y2="1485.4" stroke="#000" stroke-width="1.6"/>
<line x1="2560.3" y1="1558.2" x2="2450.4" y2="1399.4" stroke="#000" stroke-width="1.6"/>
<line x1="2546.9" y1="1463.8" x2="2467.4" y2="1485.4" stroke="#000" stroke-width="1.6"/>
<line x1="2560.3" y1="1558.2" x2="2449.4" y2="1357.6" stroke="#000" stroke-width="1.6"/>
<line x1="2550.9" y1="1511.4" x2="2455.4" y2="1441.9" stroke="#000" stroke-width="1.6"/>
<line x1="2550.9" y1="1511.4" x2="2450.4" y2="1399.4" stroke="#000" stroke-width="1.6"/>
<line x1="2546.9" y1="1463.8" x2="2455.4" y2="1441.9" stroke="#000" stroke-width="1.6"/>
<line x1="2550.9" y1="1511.4" x2="2449.4" y2="1357.6" stroke="#000" stroke-width="1.6"/>
<line x1="2546.2" y1="1415.7" x2="2455.4" y2="1441.9" stroke="#000" stroke-width="1.6"/>
<line x1="2546.9" y1="1463.8" x2="2450.4" y2="1399.4" stroke="#000" stroke-width="1.6"/>
<line x1="2546.9" y1="1463.8" x2="2449.4" y2="1357.6" stroke="#000" stroke-width="1.6"/>
<line x1="2546.2" y1="1415.7" x2="2450.4" y2="1399.4" stroke="#000" stroke-width="1.6"/>
<line x1="2546.2" y1="1415.7" x2="2449.4" y2="1357.6" stroke="#000" stroke-width="1.6"/>
<line x1="2797.5" y1="1784.4" x2="2939.5" y2="1773.2" stroke="#000" stroke-width="1.6"/>
<line x1="2797.5" y1="1784.4" x2="2962.3" y2="1708.0" stroke="#000" stroke-width="1.6"/>
<line x1="2702.7" y1="1728.7" x2="2939.5" y2="1773.2" stroke="#000" stroke-width="1.6"/>
<line x1="2797.5" y1="1784.4" x2="2980.7" y2="1646.9" stroke="#000" stroke-width="1.6"/>
<line x1="2626.0" y1="1675.7" x2="2939.5" y2="1773.2" stroke="#000" stroke-width="1.6"/>
<line x1="2797.5" y1="1784.4" x2="2995.2" y2="1589.6" stroke="#000" stroke-width="1.6"/>
<line x1="2702.7" y1="1728.7" x2="2962.3" y2="1708.0" stroke="#000" stroke-width="1.6"/>
<line x1="2702.7" y1="1728.7" x2="2980.7" y2="1646.9" stroke="#000" stroke-width="1.6"/>
<line x1="2626.0" y1="1675.7" x2="2962.3" y2="1708.0" stroke="#000" stroke-width="1.6"/>
<line x1="2702.7" y1="1728.7" x2="2995.2" y2="1589.6" stroke="#000" stroke-width="1.6"/>
<line x1="2565.9" y1="1625.1" x2="2962.3" y2="1708.0" stroke="#000" stroke-width="1.6"/>
<line x1="2702.7" y1="1728.7" x2="3006.1" y2="1535.8" stroke="#000" stroke-width="1.6"/>
<line x1="2626.0" y1="1675.7" x2="2980.7" y2="1646.9" stroke="#000" stroke-width="1.6"/>
<line x1="2626.0" y1="1675.7" x2="2995.2" y2="1589.6" stroke="#000" stroke-width="1.6"/>
<line x1="2565.9" y1="1625.1" x2="2980.7" y2="1646.9" stroke="#000" stroke-width="1.6"/>
<line x1="2626.0" y1="1675.7" x2="3006.1" y2="1535.8" stroke="#000" stroke-width="1.6"/>
<line x1="2520.6" y1="1576.7" x2="2980.7" y2="1646.9" stroke="#000" stroke-width="1.6"/>
<line x1="2626.0" y1="1675.7" x2="3013.8" y2="1485.0" stroke="#000" stroke-width="1.6"/>
<line x1="2565.9" y1="1625.1" x2="2995.2" y2="1589.6" stroke="#000" stroke-width="1.6"/>
<line x1="2565.9" y1="1625.1" x2="3006.1" y2="1535.8" stroke="#000" stroke-width="1.6"/>
<line x1="2520.6" y1="1576.7" x2="2995.2" y2="1589.6" stroke="#000" stroke-width="1.6"/>
<line x1="2565.9" y1="1625.1" x2="3013.8" y2="1485.0" stroke="#000" stroke-width="1.6"/>
<line x1="2488.4" y1="1530.2" x2="2995.2" y2="1589.6" stroke="#000" stroke-width="1.6"/>
<line x1="2565.9" y1="1625.1" x2="3018.9" y2="1436.7" stroke="#000" stroke-width="1.6"/>
<line x1="2520.6" y1="1576.7" x2="3006.1" y2="1535.8" stroke="#000" stroke-width="1.6"/>
<line x1="2520.6" y1="1576.7" x2="3013.8" y2="1485.0" stroke="#000" stroke-width="1.6"/>
<line x1="2488.4" y1="1530.2" x2="3006.1" y2="1535.8" stroke="#000" stroke-width="1.6"/>
<line x1="2520.6" y1="1576.7" x2="3018.9" y2="1436.7" stroke="#000" stroke-width="1.6"/>
<line x1="2467.4" y1="1485.4" x2="3006.1" y2="1535.8" stroke="#000" stroke-width="1.6"/>
<line x1="2520.6" y1="1576.7" x2="3021.7" y2="1390.6" stroke="#000" stroke-width="1.6"/>
<line x1="2488.4" y1="1530.2" x2="3013.8" y2="1485.0" stroke="#000" stroke-width="1.6"/>
<line x1="2488.4" y1="1530.2" x2="3018.9" y2="1436.7" stroke="#000" stroke-width="1.6"/>
<line x1="2467.4" y1="1485.4" x2="3013.8" y2="1485.0" stroke="#000" stroke-width="1.6"/>
<line x1="2488.4" y1="1530.2" x2="3021.7" y2="1390.6" stroke="#000" stroke-width="1.6"/>
<line x1="2455.4" y1="1441.9" x2="3013.8" y2="1485.0" stroke="#000" stroke-width="1.6"/>
<line x1="2488.4" y1="1530.2" x2="3023.0" y2="1346.0" stroke="#000" stroke-width="1.6"/>
<line x1="2467.4" y1="1485.4" x2="3018.9" y2="1436.7" stroke="#000" stroke-width="1.6"/>
<line x1="2467.4" y1="1485.4" x2="3021.7" y2="1390.6" stroke="#000" stroke-width="1.6"/>
<line x1="2455.4" y1="1441.9" x2="3018.9" y2="1436.7" stroke="#000" stroke-width="1.6"/>
<line x1="2467.4" y1="1485.4" x2="3023.0" y2="1346.0" stroke="#000" stroke-width="1.6"/>
<line x1="2450.4" y1="1399.4" x2="3018.9" y2="1436.7" stroke="#000" stroke-width="1.6"/>
<line x1="2467.4" y1="1485.4" x2="3023.2" y2="1302.4" stroke="#000" stroke-width="1.6"/>
<line x1="2455.4" y1="1441.9" x2="3021.7" y2="1390.6" stroke="#000" stroke-width="1.6"/>
<line x1="2455.4" y1="1441.9" x2="3023.0" y2="1346.0" stroke="#000" stroke-width="1.6"/>
<line x1="2450.4" y1="1399.4" x2="3021.7" y2="1390.6" stroke="#000" stroke-width="1.6"/>
<line x1="2455.4" y1="1441.9" x2="3023.2" y2="1302.4" stroke="#000" stroke-width="1.6"/>
<line x1="2449.4" y1="1357.6" x2="3021.7" y2="1390.6" stroke="#000" stroke-width="1.6"/>
<line x1="2450.4" y1="1399.4" x2="3023.0" y2="1346.0" stroke="#000" stroke-width="1.6"/>
<line x1="2450.4" y1="1399.4" x2="3023.2" y2="1302.4" stroke="#000" stroke-width="1.6"/>
<line x1="2449.4" y1="1357.6" x2="3023.0" y2="1346.0" stroke="#000" stroke-width="1.6"/>
<line x1="2449.4" y1="1357.6" x2="3023.2" y2="1302.4" stroke="#000" stroke-width="1.6"/>
<line x1="2939.5" y1="1773.2" x2="3018.9" y2="1811.8" stroke="#000" stroke-width="1.6"/>
<line x1="2962.3" y1="1708.0" x2="3018.9" y2="1811.8" stroke="#000" stroke-width="1.6"/>
<line x1="2980.7" y1="1646.9" x2="3018.9" y2="1811.8" stroke="#000" stroke-width="1.6"/>
<line x1="2962.3" y1="1708.0" x2="3107.5" y2="1779.7" stroke="#000" stroke-width="1.6"/>
<line x1="2980.7" y1="1646.9" x2="3107.5" y2="1779.7" stroke="#000" stroke-width="1.6"/>
<line x1="2995.2" y1="1589.6" x2="3107.5" y2="1779.7" stroke="#000" stroke-width="1.6"/>
<line x1="2980.7" y1="1646.9" x2="3179.0" y2="1747.0" stroke="#000" stroke-width="1.6"/>
<line x1="2980.7" y1="1646.9" x2="3235.2" y2="1713.7" stroke="#000" stroke-width="1.6"/>
<line x1="2995.2" y1="1589.6" x2="3179.0" y2="1747.0" stroke="#000" stroke-width="1.6"/>
<line x1="3006.1" y1="1535.8" x2="3179.0" y2="1747.0" stroke="#000" stroke-width="1.6"/>
<line x1="2995.2" y1="1589.6" x2="3235.2" y2="1713.7" stroke="#000" stroke-width="1.6"/>
<line x1="2995.2" y1="1589.6" x2="3277.4" y2="1679.7" stroke="#000" stroke-width="1.6"/>
<line x1="3006.1" y1="1535.8" x2="3235.2" y2="1713.7" stroke="#000" stroke-width="1.6"/>
<line x1="3013.8" y1="1485.0" x2="3235.2" y2="1713.7" stroke="#000" stroke-width="1.6"/>
<line x1="3006.1" y1="1535.8" x2="3277.4" y2="1679.7" stroke="#000" stroke-width="1.6"/>
<line x1="3006.1" y1="1535.8" x2="3307.5" y2="1645.3" stroke="#000" stroke-width="1.6"/>
<line x1="3013.8" y1="1485.0" x2="3277.4" y2="1679.7" stroke="#000" stroke-width="1.6"/>
<line x1="3006.1" y1="1535.8" x2="3327.2" y2="1610.4" stroke="#000" stroke-width="1.6"/>
<line x1="3018.9" y1="1436.7" x2="3277.4" y2="1679.7" stroke="#000" stroke-width="1.6"/>
<line x1="3006.1" y1="1535.8" x2="3338.3" y2="1575.1" stroke="#000" stroke-width="1.6"/>
<line x1="3013.8" y1="1485.0" x2="3307.5" y2="1645.3" stroke="#000" stroke-width="1.6"/>
<line x1="3013.8" y1="1485.0" x2="3327.2" y2="1610.4" stroke="#000" stroke-width="1.6"/>
<line x1="3018.9" y1="1436.7" x2="3307.5" y2="1645.3" stroke="#000" stroke-width="1.6"/>
<line x1="3013.8" y1="1485.0" x2="3338.3" y2="1575.1" stroke="#000" stroke-width="1.6"/>
<line x1="3021.7" y1="1390.6" x2="3307.5" y2="1645.3" stroke="#000" stroke-width="1.6"/>
<line x1="3013.8" y1="1485.0" x2="3343.0" y2="1539.6" stroke="#000" stroke-width="1.6"/>
<line x1="3018.9" y1="1436.7" x2="3327.2" y2="1610.4" stroke="#000" stroke-width="1.6"/>
<line x1="3018.9" y1="1436.7" x2="3338.3" y2="1575.1" stroke="#000" stroke-width="1.6"/>
<line x1="3021.7" y1="1390.6" x2="3327.2" y2="1610.4" stroke="#000" stroke-width="1.6"/>
<line x1="3018.9" y1="1436.7" x2="3343.0" y2="1539.6" stroke="#000" stroke-width="1.6"/>
<line x1="3023.0" y1="1346.0" x2="3327.2" y2="1610.4" stroke="#000" stroke-width="1.6"/>
<line x1="3018.9" y1="1436.7" x2="3343.9" y2="1504.0" stroke="#000" stroke-width="1.6"/>
<line x1="3021.7" y1="1390.6" x2="3338.3" y2="1575.1" stroke="#000" stroke-width="1.6"/>
<line x1="3021.7" y1="1390.6" x2="3343.0" y2="1539.6" stroke="#000" stroke-width="1.6"/>
<line x1="3023.0" y1="1346.0" x2="3338.3" y2="1575.1" stroke="#000" stroke-width="1.6"/>
<line x1="3021.7" y1="1390.6" x2="3343.9" y2="1504.0" stroke="#000" stroke-width="1.6"/>
<line x1="3023.2" y1="1302.4" x2="3338.3" y2="1575.1" stroke="#000" stroke-width="1.6"/>
<line x1="3023.0" y1="1346.0" x2="3343.0" y2="1539.6" stroke="#000" stroke-width="1.6"/>
<line x1="3023.0" y1="1346.0" x2="3343.9" y2="1504.0" stroke="#000" stroke-width="1.6"/>
<line x1="3023.2" y1="1302.4" x2="3343.0" y2="1539.6" stroke="#000" stroke-width="1.6"/>
<line x1="3023.2" y1="1302.4" x2="3343.9" y2="1504.0" stroke="#000" stroke-width="1.6"/>
<line x1="2912.0" y1="1356.7" x2="2565.9" y2="1625.1" stroke="#000" stroke-width="1.6"/>
<line x1="2912.0" y1="1356.7" x2="2520.6" y2="1576.7" stroke="#000" stroke-width="1.6"/>
<line x1="2912.0" y1="1356.7" x2="2488.4" y2="1530.2" stroke="#000" stroke-width="1.6"/>
<line x1="2912.0" y1="1356.7" x2="2467.4" y2="1485.4" stroke="#000" stroke-width="1.6"/>
<line x1="2912.0" y1="1356.7" x2="2455.4" y2="1441.9" stroke="#000" stroke-width="1.6"/>
<line x1="2912.0" y1="1356.7" x2="2450.4" y2="1399.4" stroke="#000" stroke-width="1.6"/>
<line x1="2912.0" y1="1356.7" x2="2449.4" y2="1357.6" stroke="#000" stroke-width="1.6"/>
<line x1="2912.0" y1="1356.7" x2="2995.2" y2="1589.6" stroke="#000" stroke-width="1.6"/>
<line x1="2912.0" y1="1356.7" x2="3006.1" y2="1535.8" stroke="#000" stroke-width="1.6"/>
<line x1="2912.0" y1="1356.7" x2="3013.8" y2="1485.0" stroke="#000" stroke-width="1.6"/>
<line x1="2912.0" y1="1356.7" x2="3018.9" y2="1436.7" stroke="#000" stroke-width="1.6"/>
<line x1="2912.0" y1="1356.7" x2="3021.7" y2="1390.6" stroke="#000" stroke-width="1.6"/>
<line x1="2912.0" y1="1356.7" x2="3023.0" y2="1346.0" stroke="#000" stroke-width="1.6"/>
<line x1="2912.0" y1="1356.7" x2="3023.2" y2="1302.4" stroke="#000" stroke-width="1.6"/>
<line x1="2546.2" y1="1415.7" x2="2449.4" y2="1357.6" stroke="#000" stroke-width="1.6"/>
<line x1="2449.4" y1="1357.6" x2="3023.2" y2="1302.4" stroke="#000" stroke-width="1.6"/>
<line x1="3023.2" y1="1302.4" x2="3343.9" y2="1504.0" stroke="#000" stroke-width="1.6"/>
<polygon points="2623.3,1591.2 2977.6,1528.5 2975.8,1550.8 2631.1,1612.8" fill="#34628d" stroke="#34628d" stroke-width="1" stroke-linejoin="round"/>
<polygon points="2631.1,1612.8 2975.8,1550.8 2972.7,1597.5 2644.7,1654.1" fill="#7ad151" stroke="#7ad151" stroke-width="1" stroke-linejoin="round"/>
<polygon points="2644.7,1654.1 2972.7,1597.5 2967.7,1642.0 2666.6,1694.4" fill="#5ac864" stroke="#5ac864" stroke-width="1" stroke-linejoin="round"/>
<polygon points="2666.6,1694.4 2967.7,1642.0 2960.0,1687.3 2700.6,1733.4" fill="#b5de2b" stroke="#b5de2b" stroke-width="1" stroke-linejoin="round"/>
<polygon points="2700.6,1733.4 2960.0,1687.3 2950.4,1730.5 2742.9,1768.2" fill="#460b5e" stroke="#460b5e" stroke-width="1" stroke-linejoin="round"/>
<polygon points="2742.9,1768.2 2950.4,1730.5 2939.9,1770.6 2789.3,1797.5" fill="#404688" stroke="#404688" stroke-width="1" stroke-linejoin="round"/>
<polygon points="2789.3,1797.5 2939.9,1770.6 2926.1,1807.5 2849.9,1821.3" fill="#38598c" stroke="#38598c" stroke-width="1" stroke-linejoin="round"/>
<polygon points="2849.9,1821.3 2926.1,1807.5 2912.0,1843.0 2912.0,1843.0" fill="#fde725" stroke="#fde725" stroke-width="1" stroke-linejoin="round"/>
<polygon points="2666.6,1694.4 2967.7,1642.0 2960.0,1687.3" fill="#5ac864" stroke="#5ac864" stroke-width="1" stroke-linejoin="round"/>
<polygon points="2666.6,1694.4 2960.0,1687.3 2700.6,1733.4" fill="#a8db34" stroke="#a8db34" stroke-width="1" stroke-linejoin="round"/>
<polygon points="2977.6,1528.5 3289.4,1592.9 2975.8,1550.8" fill="#4a2475" stroke="#4a2475" stroke-width="1" stroke-linejoin="round"/>
<polygon points="2975.8,1550.8 3289.4,1592.9 2972.7,1597.5" fill="#481a6c" stroke="#481a6c" stroke-width="1" stroke-linejoin="round"/>
<polygon points="2972.7,1597.5 3289.4,1592.9 2967.7,1642.0" fill="#21a386" stroke="#21a386" stroke-width="1" stroke-linejoin="round"/>
<polygon points="2967.7,1642.0 3289.4,1592.9 3275.0,1629.4 2960.0,1687.3" fill="#2c728e" stroke="#2c728e" stroke-width="1" stroke-linejoin="round"/>
<polygon points="2960.0,1687.3 3275.0,1629.4 3260.5,1659.7" fill="#3b528b" stroke="#3b528b" stroke-width="1" stroke-linejoin="round"/>
<polygon points="2960.0,1687.3 3260.5,1659.7 3234.8,1701.7 2950.4,1730.5" fill="#2a788e" stroke="#2a788e" stroke-width="1" stroke-linejoin="round"/>
<polygon points="2950.4,1730.5 3234.8,1701.7 3198.0,1736.9 2939.9,1770.6" fill="#37618d" stroke="#37618d" stroke-width="1" stroke-linejoin="round"/>
<polygon points="2939.9,1770.6 3198.0,1736.9 3146.3,1772.0 3091.0,1799.0 2926.1,1807.5" fill="#2eb37c" stroke="#2eb37c" stroke-width="1" stroke-linejoin="round"/>
<polygon points="2926.1,1807.5 3091.0,1799.0 3018.2,1823.6 2912.0,1843.0" fill="#29af7f" stroke="#29af7f" stroke-width="1" stroke-linejoin="round"/>
<polygon points="2912.0,1479.7 3033.7,1441.0 2522.0,1490.3" fill="#6ece58" stroke="#6ece58" stroke-width="1" stroke-linejoin="round"/>
<polygon points="2912.0,1479.7 2522.0,1490.3 2584.0,1534.5" fill="#21908d" stroke="#21908d" stroke-width="1" stroke-linejoin="round"/>
<polygon points="2912.0,1479.7 2584.0,1534.5 2623.4,1591.1" fill="#2a788e" stroke="#2a788e" stroke-width="1" stroke-linejoin="round"/>
<polygon points="2912.0,1479.7 2623.4,1591.1 2977.6,1527.5" fill="#46307e" stroke="#46307e" stroke-width="1" stroke-linejoin="round"/>
<polygon points="2912.0,1479.7 2977.6,1527.5 3282.7,1591.3" fill="#46307e" stroke="#46307e" stroke-width="1" stroke-linejoin="round"/>
<polygon points="2912.0,1479.7 3282.7,1591.3 3033.7,1441.0" fill="#3a5a8c" stroke="#3a5a8c" stroke-width="1" stroke-linejoin="round"/>
<line x1="2912.0" y1="1843.0" x2="2832.4" y2="1823.5" stroke="#000" stroke-width="1.6"/>
<line x1="2832.4" y1="1823.5" x2="2766.5" y2="1799.4" stroke="#000" stroke-width="1.6"/>
<line x1="2766.5" y1="1799.4" x2="2713.2" y2="1771.0" stroke="#000" stroke-width="1.6"/>
<line x1="2713.2" y1="1771.0" x2="2671.4" y2="1738.9" stroke="#000" stroke-width="1.6"/>
<line x1="2671.4" y1="1738.9" x2="2639.9" y2="1703.3" stroke="#000" stroke-width="1.6"/>
<line x1="2639.9" y1="1703.3" x2="2617.5" y2="1664.6" stroke="#000" stroke-width="1.6"/>
<line x1="2617.5" y1="1664.6" x2="2602.9" y2="1623.4" stroke="#000" stroke-width="1.6"/>
<line x1="2602.9" y1="1623.4" x2="2594.6" y2="1580.1" stroke="#000" stroke-width="1.6"/>
<line x1="2594.6" y1="1580.1" x2="2591.0" y2="1535.1" stroke="#000" stroke-width="1.6"/>
<line x1="2591.0" y1="1535.1" x2="2590.4" y2="1489.3" stroke="#000" stroke-width="1.6"/>
<line x1="2912.0" y1="1843.0" x2="2821.4" y2="1808.3" stroke="#000" stroke-width="1.6"/>
<line x1="2821.4" y1="1808.3" x2="2746.4" y2="1771.4" stroke="#000" stroke-width="1.6"/>
<line x1="2746.4" y1="1771.4" x2="2685.8" y2="1732.2" stroke="#000" stroke-width="1.6"/>
<line x1="2685.8" y1="1732.2" x2="2638.3" y2="1691.1" stroke="#000" stroke-width="1.6"/>
<line x1="2638.3" y1="1691.1" x2="2602.5" y2="1648.3" stroke="#000" stroke-width="1.6"/>
<line x1="2602.5" y1="1648.3" x2="2577.0" y2="1603.9" stroke="#000" stroke-width="1.6"/>
<line x1="2577.0" y1="1603.9" x2="2560.3" y2="1558.2" stroke="#000" stroke-width="1.6"/>
<line x1="2560.3" y1="1558.2" x2="2550.9" y2="1511.4" stroke="#000" stroke-width="1.6"/>
<line x1="2550.9" y1="1511.4" x2="2546.9" y2="1463.8" stroke="#000" stroke-width="1.6"/>
<line x1="2546.9" y1="1463.8" x2="2546.2" y2="1415.7" stroke="#000" stroke-width="1.6"/>
<line x1="2912.0" y1="1843.0" x2="3018.9" y2="1811.8" stroke="#000" stroke-width="1.6"/>
<line x1="3018.9" y1="1811.8" x2="3107.5" y2="1779.7" stroke="#000" stroke-width="1.6"/>
<line x1="3107.5" y1="1779.7" x2="3179.0" y2="1747.0" stroke="#000" stroke-width="1.6"/>
<line x1="3179.0" y1="1747.0" x2="3235.2" y2="1713.7" stroke="#000" stroke-width="1.6"/>
<line x1="3235.2" y1="1713.7" x2="3277.4" y2="1679.7" stroke="#000" stroke-width="1.6"/>
<line x1="3277.4" y1="1679.7" x2="3307.5" y2="1645.3" stroke="#000" stroke-width="1.6"/>
<line x1="3307.5" y1="1645.3" x2="3327.2" y2="1610.4" stroke="#000" stroke-width="1.6"/>
<line x1="3327.2" y1="1610.4" x2="3338.3" y2="1575.1" stroke="#000" stroke-width="1.6"/>
<line x1="3338.3" y1="1575.1" x2="3343.0" y2="1539.6" stroke="#000" stroke-width="1.6"/>
<line x1="3343.0" y1="1539.6" x2="3343.9" y2="1504.0" stroke="#000" stroke-width="1.6"/>
<line x1="2912.0" y1="1843.0" x2="2932.1" y2="1806.7" stroke="#000" stroke-width="1.6"/>
<line x1="2932.1" y1="1806.7" x2="2948.8" y2="1768.6" stroke="#000" stroke-width="1.6"/>
<line x1="2948.8" y1="1768.6" x2="2962.3" y2="1728.8" stroke="#000" stroke-width="1.6"/>
<line x1="2962.3" y1="1728.8" x2="2972.9" y2="1687.5" stroke="#000" stroke-width="1.6"/>
<line x1="2972.9" y1="1687.5" x2="2980.8" y2="1644.8" stroke="#000" stroke-width="1.6"/>
<line x1="2980.8" y1="1644.8" x2="2986.5" y2="1601.0" stroke="#000" stroke-width="1.6"/>
<line x1="2986.5" y1="1601.0" x2="2990.2" y2="1556.1" stroke="#000" stroke-width="1.6"/>
<line x1="2990.2" y1="1556.1" x2="2992.3" y2="1510.4" stroke="#000" stroke-width="1.6"/>
<line x1="2992.3" y1="1510.4" x2="2993.2" y2="1464.0" stroke="#000" stroke-width="1.6"/>
<line x1="2993.2" y1="1464.0" x2="2993.3" y2="1417.3" stroke="#000" stroke-width="1.6"/>
<line x1="2832.4" y1="1823.5" x2="2821.4" y2="1808.3" stroke="#000" stroke-width="1.6"/>
<line x1="2832.4" y1="1823.5" x2="2746.4" y2="1771.4" stroke="#000" stroke-width="1.6"/>
<line x1="2766.5" y1="1799.4" x2="2821.4" y2="1808.3" stroke="#000" stroke-width="1.6"/>
<line x1="2832.4" y1="1823.5" x2="2685.8" y2="1732.2" stroke="#000" stroke-width="1.6"/>
<line x1="2713.2" y1="1771.0" x2="2821.4" y2="1808.3" stroke="#000" stroke-width="1.6"/>
<line x1="2832.4" y1="1823.5" x2="2638.3" y2="1691.1" stroke="#000" stroke-width="1.6"/>
<line x1="2766.5" y1="1799.4" x2="2746.4" y2="1771.4" stroke="#000" stroke-width="1.6"/>
<line x1="2766.5" y1="1799.4" x2="2685.8" y2="1732.2" stroke="#000" stroke-width="1.6"/>
<line x1="2713.2" y1="1771.0" x2="2746.4" y2="1771.4" stroke="#000" stroke-width="1.6"/>
<line x1="2766.5" y1="1799.4" x2="2638.3" y2="1691.1" stroke="#000" stroke-width="1.6"/>
<line x1="2671.4" y1="1738.9" x2="2746.4" y2="1771.4" stroke="#000" stroke-width="1.6"/>
<line x1="2766.5" y1="1799.4" x2="2602.5" y2="1648.3" stroke="#000" stroke-width="1.6"/>
<line x1="2713.2" y1="1771.0" x2="2685.8" y2="1732.2" stroke="#000" stroke-width="1.6"/>
<line x1="2713.2" y1="1771.0" x2="2638.3" y2="1691.1" stroke="#000" stroke-width="1.6"/>
<line x1="2671.4" y1="1738.9" x2="2685.8" y2="1732.2" stroke="#000" stroke-width="1.6"/>
<line x1="2713.2" y1="1771.0" x2="2602.5" y2="1648.3" stroke="#000" stroke-width="1.6"/>
<line x1="2639.9" y1="1703.3" x2="2685.8" y2="1732.2" stroke="#000" stroke-width="1.6"/>
<line x1="2713.2" y1="1771.0" x2="2577.0" y2="1603.9" stroke="#000" stroke-width="1.6"/>
<line x1="2671.4" y1="1738.9" x2="2638.3" y2="1691.1" stroke="#000" stroke-width="1.6"/>
<line x1="2671.4" y1="1738.9" x2="2602.5" y2="1648.3" stroke="#000" stroke-width="1.6"/>
<line x1="2639.9" y1="1703.3" x2="2638.3" y2="1691.1" stroke="#000" stroke-width="1.6"/>
<line x1="2671.4" y1="1738.9" x2="2577.0" y2="1603.9" stroke="#000" stroke-width="1.6"/>
<line x1="2617.5" y1="1664.6" x2="2638.3" y2="1691.1" stroke="#000" stroke-width="1.6"/>
<line x1="2671.4" y1="1738.9" x2="2560.3" y2="1558.2" stroke="#000" stroke-width="1.6"/>
<line x1="2639.9" y1="1703.3" x2="2602.5" y2="1648.3" stroke="#000" stroke-width="1.6"/>
<line x1="2639.9" y1="1703.3" x2="2577.0" y2="1603.9" stroke="#000" stroke-width="1.6"/>
<line x1="2617.5" y1="1664.6" x2="2602.5" y2="1648.3" stroke="#000" stroke-width="1.6"/>
<line x1="2639.9" y1="1703.3" x2="2560.3" y2="1558.2" stroke="#000" stroke-width="1.6"/>
<line x1="2602.9" y1="1623.4" x2="2602.5" y2="1648.3" stroke="#000" stroke-width="1.6"/>
<line x1="2639.9" y1="1703.3" x2="2550.9" y2="1511.4" stroke="#000" stroke-width="1.6"/>
<line x1="2617.5" y1="1664.6" x2="2577.0" y2="1603.9" stroke="#000" stroke-width="1.6"/>
<line x1="2617.5" y1="1664.6" x2="2560.3" y2="1558.2" stroke="#000" stroke-width="1.6"/>
<line x1="2602.9" y1="1623.4" x2="2577.0" y2="1603.9" stroke="#000" stroke-width="1.6"/>
<line x1="2617.5" y1="1664.6" x2="2550.9" y2="1511.4" stroke="#000" stroke-width="1.6"/>
<line x1="2594.6" y1="1580.1" x2="2577.0" y2="1603.9" stroke="#000" stroke-width="1.6"/>
<line x1="2617.5" y1="1664.6" x2="2546.9" y2="1463.8" stroke="#000" stroke-width="1.6"/>
<line x1="2602.9" y1="1623.4" x2="2560.3" y2="1558.2" stroke="#000" stroke-width="1.6"/>
<line x1="2602.9" y1="1623.4" x2="2550.9" y2="1511.4" stroke="#000" stroke-width="1.6"/>
<line x1="2594.6" y1="1580.1" x2="2560.3" y2="1558.2" stroke="#000" stroke-width="1.6"/>
<line x1="2602.9" y1="1623.4" x2="2546.9" y2="1463.8" stroke="#000" stroke-width="1.6"/>
<line x1="2591.0" y1="1535.1" x2="2560.3" y2="1558.2" stroke="#000" stroke-width="1.6"/>
<line x1="2602.9" y1="1623.4" x2="2546.2" y2="1415.7" stroke="#000" stroke-width="1.6"/>
<line x1="2594.6" y1="1580.1" x2="2550.9" y2="1511.4" stroke="#000" stroke-width="1.6"/>
<line x1="2594.6" y1="1580.1" x2="2546.9" y2="1463.8" stroke="#000" stroke-width="1.6"/>
<line x1="2591.0" y1="1535.1" x2="2550.9" y2="1511.4" stroke="#000" stroke-width="1.6"/>
<line x1="2594.6" y1="1580.1" x2="2546.2" y2="1415.7" stroke="#000" stroke-width="1.6"/>
<line x1="2590.4" y1="1489.3" x2="2550.9" y2="1511.4" stroke="#000" stroke-width="1.6"/>
<line x1="2591.0" y1="1535.1" x2="2546.9" y2="1463.8" stroke="#000" stroke-width="1.6"/>
<line x1="2591.0" y1="1535.1" x2="2546.2" y2="1415.7" stroke="#000" stroke-width="1.6"/>
<line x1="2590.4" y1="1489.3" x2="2546.9" y2="1463.8" stroke="#000" stroke-width="1.6"/>
<line x1="2590.4" y1="1489.3" x2="2546.2" y2="1415.7" stroke="#000" stroke-width="1.6"/>
<line x1="2939.5" y1="1773.2" x2="3107.5" y2="1779.7" stroke="#000" stroke-width="1.6"/>
<line x1="2939.5" y1="1773.2" x2="3179.0" y2="1747.0" stroke="#000" stroke-width="1.6"/>
<line x1="2939.5" y1="1773.2" x2="3235.2" y2="1713.7" stroke="#000" stroke-width="1.6"/>
<line x1="2962.3" y1="1708.0" x2="3179.0" y2="1747.0" stroke="#000" stroke-width="1.6"/>
<line x1="2962.3" y1="1708.0" x2="3235.2" y2="1713.7" stroke="#000" stroke-width="1.6"/>
<line x1="2962.3" y1="1708.0" x2="3277.4" y2="1679.7" stroke="#000" stroke-width="1.6"/>
<line x1="2980.7" y1="1646.9" x2="3277.4" y2="1679.7" stroke="#000" stroke-width="1.6"/>
<line x1="2980.7" y1="1646.9" x2="3307.5" y2="1645.3" stroke="#000" stroke-width="1.6"/>
<line x1="2995.2" y1="1589.6" x2="3307.5" y2="1645.3" stroke="#000" stroke-width="1.6"/>
<line x1="2995.2" y1="1589.6" x2="3327.2" y2="1610.4" stroke="#000" stroke-width="1.6"/>
<line x1="3018.9" y1="1811.8" x2="2932.1" y2="1806.7" stroke="#000" stroke-width="1.6"/>
<line x1="3018.9" y1="1811.8" x2="2948.8" y2="1768.6" stroke="#000" stroke-width="1.6"/>
<line x1="3107.5" y1="1779.7" x2="2932.1" y2="1806.7" stroke="#000" stroke-width="1.6"/>
<line x1="3018.9" y1="1811.8" x2="2962.3" y2="1728.8" stroke="#000" stroke-width="1.6"/>
<line x1="3179.0" y1="1747.0" x2="2932.1" y2="1806.7" stroke="#000" stroke-width="1.6"/>
<line x1="3018.9" y1="1811.8" x2="2972.9" y2="1687.5" stroke="#000" stroke-width="1.6"/>
<line x1="3107.5" y1="1779.7" x2="2948.8" y2="1768.6" stroke="#000" stroke-width="1.6"/>
<line x1="3107.5" y1="1779.7" x2="2962.3" y2="1728.8" stroke="#000" stroke-width="1.6"/>
<line x1="3179.0" y1="1747.0" x2="2948.8" y2="1768.6" stroke="#000" stroke-width="1.6"/>
<line x1="3107.5" y1="1779.7" x2="2972.9" y2="1687.5" stroke="#000" stroke-width="1.6"/>
<line x1="3235.2" y1="1713.7" x2="2948.8" y2="1768.6" stroke="#000" stroke-width="1.6"/>
<line x1="3107.5" y1="1779.7" x2="2980.8" y2="1644.8" stroke="#000" stroke-width="1.6"/>
<line x1="3179.0" y1="1747.0" x2="2962.3" y2="1728.8" stroke="#000" stroke-width="1.6"/>
<line x1="3179.0" y1="1747.0" x2="2972.9" y2="1687.5" stroke="#000" stroke-width="1.6"/>
<line x1="3235.2" y1="1713.7" x2="2962.3" y2="1728.8" stroke="#000" stroke-width="1.6"/>
<line x1="3179.0" y1="1747.0" x2="2980.8" y2="1644.8" stroke="#000" stroke-width="1.6"/>
<line x1="3277.4" y1="1679.7" x2="2962.3" y2="1728.8" stroke="#000" stroke-width="1.6"/>
<line x1="3179.0" y1="1747.0" x2="2986.5" y2="1601.0" stroke="#000" stroke-width="1.6"/>
<line x1="3235.2" y1="1713.7" x2="2972.9" y2="1687.5" stroke="#000" stroke-width="1.6"/>
<line x1="3235.2" y1="1713.7" x2="2980.8" y2="1644.8" stroke="#000" stroke-width="1.6"/>
<line x1="3277.4" y1="1679.7" x2="2972.9" y2="1687.5" stroke="#000" stroke-width="1.6"/>
<line x1="3235.2" y1="1713.7" x2="2986.5" y2="1601.0" stroke="#000" stroke-width="1.6"/>
<line x1="3307.5" y1="1645.3" x2="2972.9" y2="1687.5" stroke="#000" stroke-width="1.6"/>
<line x1="3235.2" y1="1713.7" x2="2990.2" y2="1556.1" stroke="#000" stroke-width="1.6"/>
<line x1="3277.4" y1="1679.7" x2="2980.8" y2="1644.8" stroke="#000" stroke-width="1.6"/>
<line x1="3277.4" y1="1679.7" x2="2986.5" y2="1601.0" stroke="#000" stroke-width="1.6"/>
<line x1="3307.5" y1="1645.3" x2="2980.8" y2="1644.8" stroke="#000" stroke-width="1.6"/>
<line x1="3277.4" y1="1679.7" x2="2990.2" y2="1556.1" stroke="#000" stroke-width="1.6"/>
<line x1="3327.2" y1="1610.4" x2="2980.8" y2="1644.8" stroke="#000" stroke-width="1.6"/>
<line x1="3277.4" y1="1679.7" x2="2992.3" y2="1510.4" stroke="#000" stroke-width="1.6"/>
<line x1="3307.5" y1="1645.3" x2="2986.5" y2="1601.0" stroke="#000" stroke-width="1.6"/>
<line x1="3307.5" y1="1645.3" x2="2990.2" y2="1556.1" stroke="#000" stroke-width="1.6"/>
<line x1="3327.2" y1="1610.4" x2="2986.5" y2="1601.0" stroke="#000" stroke-width="1.6"/>
<line x1="3307.5" y1="1645.3" x2="2992.3" y2="1510.4" stroke="#000" stroke-width="1.6"/>
<line x1="3338.3" y1="1575.1" x2="2986.5" y2="1601.0" stroke="#000" stroke-width="1.6"/>
<line x1="3307.5" y1="1645.3" x2="2993.2" y2="1464.0" stroke="#000" stroke-width="1.6"/>
<line x1="3327.2" y1="1610.4" x2="2990.2" y2="1556.1" stroke="#000" stroke-width="1.6"/>
<line x1="3327.2" y1="1610.4" x2="2992.3" y2="1510.4" stroke="#000" stroke-width="1.6"/>
<line x1="3338.3" y1="1575.1" x2="2990.2" y2="1556.1" stroke="#000" stroke-width="1.6"/>
<line x1="3327.2" y1="1610.4" x2="2993.2" y2="1464.0" stroke="#000" stroke-width="1.6"/>
<line x1="3343.0" y1="1539.6" x2="2990.2" y2="1556.1" stroke="#000" stroke-width="1.6"/>
<line x1="3327.2" y1="1610.4" x2="2993.3" y2="1417.3" stroke="#000" stroke-width="1.6"/>
<line x1="3338.3" y1="1575.1" x2="2992.3" y2="1510.4" stroke="#000" stroke-width="1.6"/>
<line x1="3338.3" y1="1575.1" x2="2993.2" y2="1464.0" stroke="#000" stroke-width="1.6"/>
<line x1="3343.0" y1="1539.6" x2="2992.3" y2="1510.4" stroke="#000" stroke-width="1.6"/>
<line x1="3338.3" y1="1575.1" x2="2993.3" y2="1417.3" stroke="#000" stroke-width="1.6"/>
<line x1="3343.9" y1="1504.0" x2="2992.3" y2="1510.4" stroke="#000" stroke-width="1.6"/>
<line x1="3343.0" y1="1539.6" x2="2993.2" y2="1464.0" stroke="#000" stroke-width="1.6"/>
<line x1="3343.0" y1="1539.6" x2="2993.3" y2="1417.3" stroke="#000" stroke-width="1.6"/>
<line x1="3343.9" y1="1504.0" x2="2993.2" y2="1464.0" stroke="#000" stroke-width="1.6"/>
<line x1="3343.9" y1="1504.0" x2="2993.3" y2="1417.3" stroke="#000" stroke-width="1.6"/>
<line x1="2932.1" y1="1806.7" x2="2832.4" y2="1823.5" stroke="#000" stroke-width="1.6"/>
<line x1="2932.1" y1="1806.7" x2="2766.5" y2="1799.4" stroke="#000" stroke-width="1.6"/>
<line x1="2948.8" y1="1768.6" x2="2832.4" y2="1823.5" stroke="#000" stroke-width="1.6"/>
<line x1="2932.1" y1="1806.7" x2="2713.2" y2="1771.0" stroke="#000" stroke-width="1.6"/>
<line x1="2962.3" y1="1728.8" x2="2832.4" y2="1823.5" stroke="#000" stroke-width="1.6"/>
<line x1="2932.1" y1="1806.7" x2="2671.4" y2="1738.9" stroke="#000" stroke-width="1.6"/>
<line x1="2948.8" y1="1768.6" x2="2766.5" y2="1799.4" stroke="#000" stroke-width="1.6"/>
<line x1="2948.8" y1="1768.6" x2="2713.2" y2="1771.0" stroke="#000" stroke-width="1.6"/>
<line x1="2962.3" y1="1728.8" x2="2766.5" y2="1799.4" stroke="#000" stroke-width="1.6"/>
<line x1="2948.8" y1="1768.6" x2="2671.4" y2="1738.9" stroke="#000" stroke-width="1.6"/>
<line x1="2972.9" y1="1687.5" x2="2766.5" y2="1799.4" stroke="#000" stroke-width="1.6"/>
<line x1="2948.8" y1="1768.6" x2="2639.9" y2="1703.3" stroke="#000" stroke-width="1.6"/>
<line x1="2962.3" y1="1728.8" x2="2713.2" y2="1771.0" stroke="#000" stroke-width="1.6"/>
<line x1="2962.3" y1="1728.8" x2="2671.4" y2="1738.9" stroke="#000" stroke-width="1.6"/>
<line x1="2972.9" y1="1687.5" x2="2713.2" y2="1771.0" stroke="#000" stroke-width="1.6"/>
<line x1="2962.3" y1="1728.8" x2="2639.9" y2="1703.3" stroke="#000" stroke-width="1.6"/>
<line x1="2980.8" y1="1644.8" x2="2713.2" y2="1771.0" stroke="#000" stroke-width="1.6"/>
<line x1="2962.3" y1="1728.8" x2="2617.5" y2="1664.6" stroke="#000" stroke-width="1.6"/>
<line x1="2972.9" y1="1687.5" x2="2671.4" y2="1738.9" stroke="#000" stroke-width="1.6"/>
<line x1="2972.9" y1="1687.5" x2="2639.9" y2="1703.3" stroke="#000" stroke-width="1.6"/>
<line x1="2980.8" y1="1644.8" x2="2671.4" y2="1738.9" stroke="#000" stroke-width="1.6"/>
<line x1="2972.9" y1="1687.5" x2="2617.5" y2="1664.6" stroke="#000" stroke-width="1.6"/>
<line x1="2986.5" y1="1601.0" x2="2671.4" y2="1738.9" stroke="#000" stroke-width="1.6"/>
<line x1="2972.9" y1="1687.5" x2="2602.9" y2="1623.4" stroke="#000" stroke-width="1.6"/>
<line x1="2980.8" y1="1644.8" x2="2639.9" y2="1703.3" stroke="#000" stroke-width="1.6"/>
<line x1="2980.8" y1="1644.8" x2="2617.5" y2="1664.6" stroke="#000" stroke-width="1.6"/>
<line x1="2986.5" y1="1601.0" x2="2639.9" y2="1703.3" stroke="#000" stroke-width="1.6"/>
<line x1="2980.8" y1="1644.8" x2="2602.9" y2="1623.4" stroke="#000" stroke-width="1.6"/>
<line x1="2990.2" y1="1556.1" x2="2639.9" y2="1703.3" stroke="#000" stroke-width="1.6"/>
<line x1="2980.8" y1="1644.8" x2="2594.6" y2="1580.1" stroke="#000" stroke-width="1.6"/>
<line x1="2986.5" y1="1601.0" x2="2617.5" y2="1664.6" stroke="#000" stroke-width="1.6"/>
<line x1="2986.5" y1="1601.0" x2="2602.9" y2="1623.4" stroke="#000" stroke-width="1.6"/>
<line x1="2990.2" y1="1556.1" x2="2617.5" y2="1664.6" stroke="#000" stroke-width="1.6"/>
<line x1="2986.5" y1="1601.0" x2="2594.6" y2="1580.1" stroke="#000" stroke-width="1.6"/>
<line x1="2992.3" y1="1510.4" x2="2617.5" y2="1664.6" stroke="#000" stroke-width="1.6"/>
<line x1="2986.5" y1="1601.0" x2="2591.0" y2="1535.1" stroke="#000" stroke-width="1.6"/>
<line x1="2990.2" y1="1556.1" x2="2602.9" y2="1623.4" stroke="#000" stroke-width="1.6"/>
<line x1="2990.2" y1="1556.1" x2="2594.6" y2="1580.1" stroke="#000" stroke-width="1.6"/>
<line x1="2992.3" y1="1510.4" x2="2602.9" y2="1623.4" stroke="#000" stroke-width="1.6"/>
<line x1="2990.2" y1="1556.1" x2="2591.0" y2="1535.1" stroke="#000" stroke-width="1.6"/>
<line x1="2993.2" y1="1464.0" x2="2602.9" y2="1623.4" stroke="#000" stroke-width="1.6"/>
<line x1="2990.2" y1="1556.1" x2="2590.4" y2="1489.3" stroke="#000" stroke-width="1.6"/>
<line x1="2992.3" y1="1510.4" x2="2594.6" y2="1580.1" stroke="#000" stroke-width="1.6"/>
<line x1="2992.3" y1="1510.4" x2="2591.0" y2="1535.1" stroke="#000" stroke-width="1.6"/>
<line x1="2993.2" y1="1464.0" x2="2594.6" y2="1580.1" stroke="#000" stroke-width="1.6"/>
<line x1="2992.3" y1="1510.4" x2="2590.4" y2="1489.3" stroke="#000" stroke-width="1.6"/>
<line x1="2993.3" y1="1417.3" x2="2594.6" y2="1580.1" stroke="#000" stroke-width="1.6"/>
<line x1="2993.2" y1="1464.0" x2="2591.0" y2="1535.1" stroke="#000" stroke-width="1.6"/>
<line x1="2993.2" y1="1464.0" x2="2590.4" y2="1489.3" stroke="#000" stroke-width="1.6"/>
<line x1="2993.3" y1="1417.3" x2="2591.0" y2="1535.1" stroke="#000" stroke-width="1.6"/>
<line x1="2993.3" y1="1417.3" x2="2590.4" y2="1489.3" stroke="#000" stroke-width="1.6"/>
<line x1="2912.0" y1="1356.7" x2="2671.4" y2="1738.9" stroke="#000" stroke-width="1.6"/>
<line x1="2912.0" y1="1356.7" x2="2639.9" y2="1703.3" stroke="#000" stroke-width="1.6"/>
<line x1="2912.0" y1="1356.7" x2="2617.5" y2="1664.6" stroke="#000" stroke-width="1.6"/>
<line x1="2912.0" y1="1356.7" x2="2602.9" y2="1623.4" stroke="#000" stroke-width="1.6"/>
<line x1="2912.0" y1="1356.7" x2="2594.6" y2="1580.1" stroke="#000" stroke-width="1.6"/>
<line x1="2912.0" y1="1356.7" x2="2591.0" y2="1535.1" stroke="#000" stroke-width="1.6"/>
<line x1="2912.0" y1="1356.7" x2="2590.4" y2="1489.3" stroke="#000" stroke-width="1.6"/>
<line x1="2912.0" y1="1356.7" x2="2638.3" y2="1691.1" stroke="#000" stroke-width="1.6"/>
<line x1="2912.0" y1="1356.7" x2="2602.5" y2="1648.3" stroke="#000" stroke-width="1.6"/>
<line x1="2912.0" y1="1356.7" x2="2577.0" y2="1603.9" stroke="#000" stroke-width="1.6"/>
<line x1="2912.0" y1="1356.7" x2="2560.3" y2="1558.2" stroke="#000" stroke-width="1.6"/>
<line x1="2912.0" y1="1356.7" x2="2550.9" y2="1511.4" stroke="#000" stroke-width="1.6"/>
<line x1="2912.0" y1="1356.7" x2="2546.9" y2="1463.8" stroke="#000" stroke-width="1.6"/>
<line x1="2912.0" y1="1356.7" x2="2546.2" y2="1415.7" stroke="#000" stroke-width="1.6"/>
<line x1="2912.0" y1="1356.7" x2="3235.2" y2="1713.7" stroke="#000" stroke-width="1.6"/>
<line x1="2912.0" y1="1356.7" x2="3277.4" y2="1679.7" stroke="#000" stroke-width="1.6"/>
<line x1="2912.0" y1="1356.7" x2="3307.5" y2="1645.3" stroke="#000" stroke-width="1.6"/>
<line x1="2912.0" y1="1356.7" x2="3327.2" y2="1610.4" stroke="#000" stroke-width="1.6"/>
<line x1="2912.0" y1="1356.7" x2="3338.3" y2="1575.1" stroke="#000" stroke-width="1.6"/>
<line x1="2912.0" y1="1356.7" x2="3343.0" y2="1539.6" stroke="#000" stroke-width="1.6"/>
<line x1="2912.0" y1="1356.7" x2="3343.9" y2="1504.0" stroke="#000" stroke-width="1.6"/>
<line x1="2912.0" y1="1356.7" x2="2972.9" y2="1687.5" stroke="#000" stroke-width="1.6"/>
<line x1="2912.0" y1="1356.7" x2="2980.8" y2="1644.8" stroke="#000" stroke-width="1.6"/>
<line x1="2912.0" y1="1356.7" x2="2986.5" y2="1601.0" stroke="#000" stroke-width="1.6"/>
<line x1="2912.0" y1="1356.7" x2="2990.2" y2="1556.1" stroke="#000" stroke-width="1.6"/>
<line x1="2912.0" y1="1356.7" x2="2992.3" y2="1510.4" stroke="#000" stroke-width="1.6"/>
<line x1="2912.0" y1="1356.7" x2="2993.2" y2="1464.0" stroke="#000" stroke-width="1.6"/>
<line x1="2912.0" y1="1356.7" x2="2993.3" y2="1417.3" stroke="#000" stroke-width="1.6"/>
<line x1="2590.4" y1="1489.3" x2="2546.2" y2="1415.7" stroke="#000" stroke-width="1.6"/>
<line x1="3343.9" y1="1504.0" x2="2993.3" y2="1417.3" stroke="#000" stroke-width="1.6"/>
<line x1="2993.3" y1="1417.3" x2="2590.4" y2="1489.3" stroke="#000" stroke-width="1.6"/>
<line x1="2168.75" y1="1817.00" x2="2168.75" y2="1330.75" stroke="#262626" stroke-width="2"/>
<line x1="2168.75" y1="1817.00" x2="2815.00" y2="2040.00" stroke="#262626" stroke-width="2"/>
<line x1="2815.00" y1="2040.00" x2="3655.25" y2="1869.00" stroke="#262626" stroke-width="2"/>
<line x1="2168.75" y1="1817.00" x2="2133.25" y2="1805.00" stroke="#262626" stroke-width="2"/>
<text x="2122.00" y="1803.75" font-size="22.3" text-anchor="end" fill="#262626">0</text>
<line x1="2168.75" y1="1817.00" x2="2132.00" y2="1824.00" stroke="#262626" stroke-width="2"/>
<text x="2120.25" y="1847.50" font-size="22.3" text-anchor="end" fill="#262626">1024</text>
<line x1="2815.00" y1="2040.00" x2="2851.25" y2="2052.00" stroke="#262626" stroke-width="2"/>
<text x="2861.50" y="2076.50" font-size="22.3" text-anchor="start" fill="#262626">-512</text>
<line x1="2168.75" y1="1786.61" x2="2133.25" y2="1774.61" stroke="#262626" stroke-width="2"/>
<text x="2122.00" y="1773.36" font-size="22.3" text-anchor="end" fill="#262626">128</text>
<line x1="2209.14" y1="1830.94" x2="2172.39" y2="1837.94" stroke="#262626" stroke-width="2"/>
<text x="2160.64" y="1861.44" font-size="22.3" text-anchor="end" fill="#262626">896</text>
<line x1="2867.52" y1="2029.31" x2="2903.77" y2="2041.31" stroke="#262626" stroke-width="2"/>
<text x="2914.02" y="2065.81" font-size="22.3" text-anchor="start" fill="#262626">-448</text>
<line x1="2168.75" y1="1756.22" x2="2133.25" y2="1744.22" stroke="#262626" stroke-width="2"/>
<text x="2122.00" y="1742.97" font-size="22.3" text-anchor="end" fill="#262626">256</text>
<line x1="2249.53" y1="1844.88" x2="2212.78" y2="1851.88" stroke="#262626" stroke-width="2"/>
<text x="2201.03" y="1875.38" font-size="22.3" text-anchor="end" fill="#262626">768</text>
<line x1="2920.03" y1="2018.62" x2="2956.28" y2="2030.62" stroke="#262626" stroke-width="2"/>
<text x="2966.53" y="2055.12" font-size="22.3" text-anchor="start" fill="#262626">-384</text>
<line x1="2168.75" y1="1725.83" x2="2133.25" y2="1713.83" stroke="#262626" stroke-width="2"/>
<text x="2122.00" y="1712.58" font-size="22.3" text-anchor="end" fill="#262626">384</text>
<line x1="2289.92" y1="1858.81" x2="2253.17" y2="1865.81" stroke="#262626" stroke-width="2"/>
<text x="2241.42" y="1889.31" font-size="22.3" text-anchor="end" fill="#262626">640</text>
<line x1="2972.55" y1="2007.94" x2="3008.80" y2="2019.94" stroke="#262626" stroke-width="2"/>
<text x="3019.05" y="2044.44" font-size="22.3" text-anchor="start" fill="#262626">-320</text>
<line x1="2168.75" y1="1695.44" x2="2133.25" y2="1683.44" stroke="#262626" stroke-width="2"/>
<text x="2122.00" y="1682.19" font-size="22.3" text-anchor="end" fill="#262626">512</text>
<line x1="2330.31" y1="1872.75" x2="2293.56" y2="1879.75" stroke="#262626" stroke-width="2"/>
<text x="2281.81" y="1903.25" font-size="22.3" text-anchor="end" fill="#262626">512</text>
<line x1="3025.06" y1="1997.25" x2="3061.31" y2="2009.25" stroke="#262626" stroke-width="2"/>
<text x="3071.56" y="2033.75" font-size="22.3" text-anchor="start" fill="#262626">-256</text>
<line x1="2168.75" y1="1665.05" x2="2133.25" y2="1653.05" stroke="#262626" stroke-width="2"/>
<text x="2122.00" y="1651.80" font-size="22.3" text-anchor="end" fill="#262626">640</text>
<line x1="2370.70" y1="1886.69" x2="2333.95" y2="1893.69" stroke="#262626" stroke-width="2"/>
<text x="2322.20" y="1917.19" font-size="22.3" text-anchor="end" fill="#262626">384</text>
<line x1="3077.58" y1="1986.56" x2="3113.83" y2="1998.56" stroke="#262626" stroke-width="2"/>
<text x="3124.08" y="2023.06" font-size="22.3" text-anchor="start" fill="#262626">-192</text>
<line x1="2168.75" y1="1634.66" x2="2133.25" y2="1622.66" stroke="#262626" stroke-width="2"/>
<text x="2122.00" y="1621.41" font-size="22.3" text-anchor="end" fill="#262626">768</text>
<line x1="2411.09" y1="1900.62" x2="2374.34" y2="1907.62" stroke="#262626" stroke-width="2"/>
<text x="2362.59" y="1931.12" font-size="22.3" text-anchor="end" fill="#262626">256</text>
<line x1="3130.09" y1="1975.88" x2="3166.34" y2="1987.88" stroke="#262626" stroke-width="2"/>
<text x="3176.59" y="2012.38" font-size="22.3" text-anchor="start" fill="#262626">-128</text>
<line x1="2168.75" y1="1604.27" x2="2133.25" y2="1592.27" stroke="#262626" stroke-width="2"/>
<text x="2122.00" y="1591.02" font-size="22.3" text-anchor="end" fill="#262626">896</text>
<line x1="2451.48" y1="1914.56" x2="2414.73" y2="1921.56" stroke="#262626" stroke-width="2"/>
<text x="2402.98" y="1945.06" font-size="22.3" text-anchor="end" fill="#262626">128</text>
<line x1="3182.61" y1="1965.19" x2="3218.86" y2="1977.19" stroke="#262626" stroke-width="2"/>
<text x="3229.11" y="2001.69" font-size="22.3" text-anchor="start" fill="#262626">-64</text>
<line x1="2168.75" y1="1573.88" x2="2133.25" y2="1561.88" stroke="#262626" stroke-width="2"/>
<text x="2122.00" y="1560.62" font-size="22.3" text-anchor="end" fill="#262626">1024</text>
<line x1="2491.88" y1="1928.50" x2="2455.12" y2="1935.50" stroke="#262626" stroke-width="2"/>
<text x="2443.38" y="1959.00" font-size="22.3" text-anchor="end" fill="#262626">0</text>
<line x1="3235.12" y1="1954.50" x2="3271.38" y2="1966.50" stroke="#262626" stroke-width="2"/>
<text x="3281.62" y="1991.00" font-size="22.3" text-anchor="start" fill="#262626">0</text>
<line x1="2168.75" y1="1543.48" x2="2133.25" y2="1531.48" stroke="#262626" stroke-width="2"/>
<text x="2122.00" y="1530.23" font-size="22.3" text-anchor="end" fill="#262626">1152</text>
<line x1="2532.27" y1="1942.44" x2="2495.52" y2="1949.44" stroke="#262626" stroke-width="2"/>
<text x="2483.77" y="1972.94" font-size="22.3" text-anchor="end" fill="#262626">-128</text>
<line x1="3287.64" y1="1943.81" x2="3323.89" y2="1955.81" stroke="#262626" stroke-width="2"/>
<text x="3334.14" y="1980.31" font-size="22.3" text-anchor="start" fill="#262626">64</text>
<line x1="2168.75" y1="1513.09" x2="2133.25" y2="1501.09" stroke="#262626" stroke-width="2"/>
<text x="2122.00" y="1499.84" font-size="22.3" text-anchor="end" fill="#262626">1280</text>
<line x1="2572.66" y1="1956.38" x2="2535.91" y2="1963.38" stroke="#262626" stroke-width="2"/>
<text x="2524.16" y="1986.88" font-size="22.3" text-anchor="end" fill="#262626">-256</text>
<line x1="3340.16" y1="1933.12" x2="3376.41" y2="1945.12" stroke="#262626" stroke-width="2"/>
<text x="3386.66" y="1969.62" font-size="22.3" text-anchor="start" fill="#262626">128</text>
<line x1="2168.75" y1="1482.70" x2="2133.25" y2="1470.70" stroke="#262626" stroke-width="2"/>
<text x="2122.00" y="1469.45" font-size="22.3" text-anchor="end" fill="#262626">1408</text>
<line x1="2613.05" y1="1970.31" x2="2576.30" y2="1977.31" stroke="#262626" stroke-width="2"/>
<text x="2564.55" y="2000.81" font-size="22.3" text-anchor="end" fill="#262626">-384</text>
<line x1="3392.67" y1="1922.44" x2="3428.92" y2="1934.44" stroke="#262626" stroke-width="2"/>
<text x="3439.17" y="1958.94" font-size="22.3" text-anchor="start" fill="#262626">192</text>
<line x1="2168.75" y1="1452.31" x2="2133.25" y2="1440.31" stroke="#262626" stroke-width="2"/>
<text x="2122.00" y="1439.06" font-size="22.3" text-anchor="end" fill="#262626">1536</text>
<line x1="2653.44" y1="1984.25" x2="2616.69" y2="1991.25" stroke="#262626" stroke-width="2"/>
<text x="2604.94" y="2014.75" font-size="22.3" text-anchor="end" fill="#262626">-512</text>
<line x1="3445.19" y1="1911.75" x2="3481.44" y2="1923.75" stroke="#262626" stroke-width="2"/>
<text x="3491.69" y="1948.25" font-size="22.3" text-anchor="start" fill="#262626">256</text>
<line x1="2168.75" y1="1421.92" x2="2133.25" y2="1409.92" stroke="#262626" stroke-width="2"/>
<text x="2122.00" y="1408.67" font-size="22.3" text-anchor="end" fill="#262626">1664</text>
<line x1="2693.83" y1="1998.19" x2="2657.08" y2="2005.19" stroke="#262626" stroke-width="2"/>
<text x="2645.33" y="2028.69" font-size="22.3" text-anchor="end" fill="#262626">-640</text>
<line x1="3497.70" y1="1901.06" x2="3533.95" y2="1913.06" stroke="#262626" stroke-width="2"/>
<text x="3544.20" y="1937.56" font-size="22.3" text-anchor="start" fill="#262626">320</text>
<line x1="2168.75" y1="1391.53" x2="2133.25" y2="1379.53" stroke="#262626" stroke-width="2"/>
<text x="2122.00" y="1378.28" font-size="22.3" text-anchor="end" fill="#262626">1792</text>
<line x1="2734.22" y1="2012.12" x2="2697.47" y2="2019.12" stroke="#262626" stroke-width="2"/>
<text x="2685.72" y="2042.62" font-size="22.3" text-anchor="end" fill="#262626">-768</text>
<line x1="3550.22" y1="1890.38" x2="3586.47" y2="1902.38" stroke="#262626" stroke-width="2"/>
<text x="3596.72" y="1926.88" font-size="22.3" text-anchor="start" fill="#262626">384</text>
<line x1="2168.75" y1="1361.14" x2="2133.25" y2="1349.14" stroke="#262626" stroke-width="2"/>
<text x="2122.00" y="1347.89" font-size="22.3" text-anchor="end" fill="#262626">1920</text>
<line x1="2774.61" y1="2026.06" x2="2737.86" y2="2033.06" stroke="#262626" stroke-width="2"/>
<text x="2726.11" y="2056.56" font-size="22.3" text-anchor="end" fill="#262626">-896</text>
<line x1="3602.73" y1="1879.69" x2="3638.98" y2="1891.69" stroke="#262626" stroke-width="2"/>
<text x="3649.23" y="1916.19" font-size="22.3" text-anchor="start" fill="#262626">448</text>
<line x1="2168.75" y1="1330.75" x2="2133.25" y2="1318.75" stroke="#262626" stroke-width="2"/>
<text x="2122.00" y="1317.50" font-size="22.3" text-anchor="end" fill="#262626">2048</text>
<line x1="2815.00" y1="2040.00" x2="2778.25" y2="2047.00" stroke="#262626" stroke-width="2"/>
<text x="2766.50" y="2070.50" font-size="22.3" text-anchor="end" fill="#262626">-1024</text>
<line x1="3655.25" y1="1869.00" x2="3691.50" y2="1881.00" stroke="#262626" stroke-width="2"/>
<text x="3701.75" y="1905.50" font-size="22.3" text-anchor="start" fill="#262626">512</text>
<text x="2353.50" y="1983.75" font-size="24.5" text-anchor="start" fill="#262626">C</text>
<text x="2370.00" y="1997.50" font-size="19" text-anchor="start" fill="#262626">p</text>
<text x="3324.50" y="2016.00" font-size="24.5" text-anchor="start" fill="#262626">C</text>
<text x="3341.00" y="2029.50" font-size="19" text-anchor="start" fill="#262626">t</text>
<text transform="translate(2070,1558) rotate(-90)" font-size="23" text-anchor="middle" fill="#262626" textLength="104" lengthAdjust="spacingAndGlyphs">Luminosity</text>
</svg></body></html>
